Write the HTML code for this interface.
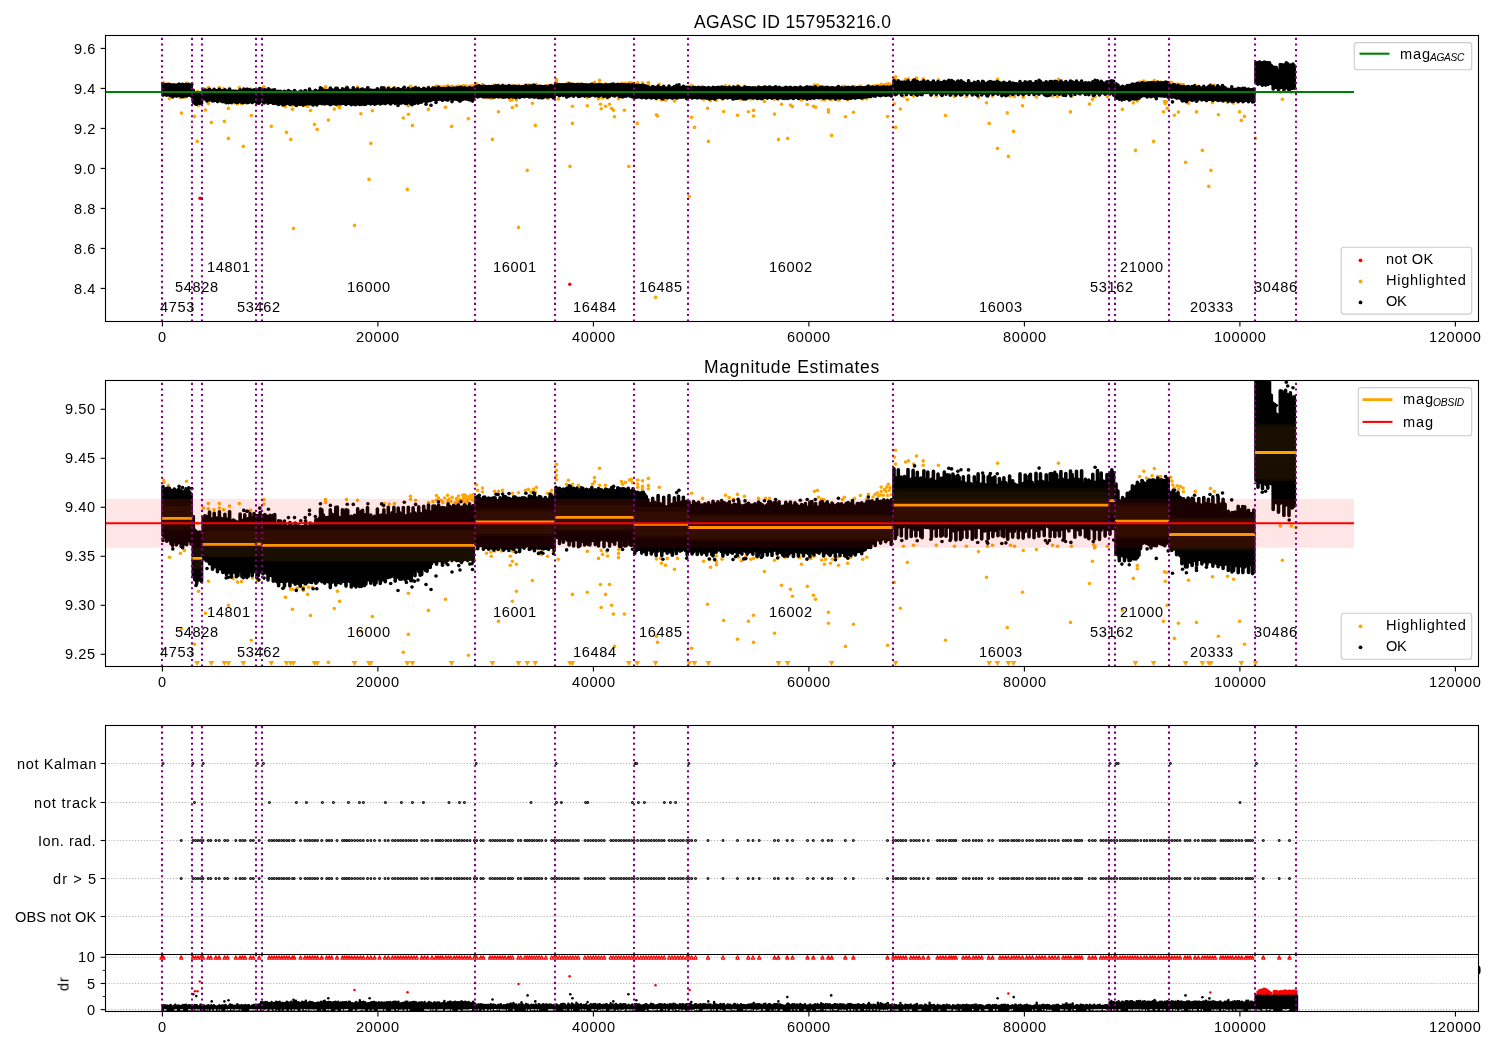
<!DOCTYPE html>
<html><head><meta charset="utf-8"><title>AGASC ID 157953216.0</title>
<style>
html,body{margin:0;padding:0;background:#fff;}
body{width:1500px;height:1050px;position:relative;overflow:hidden;font-family:"Liberation Sans",sans-serif;color:#000;}
svg{position:absolute;left:0;top:0;}
.t{position:absolute;white-space:nowrap;font-family:"Liberation Sans",sans-serif;will-change:transform;}
</style></head><body>
<svg width="1500" height="1050" viewBox="0 0 1500 1050">
<defs>
<clipPath id="c1"><rect x="105.5" y="35.5" width="1373.0" height="286.0"/></clipPath>
<clipPath id="c2"><rect x="105.5" y="380.5" width="1373.0" height="286.0"/></clipPath>
<clipPath id="c3"><rect x="105.5" y="725.5" width="1373.0" height="286.0"/></clipPath>
</defs>
<g clip-path="url(#c1)">
<g fill="#ffa500"><circle cx="169.5" cy="98.6" r="1.8"/><circle cx="180.4" cy="97.8" r="1.8"/><circle cx="184.4" cy="97.2" r="1.8"/><circle cx="208.4" cy="103.5" r="1.8"/><circle cx="198.5" cy="105.5" r="1.8"/><circle cx="205.5" cy="110.0" r="1.8"/><circle cx="228.4" cy="108.4" r="1.8"/><circle cx="181.5" cy="113.1" r="1.8"/><circle cx="194.5" cy="116.4" r="1.8"/><circle cx="251.3" cy="115.5" r="1.8"/><circle cx="233.2" cy="102.9" r="1.8"/><circle cx="237.5" cy="103.7" r="1.8"/><circle cx="241.5" cy="103.6" r="1.8"/><circle cx="252.4" cy="102.8" r="1.8"/><circle cx="257.5" cy="103.4" r="1.8"/><circle cx="283.6" cy="104.9" r="1.8"/><circle cx="285.5" cy="106.8" r="1.8"/><circle cx="290.8" cy="105.1" r="1.8"/><circle cx="292.9" cy="105.1" r="1.8"/><circle cx="297.2" cy="104.9" r="1.8"/><circle cx="303.3" cy="104.7" r="1.8"/><circle cx="303.3" cy="105.4" r="1.8"/><circle cx="307.6" cy="106.2" r="1.8"/><circle cx="308.4" cy="104.7" r="1.8"/><circle cx="312.4" cy="104.7" r="1.8"/><circle cx="292.4" cy="109.2" r="1.8"/><circle cx="310.5" cy="110.5" r="1.8"/><circle cx="337.5" cy="105.5" r="1.8"/><circle cx="339.6" cy="107.6" r="1.8"/><circle cx="334.3" cy="109.1" r="1.8"/><circle cx="372.4" cy="110.7" r="1.8"/><circle cx="360.9" cy="113.7" r="1.8"/><circle cx="328.4" cy="120.1" r="1.8"/><circle cx="408.4" cy="106.0" r="1.8"/><circle cx="445.5" cy="107.2" r="1.8"/><circle cx="428.4" cy="109.4" r="1.8"/><circle cx="408.4" cy="114.3" r="1.8"/><circle cx="403.3" cy="118.0" r="1.8"/><circle cx="468.4" cy="118.6" r="1.8"/><circle cx="486.5" cy="97.8" r="1.8"/><circle cx="490.8" cy="97.5" r="1.8"/><circle cx="491.3" cy="98.4" r="1.8"/><circle cx="494.8" cy="97.3" r="1.8"/><circle cx="501.5" cy="97.3" r="1.8"/><circle cx="510.3" cy="98.4" r="1.8"/><circle cx="512.7" cy="97.4" r="1.8"/><circle cx="515.3" cy="97.4" r="1.8"/><circle cx="512.4" cy="99.4" r="1.8"/><circle cx="516.4" cy="100.0" r="1.8"/><circle cx="510.3" cy="100.2" r="1.8"/><circle cx="538.5" cy="97.5" r="1.8"/><circle cx="541.2" cy="98.0" r="1.8"/><circle cx="547.6" cy="98.4" r="1.8"/><circle cx="553.5" cy="97.4" r="1.8"/><circle cx="532.4" cy="103.3" r="1.8"/><circle cx="516.4" cy="105.5" r="1.8"/><circle cx="512.4" cy="107.6" r="1.8"/><circle cx="498.5" cy="111.7" r="1.8"/><circle cx="558.3" cy="99.0" r="1.8"/><circle cx="587.3" cy="97.4" r="1.8"/><circle cx="601.2" cy="97.2" r="1.8"/><circle cx="602.5" cy="98.0" r="1.8"/><circle cx="598.5" cy="98.8" r="1.8"/><circle cx="606.8" cy="97.4" r="1.8"/><circle cx="607.6" cy="98.3" r="1.8"/><circle cx="618.8" cy="97.0" r="1.8"/><circle cx="618.5" cy="97.8" r="1.8"/><circle cx="618.5" cy="98.7" r="1.8"/><circle cx="600.4" cy="104.2" r="1.8"/><circle cx="609.5" cy="104.2" r="1.8"/><circle cx="572.4" cy="106.2" r="1.8"/><circle cx="587.3" cy="105.7" r="1.8"/><circle cx="605.5" cy="106.2" r="1.8"/><circle cx="601.2" cy="108.8" r="1.8"/><circle cx="611.6" cy="108.4" r="1.8"/><circle cx="613.5" cy="110.2" r="1.8"/><circle cx="624.4" cy="110.2" r="1.8"/><circle cx="614.5" cy="116.8" r="1.8"/><circle cx="656.4" cy="98.9" r="1.8"/><circle cx="660.7" cy="98.8" r="1.8"/><circle cx="667.3" cy="98.8" r="1.8"/><circle cx="677.5" cy="98.8" r="1.8"/><circle cx="661.5" cy="99.8" r="1.8"/><circle cx="665.5" cy="100.2" r="1.8"/><circle cx="674.5" cy="101.1" r="1.8"/><circle cx="656.4" cy="114.7" r="1.8"/><circle cx="657.5" cy="116.0" r="1.8"/><circle cx="691.6" cy="117.2" r="1.8"/><circle cx="703.6" cy="99.4" r="1.8"/><circle cx="709.5" cy="99.0" r="1.8"/><circle cx="710.5" cy="100.6" r="1.8"/><circle cx="716.4" cy="99.5" r="1.8"/><circle cx="716.4" cy="100.1" r="1.8"/><circle cx="722.0" cy="99.0" r="1.8"/><circle cx="716.4" cy="98.3" r="1.8"/><circle cx="738.8" cy="98.6" r="1.8"/><circle cx="741.5" cy="99.3" r="1.8"/><circle cx="746.0" cy="98.4" r="1.8"/><circle cx="750.8" cy="99.0" r="1.8"/><circle cx="753.5" cy="98.8" r="1.8"/><circle cx="757.5" cy="98.6" r="1.8"/><circle cx="774.5" cy="99.2" r="1.8"/><circle cx="778.5" cy="98.6" r="1.8"/><circle cx="785.2" cy="98.6" r="1.8"/><circle cx="793.5" cy="98.4" r="1.8"/><circle cx="799.6" cy="98.7" r="1.8"/><circle cx="801.5" cy="100.0" r="1.8"/><circle cx="806.5" cy="99.0" r="1.8"/><circle cx="810.8" cy="98.8" r="1.8"/><circle cx="814.3" cy="98.4" r="1.8"/><circle cx="821.5" cy="99.2" r="1.8"/><circle cx="825.5" cy="99.0" r="1.8"/><circle cx="824.4" cy="100.0" r="1.8"/><circle cx="830.5" cy="99.8" r="1.8"/><circle cx="832.4" cy="99.0" r="1.8"/><circle cx="837.5" cy="98.6" r="1.8"/><circle cx="838.5" cy="100.2" r="1.8"/><circle cx="844.4" cy="98.4" r="1.8"/><circle cx="847.6" cy="99.8" r="1.8"/><circle cx="850.8" cy="98.6" r="1.8"/><circle cx="862.8" cy="99.0" r="1.8"/><circle cx="866.8" cy="98.6" r="1.8"/><circle cx="764.4" cy="101.5" r="1.8"/><circle cx="781.5" cy="104.3" r="1.8"/><circle cx="790.5" cy="105.1" r="1.8"/><circle cx="792.4" cy="106.6" r="1.8"/><circle cx="807.3" cy="104.5" r="1.8"/><circle cx="813.5" cy="106.3" r="1.8"/><circle cx="815.6" cy="107.2" r="1.8"/><circle cx="707.6" cy="108.2" r="1.8"/><circle cx="723.6" cy="111.5" r="1.8"/><circle cx="748.4" cy="111.7" r="1.8"/><circle cx="753.5" cy="110.4" r="1.8"/><circle cx="737.5" cy="115.3" r="1.8"/><circle cx="753.5" cy="116.0" r="1.8"/><circle cx="774.5" cy="114.1" r="1.8"/><circle cx="828.4" cy="109.8" r="1.8"/><circle cx="828.4" cy="112.1" r="1.8"/><circle cx="853.5" cy="112.3" r="1.8"/><circle cx="845.5" cy="116.8" r="1.8"/><circle cx="887.6" cy="116.6" r="1.8"/><circle cx="894.3" cy="103.7" r="1.8"/><circle cx="900.4" cy="109.0" r="1.8"/><circle cx="907.3" cy="99.6" r="1.8"/><circle cx="945.5" cy="115.5" r="1.8"/><circle cx="978.5" cy="97.4" r="1.8"/><circle cx="986.5" cy="102.7" r="1.8"/><circle cx="1023.3" cy="97.2" r="1.8"/><circle cx="1036.4" cy="97.0" r="1.8"/><circle cx="1022.5" cy="105.7" r="1.8"/><circle cx="1007.3" cy="112.9" r="1.8"/><circle cx="1070.5" cy="111.9" r="1.8"/><circle cx="1092.4" cy="99.4" r="1.8"/><circle cx="1089.5" cy="104.0" r="1.8"/><circle cx="1094.5" cy="96.7" r="1.8"/><circle cx="903.5" cy="96.4" r="1.8"/><circle cx="913.6" cy="96.1" r="1.8"/><circle cx="936.3" cy="96.1" r="1.8"/><circle cx="954.4" cy="96.4" r="1.8"/><circle cx="966.4" cy="96.4" r="1.8"/><circle cx="987.5" cy="96.4" r="1.8"/><circle cx="992.5" cy="96.1" r="1.8"/><circle cx="1010.4" cy="96.1" r="1.8"/><circle cx="1014.4" cy="96.4" r="1.8"/><circle cx="1052.5" cy="96.1" r="1.8"/><circle cx="1057.6" cy="96.4" r="1.8"/><circle cx="1071.5" cy="96.4" r="1.8"/><circle cx="1093.6" cy="96.0" r="1.8"/><circle cx="1107.5" cy="96.4" r="1.8"/><circle cx="895.5" cy="76.8" r="1.8"/><circle cx="894.4" cy="78.2" r="1.8"/><circle cx="895.5" cy="79.6" r="1.8"/><circle cx="905.6" cy="79.2" r="1.8"/><circle cx="908.5" cy="78.9" r="1.8"/><circle cx="916.5" cy="78.0" r="1.8"/><circle cx="913.6" cy="79.6" r="1.8"/><circle cx="923.2" cy="78.9" r="1.8"/><circle cx="923.2" cy="79.8" r="1.8"/><circle cx="938.4" cy="79.8" r="1.8"/><circle cx="997.6" cy="79.4" r="1.8"/><circle cx="1058.4" cy="79.4" r="1.8"/><circle cx="1137.3" cy="100.3" r="1.8"/><circle cx="1137.3" cy="101.0" r="1.8"/><circle cx="1133.3" cy="102.9" r="1.8"/><circle cx="1164.5" cy="101.5" r="1.8"/><circle cx="1166.4" cy="101.7" r="1.8"/><circle cx="1165.3" cy="103.5" r="1.8"/><circle cx="1122.4" cy="109.4" r="1.8"/><circle cx="1167.2" cy="108.4" r="1.8"/><circle cx="1163.5" cy="111.7" r="1.8"/><circle cx="1178.4" cy="112.1" r="1.8"/><circle cx="1196.5" cy="111.9" r="1.8"/><circle cx="1174.4" cy="115.2" r="1.8"/><circle cx="1188.5" cy="103.3" r="1.8"/><circle cx="1212.5" cy="102.6" r="1.8"/><circle cx="1227.5" cy="102.5" r="1.8"/><circle cx="1233.6" cy="103.1" r="1.8"/><circle cx="1218.4" cy="114.7" r="1.8"/><circle cx="1239.5" cy="111.7" r="1.8"/><circle cx="1244.5" cy="116.4" r="1.8"/><circle cx="1282.4" cy="99.2" r="1.8"/><circle cx="1095.0" cy="96.4" r="1.8"/><circle cx="163.6" cy="82.8" r="1.8"/><circle cx="164.1" cy="83.3" r="1.8"/><circle cx="168.4" cy="83.9" r="1.8"/><circle cx="186.5" cy="83.1" r="1.8"/><circle cx="193.5" cy="92.5" r="1.8"/><circle cx="197.5" cy="91.6" r="1.8"/><circle cx="203.6" cy="88.5" r="1.8"/><circle cx="208.4" cy="87.6" r="1.8"/><circle cx="208.4" cy="88.7" r="1.8"/><circle cx="214.0" cy="88.9" r="1.8"/><circle cx="219.3" cy="87.6" r="1.8"/><circle cx="219.3" cy="88.5" r="1.8"/><circle cx="223.6" cy="88.9" r="1.8"/><circle cx="229.5" cy="88.2" r="1.8"/><circle cx="229.5" cy="89.2" r="1.8"/><circle cx="239.3" cy="87.6" r="1.8"/><circle cx="250.5" cy="89.0" r="1.8"/><circle cx="260.4" cy="88.6" r="1.8"/><circle cx="263.9" cy="86.8" r="1.8"/><circle cx="263.9" cy="87.7" r="1.8"/><circle cx="325.5" cy="86.8" r="1.8"/><circle cx="325.5" cy="87.4" r="1.8"/><circle cx="346.5" cy="86.8" r="1.8"/><circle cx="357.5" cy="87.0" r="1.8"/><circle cx="384.4" cy="87.6" r="1.8"/><circle cx="389.2" cy="87.7" r="1.8"/><circle cx="394.5" cy="87.6" r="1.8"/><circle cx="410.5" cy="86.2" r="1.8"/><circle cx="410.5" cy="86.7" r="1.8"/><circle cx="415.6" cy="87.0" r="1.8"/><circle cx="436.4" cy="86.0" r="1.8"/><circle cx="436.4" cy="86.9" r="1.8"/><circle cx="440.9" cy="87.0" r="1.8"/><circle cx="447.6" cy="85.9" r="1.8"/><circle cx="452.1" cy="86.4" r="1.8"/><circle cx="447.6" cy="87.1" r="1.8"/><circle cx="462.8" cy="85.9" r="1.8"/><circle cx="466.8" cy="86.2" r="1.8"/><circle cx="462.8" cy="86.9" r="1.8"/><circle cx="467.6" cy="86.9" r="1.8"/><circle cx="465.2" cy="87.4" r="1.8"/><circle cx="472.4" cy="86.9" r="1.8"/><circle cx="442.8" cy="87.4" r="1.8"/><circle cx="455.6" cy="87.4" r="1.8"/><circle cx="476.4" cy="83.8" r="1.8"/><circle cx="477.7" cy="85.0" r="1.8"/><circle cx="482.5" cy="84.5" r="1.8"/><circle cx="482.5" cy="85.3" r="1.8"/><circle cx="494.5" cy="85.1" r="1.8"/><circle cx="498.5" cy="85.1" r="1.8"/><circle cx="502.5" cy="85.0" r="1.8"/><circle cx="498.5" cy="85.6" r="1.8"/><circle cx="512.4" cy="85.5" r="1.8"/><circle cx="518.5" cy="85.4" r="1.8"/><circle cx="525.5" cy="85.0" r="1.8"/><circle cx="528.4" cy="84.7" r="1.8"/><circle cx="530.8" cy="85.3" r="1.8"/><circle cx="533.5" cy="84.7" r="1.8"/><circle cx="536.4" cy="84.3" r="1.8"/><circle cx="535.3" cy="85.3" r="1.8"/><circle cx="547.6" cy="85.5" r="1.8"/><circle cx="551.6" cy="85.0" r="1.8"/><circle cx="552.4" cy="85.8" r="1.8"/><circle cx="556.4" cy="79.6" r="1.8"/><circle cx="556.4" cy="80.9" r="1.8"/><circle cx="556.4" cy="81.9" r="1.8"/><circle cx="556.4" cy="82.7" r="1.8"/><circle cx="568.4" cy="82.9" r="1.8"/><circle cx="566.5" cy="83.7" r="1.8"/><circle cx="572.4" cy="83.7" r="1.8"/><circle cx="578.5" cy="83.9" r="1.8"/><circle cx="599.6" cy="80.4" r="1.8"/><circle cx="594.5" cy="82.3" r="1.8"/><circle cx="594.5" cy="83.2" r="1.8"/><circle cx="592.4" cy="83.7" r="1.8"/><circle cx="599.6" cy="83.9" r="1.8"/><circle cx="605.5" cy="83.9" r="1.8"/><circle cx="621.5" cy="83.2" r="1.8"/><circle cx="625.5" cy="83.3" r="1.8"/><circle cx="622.5" cy="83.7" r="1.8"/><circle cx="629.5" cy="82.8" r="1.8"/><circle cx="631.3" cy="82.7" r="1.8"/><circle cx="632.4" cy="83.3" r="1.8"/><circle cx="637.7" cy="82.8" r="1.8"/><circle cx="637.7" cy="83.6" r="1.8"/><circle cx="637.7" cy="84.3" r="1.8"/><circle cx="642.5" cy="83.0" r="1.8"/><circle cx="642.5" cy="84.1" r="1.8"/><circle cx="642.5" cy="84.8" r="1.8"/><circle cx="648.4" cy="82.5" r="1.8"/><circle cx="648.4" cy="84.0" r="1.8"/><circle cx="648.4" cy="84.6" r="1.8"/><circle cx="659.3" cy="84.3" r="1.8"/><circle cx="691.6" cy="85.5" r="1.8"/><circle cx="702.5" cy="86.6" r="1.8"/><circle cx="725.5" cy="85.9" r="1.8"/><circle cx="729.2" cy="86.4" r="1.8"/><circle cx="733.5" cy="86.7" r="1.8"/><circle cx="737.5" cy="85.8" r="1.8"/><circle cx="744.4" cy="86.2" r="1.8"/><circle cx="758.5" cy="86.6" r="1.8"/><circle cx="765.5" cy="86.6" r="1.8"/><circle cx="769.5" cy="86.6" r="1.8"/><circle cx="814.5" cy="85.1" r="1.8"/><circle cx="817.5" cy="85.0" r="1.8"/><circle cx="818.5" cy="86.4" r="1.8"/><circle cx="821.5" cy="86.7" r="1.8"/><circle cx="823.6" cy="86.8" r="1.8"/><circle cx="844.4" cy="86.4" r="1.8"/><circle cx="854.5" cy="86.6" r="1.8"/><circle cx="860.4" cy="86.0" r="1.8"/><circle cx="868.4" cy="85.8" r="1.8"/><circle cx="866.5" cy="86.8" r="1.8"/><circle cx="842.5" cy="86.8" r="1.8"/><circle cx="875.0" cy="85.8" r="1.8"/><circle cx="877.3" cy="85.5" r="1.8"/><circle cx="881.2" cy="84.3" r="1.8"/><circle cx="881.2" cy="85.2" r="1.8"/><circle cx="886.0" cy="85.2" r="1.8"/><circle cx="886.8" cy="84.3" r="1.8"/><circle cx="888.3" cy="83.7" r="1.8"/><circle cx="891.2" cy="85.8" r="1.8"/><circle cx="883.1" cy="85.9" r="1.8"/><circle cx="878.7" cy="86.1" r="1.8"/><circle cx="873.0" cy="86.3" r="1.8"/><circle cx="884.5" cy="84.8" r="1.8"/><circle cx="889.5" cy="85.0" r="1.8"/><circle cx="880.0" cy="85.9" r="1.8"/><circle cx="887.5" cy="86.0" r="1.8"/><circle cx="890.0" cy="84.4" r="1.8"/><circle cx="1143.8" cy="81.0" r="1.8"/><circle cx="1139.6" cy="82.1" r="1.8"/><circle cx="1146.5" cy="82.4" r="1.8"/><circle cx="1154.4" cy="80.5" r="1.8"/><circle cx="1152.1" cy="82.0" r="1.8"/><circle cx="1157.5" cy="82.1" r="1.8"/><circle cx="1160.5" cy="82.1" r="1.8"/><circle cx="1170.7" cy="82.3" r="1.8"/><circle cx="1172.0" cy="83.1" r="1.8"/><circle cx="1172.7" cy="83.8" r="1.8"/><circle cx="1174.2" cy="84.5" r="1.8"/><circle cx="1177.3" cy="84.0" r="1.8"/><circle cx="1178.5" cy="84.8" r="1.8"/><circle cx="1180.3" cy="84.2" r="1.8"/><circle cx="1183.1" cy="84.5" r="1.8"/><circle cx="1183.4" cy="85.2" r="1.8"/><circle cx="1195.3" cy="85.2" r="1.8"/><circle cx="1210.4" cy="84.6" r="1.8"/><circle cx="1214.3" cy="85.2" r="1.8"/><circle cx="456.5" cy="86.6" r="1.8"/><circle cx="458.5" cy="86.1" r="1.8"/><circle cx="460.0" cy="86.8" r="1.8"/><circle cx="461.0" cy="87.2" r="1.8"/><circle cx="463.5" cy="86.4" r="1.8"/><circle cx="464.5" cy="85.8" r="1.8"/><circle cx="466.0" cy="86.7" r="1.8"/><circle cx="468.0" cy="87.3" r="1.8"/><circle cx="469.5" cy="86.4" r="1.8"/><circle cx="470.5" cy="86.0" r="1.8"/><circle cx="471.5" cy="86.7" r="1.8"/><circle cx="473.0" cy="86.3" r="1.8"/><circle cx="474.0" cy="87.1" r="1.8"/><circle cx="473.5" cy="85.8" r="1.8"/><circle cx="457.5" cy="87.2" r="1.8"/><circle cx="451.0" cy="87.2" r="1.8"/><circle cx="449.0" cy="86.7" r="1.8"/><circle cx="444.5" cy="86.5" r="1.8"/><circle cx="438.5" cy="86.5" r="1.8"/><circle cx="433.0" cy="87.2" r="1.8"/><circle cx="428.5" cy="87.4" r="1.8"/><circle cx="1256.3" cy="63.0" r="1.8"/><circle cx="1268.3" cy="63.0" r="1.8"/><circle cx="1280.3" cy="92.2" r="1.8"/><circle cx="1291.4" cy="92.2" r="1.8"/><circle cx="1296.0" cy="92.5" r="1.8"/><circle cx="197.2" cy="141.4" r="1.8"/><circle cx="211.3" cy="122.4" r="1.8"/><circle cx="224.4" cy="121.4" r="1.8"/><circle cx="228.4" cy="138.4" r="1.8"/><circle cx="243.3" cy="146.4" r="1.8"/><circle cx="271.3" cy="126.4" r="1.8"/><circle cx="286.5" cy="132.4" r="1.8"/><circle cx="290.8" cy="139.4" r="1.8"/><circle cx="314.5" cy="124.4" r="1.8"/><circle cx="317.2" cy="129.4" r="1.8"/><circle cx="370.8" cy="143.4" r="1.8"/><circle cx="369.0" cy="179.4" r="1.8"/><circle cx="407.3" cy="189.4" r="1.8"/><circle cx="412.4" cy="125.4" r="1.8"/><circle cx="293.5" cy="228.4" r="1.8"/><circle cx="354.5" cy="225.4" r="1.8"/><circle cx="451.6" cy="126.4" r="1.8"/><circle cx="492.4" cy="139.4" r="1.8"/><circle cx="535.3" cy="125.4" r="1.8"/><circle cx="527.3" cy="170.4" r="1.8"/><circle cx="518.5" cy="227.4" r="1.8"/><circle cx="572.4" cy="123.4" r="1.8"/><circle cx="570.0" cy="166.4" r="1.8"/><circle cx="628.8" cy="166.4" r="1.8"/><circle cx="637.2" cy="123.4" r="1.8"/><circle cx="694.5" cy="127.4" r="1.8"/><circle cx="708.4" cy="141.4" r="1.8"/><circle cx="689.2" cy="196.4" r="1.8"/><circle cx="655.6" cy="297.4" r="1.8"/><circle cx="778.5" cy="139.4" r="1.8"/><circle cx="787.6" cy="138.4" r="1.8"/><circle cx="831.6" cy="135.4" r="1.8"/><circle cx="895.6" cy="127.4" r="1.8"/><circle cx="989.2" cy="123.4" r="1.8"/><circle cx="997.5" cy="148.4" r="1.8"/><circle cx="1008.4" cy="156.4" r="1.8"/><circle cx="1013.5" cy="131.4" r="1.8"/><circle cx="1135.5" cy="150.4" r="1.8"/><circle cx="1153.6" cy="141.4" r="1.8"/><circle cx="1185.6" cy="162.4" r="1.8"/><circle cx="1202.4" cy="150.4" r="1.8"/><circle cx="1210.9" cy="170.4" r="1.8"/><circle cx="1208.8" cy="186.4" r="1.8"/><circle cx="1241.3" cy="120.4" r="1.8"/><circle cx="1255.5" cy="138.4" r="1.8"/></g>
<path d="M163.0 84.2V94.1M164.6 84.7V94.5M166.7 84.5V95.3M168.1 84.5V94.6M169.4 84.5V95.1M171.0 84.9V95.8M172.5 85.0V96.2M174.3 84.7V95.3M176.3 85.2V96.1M177.9 84.8V95.7M179.2 84.7V95.4M181.2 85.0V96.4M182.6 85.3V96.7M184.7 85.0V95.8M186.7 85.1V96.1M188.2 84.9V95.2M189.7 85.3V94.7M191.1 85.7V95.9M193.3 90.3V102.3M194.7 93.1V103.2M196.7 93.4V103.9M198.2 93.7V103.3M199.8 93.4V103.2M201.5 94.1V103.5M203.2 90.5V98.4M204.8 90.1V99.0M206.2 90.2V99.3M208.0 90.5V99.4M209.5 89.3V99.9M211.2 90.7V99.9M212.5 90.8V101.0M214.2 89.6V100.6M215.7 90.5V100.3M217.5 90.6V101.6M219.4 89.3V100.4M220.8 90.6V101.0M222.8 90.8V101.7M224.9 89.8V101.6M226.4 90.8V102.1M228.1 91.4V101.7M229.6 89.3V101.8M231.4 91.2V102.6M233.4 91.0V101.5M235.1 91.2V101.8M236.4 91.4V102.6M238.0 91.5V102.3M240.1 89.8V101.5M241.9 91.0V102.5M243.3 91.2V102.8M244.8 90.0V101.7M246.9 90.9V102.7M248.3 90.7V102.5M250.1 89.7V101.6M252.2 90.6V102.4M254.1 89.7V101.5M257.0 90.1V102.8M258.4 90.3V102.3M260.1 89.5V101.6M263.0 90.1V102.0M264.8 89.9V101.6M266.7 90.2V101.8M268.0 90.5V103.2M270.1 90.0V102.2M271.8 90.5V102.4M273.3 90.1V103.5M274.7 89.9V103.1M276.8 91.8V103.6M278.6 91.9V104.4M280.6 91.2V103.5M282.5 92.4V103.5M284.5 91.2V104.5M286.3 92.2V103.5M287.8 92.6V103.4M289.9 91.5V104.4M291.6 92.1V103.6M293.2 92.8V103.7M295.2 91.6V104.1M296.5 92.8V103.6M298.5 92.2V104.0M300.3 92.4V104.5M302.1 92.4V103.4M303.5 92.4V103.8M305.6 91.1V104.1M306.9 92.3V103.8M308.4 92.5V103.4M310.2 91.6V103.7M311.8 91.9V103.7M313.8 92.3V103.3M315.9 90.9V103.9M317.2 91.9V103.6M319.2 90.7V103.3M320.6 88.8V103.2M321.9 88.9V103.6M323.4 90.0V103.5M324.7 90.5V103.9M326.8 90.5V103.5M328.7 90.4V103.6M330.3 88.9V104.8M332.3 89.8V103.7M334.0 90.7V103.4M335.8 88.4V104.3M337.3 88.4V103.6M338.8 90.5V103.8M340.8 90.5V103.9M342.4 88.9V103.1M344.2 90.3V103.5M346.0 88.9V104.5M347.7 89.0V103.2M349.3 90.4V103.5M351.3 90.3V104.7M353.2 90.4V103.6M354.6 90.0V104.4M356.0 90.1V104.6M357.7 88.7V103.1M359.6 90.7V104.5M361.3 89.2V104.5M362.6 89.0V103.1M364.4 90.3V104.4M365.9 89.9V104.1M367.5 88.4V103.0M368.9 90.5V103.2M370.8 90.0V103.9M372.7 90.6V103.2M374.6 90.2V104.2M376.0 90.5V103.8M377.4 88.8V102.9M378.7 90.2V103.0M380.3 90.1V103.9M382.1 89.9V103.2M383.9 88.9V103.0M385.3 90.1V103.6M386.8 90.3V102.4M388.3 88.4V102.7M390.2 90.2V102.6M392.0 89.5V102.5M393.9 88.4V102.2M395.2 89.9V103.5M396.7 90.4V102.2M398.2 88.6V102.6M399.7 89.5V103.1M401.3 89.9V103.1M403.3 88.5V102.2M404.9 90.2V103.2M406.3 90.2V103.1M408.3 88.4V101.3M409.7 90.1V103.0M411.3 89.8V103.0M413.1 88.5V101.5M415.0 89.6V102.4M417.1 89.9V101.0M418.7 88.3V101.5M420.1 89.6V102.3M421.7 89.8V102.1M423.7 88.2V100.8M425.6 89.2V101.3M427.1 89.2V101.4M428.5 87.9V100.5M430.2 89.8V100.7M431.6 89.3V99.9M433.0 88.1V99.3M434.8 88.1V99.5M436.6 88.6V100.0M438.6 87.9V99.3M440.4 88.5V99.2M442.4 88.5V99.9M444.3 88.5V99.0M446.1 88.7V99.7M448.1 87.7V99.2M449.9 88.2V98.8M451.9 88.6V99.3M453.6 88.0V98.9M455.1 88.6V99.1M456.7 88.1V99.3M458.3 87.9V99.2M460.2 88.5V99.4M461.6 88.3V99.7M463.0 88.4V99.2M464.5 87.9V98.8M466.0 88.2V99.0M467.7 88.5V99.3M469.6 87.7V99.0M471.7 88.4V99.1M473.3 88.1V99.4M476.0 86.3V96.0M477.7 86.2V96.9M479.5 86.5V96.2M481.6 86.8V96.1M483.4 86.4V97.0M484.8 86.3V96.7M486.5 86.7V96.5M488.6 86.5V97.0M489.9 86.6V96.6M491.7 86.6V96.7M493.8 86.4V97.1M495.1 86.5V96.8M496.8 87.0V96.3M498.2 87.1V97.0M500.0 86.5V96.4M501.9 86.8V96.7M503.5 86.2V97.2M505.3 86.2V96.9M507.1 86.5V96.4M508.9 86.6V97.2M510.8 86.8V96.3M512.3 86.7V96.8M513.8 86.3V97.0M515.2 86.3V96.5M516.6 86.5V96.5M517.9 86.8V96.5M519.6 86.5V97.4M520.9 87.0V96.5M522.3 86.5V96.2M524.1 86.5V96.8M525.4 86.5V96.4M527.5 86.9V96.1M529.3 86.1V97.0M530.7 86.1V96.8M532.7 86.4V96.6M534.4 86.0V97.3M536.4 86.5V96.6M537.8 86.9V96.7M539.3 86.2V96.7M540.7 86.3V96.5M542.1 86.8V96.8M543.6 86.8V96.9M545.3 86.4V96.4M546.6 86.8V96.8M548.6 86.8V97.0M550.0 86.2V96.4M551.4 86.1V96.5M552.8 86.6V96.7M554.1 86.3V97.2M556.0 84.3V94.5M557.9 84.7V94.6M559.5 84.5V95.8M561.5 84.9V94.8M563.4 84.7V95.5M565.3 84.7V94.7M567.1 84.5V95.1M569.1 84.9V96.1M570.6 84.2V95.2M572.1 84.5V95.2M573.6 84.5V96.3M575.2 84.8V94.8M577.0 84.5V95.1M578.5 84.9V96.5M580.0 85.1V96.2M581.3 84.4V95.0M582.8 84.6V95.4M584.6 84.9V96.1M586.5 84.7V95.3M588.2 85.0V96.0M589.9 84.8V96.1M591.8 84.4V95.2M593.6 85.1V94.9M595.2 84.8V96.0M596.9 85.0V95.2M598.5 84.6V96.3M600.3 84.8V95.1M602.0 84.9V94.9M604.0 85.1V96.5M605.7 84.7V94.9M607.8 84.8V95.2M609.6 84.9V96.3M611.7 84.4V94.8M613.1 84.7V95.4M614.7 85.1V95.9M616.3 85.0V95.0M617.8 84.4V95.0M619.6 84.7V96.4M621.1 84.7V96.4M623.2 84.6V95.0M624.8 84.7V96.3M626.2 85.0V96.2M628.2 84.5V94.9M629.9 85.0V96.1M631.5 85.1V96.2M633.0 84.6V95.3M635.0 85.2V97.4M636.4 85.6V97.3M637.8 85.3V97.0M639.7 85.5V97.0M641.7 85.4V97.7M643.3 85.3V96.9M644.8 85.8V97.4M646.3 86.2V98.0M647.8 86.9V97.1M649.3 87.6V97.1M651.3 87.7V97.9M652.7 86.6V97.4M654.5 87.4V97.2M656.1 87.8V98.2M658.1 86.0V97.3M659.8 87.6V97.1M661.8 87.8V98.2M663.7 86.4V97.3M665.6 88.4V97.3M667.2 88.3V97.8M669.0 86.0V96.9M670.5 88.0V97.5M672.4 87.8V98.2M674.3 86.5V97.1M676.4 87.6V97.9M678.5 86.2V97.1M680.1 87.9V97.3M681.9 87.3V97.2M683.4 86.4V97.0M685.5 87.3V97.2M687.2 87.2V98.2M689.0 87.3V97.3M690.6 88.2V97.2M692.1 88.0V97.9M693.5 87.2V97.5M695.3 87.6V97.1M697.2 87.9V98.0M698.6 87.4V97.4M700.2 88.0V97.4M701.6 87.9V98.0M703.5 87.9V97.5M704.9 87.7V97.6M706.7 88.2V98.2M708.5 87.5V97.4M709.8 88.0V97.1M711.7 88.2V98.1M713.0 87.2V98.3M714.8 87.7V97.3M716.1 87.9V97.6M717.9 87.3V97.1M719.7 87.6V97.1M721.2 87.9V97.4M722.9 87.4V98.4M724.5 87.5V97.6M725.9 88.0V97.2M727.5 87.7V98.0M729.4 87.3V97.1M730.7 88.2V97.5M732.5 88.0V97.8M734.1 87.7V97.4M735.6 87.9V97.4M737.4 87.9V98.2M738.8 87.1V97.6M740.1 88.0V97.4M741.9 88.2V98.0M743.8 88.0V97.1M745.8 87.9V97.5M747.2 87.7V98.0M748.5 87.6V97.6M750.1 87.9V97.5M751.4 88.3V97.2M752.9 87.9V98.0M755.0 87.7V97.2M757.0 88.3V98.4M758.6 87.3V98.2M760.6 87.7V97.7M762.5 87.9V98.4M764.5 88.4V97.3M765.9 88.1V97.4M767.3 87.9V98.1M768.9 87.2V97.2M770.4 87.3V97.4M772.0 88.3V98.2M774.0 87.5V97.2M775.6 87.4V97.1M777.2 88.4V97.9M779.1 87.3V97.5M780.8 88.4V97.6M782.6 88.2V98.1M784.1 88.2V98.4M785.8 87.3V97.8M787.6 87.8V98.4M789.0 88.2V97.9M790.4 87.3V97.6M791.8 88.2V97.6M793.4 88.1V98.4M795.0 87.5V97.2M796.9 87.9V97.5M798.4 88.2V98.4M799.9 88.3V97.6M801.6 87.8V97.5M803.5 88.2V98.3M805.4 87.6V97.3M806.8 88.5V97.6M808.5 88.4V97.9M809.9 87.3V98.5M811.9 87.2V97.6M813.9 88.2V98.1M815.6 87.6V97.4M817.4 88.4V97.6M819.1 88.4V97.8M820.5 87.4V97.3M822.2 87.2V97.3M823.6 88.5V98.3M825.7 87.6V97.7M827.2 87.3V97.3M828.6 87.9V97.9M830.1 88.2V98.2M832.0 87.5V97.6M833.9 88.0V97.2M835.3 88.3V98.4M836.9 87.9V97.4M838.3 87.7V97.4M840.0 88.2V98.3M841.6 87.7V97.5M843.3 88.3V97.6M844.7 88.0V98.3M846.1 87.6V98.4M848.1 87.4V97.6M849.6 87.7V98.1M850.9 87.7V98.2M852.5 87.0V97.4M853.9 88.1V97.8M855.3 88.3V98.1M857.3 87.6V97.5M858.6 87.6V97.2M860.0 87.9V97.4M861.7 87.5V97.9M863.8 87.8V97.2M865.3 87.7V97.0M867.1 87.2V96.6M868.9 87.1V96.5M870.7 87.3V96.6M872.0 87.1V95.7M873.4 87.3V95.7M875.2 87.5V96.2M877.1 86.8V94.7M878.6 87.2V95.1M880.6 87.2V95.7M882.4 87.2V94.9M883.8 86.9V94.6M885.7 87.5V95.4M887.4 87.0V95.0M889.2 87.2V94.9M891.3 86.9V96.0M894.0 80.6V92.7M895.3 82.8V94.8M896.8 82.4V94.0M898.3 80.8V92.4M899.7 82.3V92.4M901.3 82.2V94.3M902.9 82.4V92.3M904.5 82.1V92.2M906.4 82.4V94.7M908.0 80.7V92.5M909.5 82.8V92.3M911.2 82.7V94.4M913.1 80.9V92.7M914.5 82.5V92.9M915.9 83.1V94.3M917.3 81.2V92.4M919.2 82.7V93.0M920.8 82.4V94.4M922.1 82.4V94.6M923.9 80.9V92.4M926.0 82.8V92.5M927.8 81.2V92.5M929.6 82.9V92.6M931.4 82.7V94.6M933.4 81.1V92.6M935.0 83.1V92.1M936.3 83.1V94.3M938.0 81.6V92.3M939.3 82.9V92.5M940.9 82.5V94.3M942.2 82.5V94.2M944.3 81.2V92.2M946.0 83.4V94.3M947.4 81.8V92.5M949.2 81.8V92.3M950.8 83.1V94.8M952.9 81.6V92.7M954.2 82.1V93.2M955.9 83.8V95.1M957.8 81.8V93.0M959.1 82.3V93.0M960.6 83.4V94.9M962.0 83.3V94.6M963.3 82.2V92.8M965.1 83.5V92.8M967.0 83.7V94.6M968.6 82.0V92.6M970.7 83.6V92.8M972.3 84.1V94.9M974.3 82.2V92.5M976.0 83.3V94.5M978.1 81.6V92.5M980.2 83.9V92.6M981.7 83.6V94.9M983.4 81.9V93.1M984.8 83.7V93.2M986.2 83.9V92.7M988.2 82.2V94.8M989.6 82.0V93.1M991.3 83.6V92.2M992.9 82.4V94.4M994.9 82.2V93.1M996.5 83.9V93.0M998.0 84.0V94.2M999.4 82.5V92.4M1000.8 84.0V92.7M1002.2 83.3V94.2M1003.9 82.4V94.4M1005.9 83.4V92.4M1007.7 83.9V94.9M1009.6 82.0V93.2M1010.9 83.8V92.6M1012.7 83.0V94.5M1014.4 83.6V93.3M1016.5 83.8V92.6M1018.3 84.0V94.6M1020.0 81.6V92.7M1021.4 83.7V93.1M1023.2 83.6V94.7M1025.2 81.8V93.3M1027.3 83.1V92.4M1029.0 82.0V94.4M1030.4 81.7V92.6M1032.1 83.3V92.3M1034.0 83.8V94.6M1036.0 81.5V93.1M1037.4 83.2V92.4M1038.9 83.4V94.3M1040.5 81.6V92.7M1042.1 83.1V92.8M1044.2 83.3V94.2M1046.2 81.7V92.2M1048.0 83.4V92.3M1050.1 81.5V94.4M1051.5 81.5V92.3M1052.9 82.6V92.9M1054.8 81.3V94.4M1056.7 81.8V93.0M1058.1 82.9V92.5M1059.4 83.0V94.2M1060.9 81.1V92.6M1062.8 82.7V93.0M1064.1 83.3V94.9M1065.8 81.5V92.7M1067.3 82.9V92.4M1068.9 83.2V93.2M1070.5 81.0V92.3M1072.1 81.7V92.6M1073.5 83.2V92.3M1074.9 82.6V94.5M1076.5 81.0V92.7M1078.1 82.7V93.0M1080.1 83.1V94.0M1081.6 81.0V92.5M1083.4 83.4V92.6M1085.4 82.7V94.4M1086.9 83.3V92.6M1088.8 82.8V94.8M1090.8 83.2V92.4M1092.8 81.7V92.8M1094.4 83.3V94.8M1095.8 83.3V92.4M1097.5 80.9V92.9M1099.5 82.8V95.0M1101.2 81.4V93.1M1103.3 83.0V92.6M1105.1 83.2V94.3M1107.0 81.7V92.9M1110.0 81.4V93.9M1111.8 80.8V92.7M1113.6 81.3V92.7M1116.0 83.7V97.9M1117.9 85.1V98.2M1119.3 87.1V99.3M1120.8 87.4V98.2M1122.6 86.4V98.3M1124.5 87.3V99.3M1125.9 86.7V98.5M1127.3 85.6V98.5M1129.0 85.6V99.3M1130.6 85.2V99.2M1132.4 84.0V98.4M1134.0 84.6V98.9M1136.0 84.1V98.9M1137.4 83.3V98.6M1139.0 84.1V98.2M1140.6 83.7V96.8M1142.4 83.1V95.8M1143.8 83.4V95.5M1145.8 83.6V95.7M1147.8 83.1V95.8M1149.1 82.8V96.0M1151.0 82.9V96.7M1153.1 82.8V95.9M1154.4 82.9V96.2M1156.4 83.2V96.3M1157.8 82.4V95.7M1159.1 82.9V95.7M1161.2 82.8V95.9M1163.1 82.9V96.0M1164.9 83.0V96.2M1166.8 82.8V95.6M1168.2 82.8V95.7M1170.0 85.4V96.5M1171.8 85.6V97.2M1173.2 84.9V96.6M1174.6 85.6V96.9M1176.6 86.3V98.1M1178.0 85.4V97.8M1180.1 86.4V98.3M1181.9 86.7V99.9M1183.7 86.6V99.0M1185.5 87.1V100.6M1187.1 87.0V100.6M1188.6 86.8V99.4M1190.4 87.7V99.6M1192.1 86.6V100.2M1193.4 86.7V99.3M1195.3 87.6V99.3M1196.8 88.0V100.2M1198.8 86.6V99.0M1200.4 87.9V98.7M1201.9 88.3V99.9M1203.8 86.4V99.0M1205.2 88.2V99.5M1206.9 87.7V100.1M1208.4 86.7V99.2M1209.9 87.8V99.5M1211.4 88.1V99.5M1212.9 86.3V100.4M1214.6 87.9V99.1M1216.4 88.1V99.8M1218.1 86.3V100.5M1219.4 87.8V100.1M1221.1 87.7V100.0M1223.1 86.8V100.9M1225.1 87.8V100.0M1227.0 89.4V99.7M1228.3 89.2V101.3M1230.0 90.1V99.8M1232.0 89.5V101.6M1233.5 89.5V101.3M1235.0 89.4V100.3M1236.5 89.7V100.3M1238.2 88.2V101.7M1239.8 88.8V100.4M1241.5 89.6V100.0M1242.9 88.7V101.7M1244.7 88.3V100.6M1246.6 89.5V100.3M1248.5 89.0V101.7M1250.6 89.7V100.0M1252.5 89.6V101.9M1253.8 89.0V101.7M1256.0 62.8V82.9M1258.0 62.6V84.3M1259.8 62.1V83.1M1261.2 62.8V83.4M1262.5 62.8V84.6M1264.3 62.0V83.3M1266.2 62.5V83.7M1267.8 62.9V84.5M1269.5 62.8V83.4M1271.3 65.6V83.6M1273.2 67.2V88.9M1274.7 67.4V87.3M1276.7 69.4V87.5M1278.5 71.0V89.4M1280.3 64.6V87.6M1282.0 64.7V87.3M1283.9 65.1V90.0M1285.6 64.5V88.0M1287.1 65.4V87.6M1289.0 69.4V90.1M1290.4 65.1V88.2M1292.3 66.0V88.5M1294.3 65.9V88.1" stroke="#000" stroke-width="3.6" stroke-linecap="round" fill="none"/>
<g fill="#000"><circle cx="163.0" cy="95.1" r="1.8"/><circle cx="172.8" cy="96.9" r="1.8"/><circle cx="179.1" cy="84.1" r="1.8"/><circle cx="182.5" cy="84.4" r="1.8"/><circle cx="186.0" cy="84.6" r="1.8"/><circle cx="188.8" cy="84.4" r="1.8"/><circle cx="191.8" cy="84.6" r="1.8"/><circle cx="196.0" cy="104.3" r="1.8"/><circle cx="207.0" cy="100.9" r="1.8"/><circle cx="226.2" cy="102.8" r="1.8"/><circle cx="228.6" cy="102.7" r="1.8"/><circle cx="243.8" cy="89.0" r="1.8"/><circle cx="246.7" cy="89.2" r="1.8"/><circle cx="247.6" cy="89.2" r="1.8"/><circle cx="258.9" cy="103.2" r="1.8"/><circle cx="259.7" cy="88.6" r="1.8"/><circle cx="264.1" cy="102.9" r="1.8"/><circle cx="282.9" cy="104.9" r="1.8"/><circle cx="296.3" cy="105.4" r="1.8"/><circle cx="300.8" cy="91.1" r="1.8"/><circle cx="303.2" cy="105.1" r="1.8"/><circle cx="313.1" cy="105.0" r="1.8"/><circle cx="316.8" cy="105.0" r="1.8"/><circle cx="320.4" cy="87.7" r="1.8"/><circle cx="330.4" cy="88.0" r="1.8"/><circle cx="347.2" cy="87.8" r="1.8"/><circle cx="353.3" cy="87.8" r="1.8"/><circle cx="367.9" cy="87.7" r="1.8"/><circle cx="381.6" cy="87.7" r="1.8"/><circle cx="383.6" cy="88.0" r="1.8"/><circle cx="390.7" cy="104.0" r="1.8"/><circle cx="404.3" cy="87.4" r="1.8"/><circle cx="406.4" cy="103.7" r="1.8"/><circle cx="410.9" cy="103.4" r="1.8"/><circle cx="413.0" cy="103.4" r="1.8"/><circle cx="415.6" cy="87.8" r="1.8"/><circle cx="414.6" cy="103.5" r="1.8"/><circle cx="438.4" cy="87.3" r="1.8"/><circle cx="442.5" cy="100.2" r="1.8"/><circle cx="447.9" cy="100.1" r="1.8"/><circle cx="458.8" cy="100.3" r="1.8"/><circle cx="460.9" cy="87.3" r="1.8"/><circle cx="469.8" cy="100.0" r="1.8"/><circle cx="472.0" cy="99.9" r="1.8"/><circle cx="479.2" cy="85.9" r="1.8"/><circle cx="496.0" cy="85.7" r="1.8"/><circle cx="498.0" cy="85.8" r="1.8"/><circle cx="502.7" cy="85.7" r="1.8"/><circle cx="509.0" cy="85.6" r="1.8"/><circle cx="516.0" cy="97.6" r="1.8"/><circle cx="525.9" cy="85.5" r="1.8"/><circle cx="533.4" cy="85.4" r="1.8"/><circle cx="534.7" cy="85.6" r="1.8"/><circle cx="538.5" cy="97.8" r="1.8"/><circle cx="541.2" cy="97.6" r="1.8"/><circle cx="542.9" cy="97.8" r="1.8"/><circle cx="550.1" cy="85.7" r="1.8"/><circle cx="553.5" cy="97.9" r="1.8"/><circle cx="566.6" cy="97.1" r="1.8"/><circle cx="569.3" cy="84.0" r="1.8"/><circle cx="607.5" cy="97.1" r="1.8"/><circle cx="613.6" cy="84.1" r="1.8"/><circle cx="622.6" cy="97.0" r="1.8"/><circle cx="632.5" cy="97.0" r="1.8"/><circle cx="634.7" cy="97.8" r="1.8"/><circle cx="662.9" cy="99.0" r="1.8"/><circle cx="676.7" cy="85.4" r="1.8"/><circle cx="679.0" cy="84.9" r="1.8"/><circle cx="686.7" cy="98.8" r="1.8"/><circle cx="709.3" cy="99.0" r="1.8"/><circle cx="714.7" cy="99.1" r="1.8"/><circle cx="733.0" cy="99.1" r="1.8"/><circle cx="735.5" cy="98.5" r="1.8"/><circle cx="738.1" cy="86.8" r="1.8"/><circle cx="743.8" cy="98.9" r="1.8"/><circle cx="745.0" cy="87.1" r="1.8"/><circle cx="745.8" cy="98.9" r="1.8"/><circle cx="761.3" cy="98.6" r="1.8"/><circle cx="764.5" cy="87.1" r="1.8"/><circle cx="777.6" cy="98.7" r="1.8"/><circle cx="800.3" cy="87.0" r="1.8"/><circle cx="807.2" cy="86.8" r="1.8"/><circle cx="807.1" cy="99.0" r="1.8"/><circle cx="815.3" cy="86.8" r="1.8"/><circle cx="835.5" cy="99.1" r="1.8"/><circle cx="838.4" cy="86.6" r="1.8"/><circle cx="847.9" cy="98.8" r="1.8"/><circle cx="868.3" cy="86.3" r="1.8"/><circle cx="901.8" cy="95.2" r="1.8"/><circle cx="914.6" cy="80.0" r="1.8"/><circle cx="917.2" cy="95.2" r="1.8"/><circle cx="930.9" cy="94.9" r="1.8"/><circle cx="942.0" cy="95.4" r="1.8"/><circle cx="948.8" cy="80.4" r="1.8"/><circle cx="951.6" cy="80.6" r="1.8"/><circle cx="950.1" cy="95.1" r="1.8"/><circle cx="957.9" cy="81.1" r="1.8"/><circle cx="961.0" cy="80.7" r="1.8"/><circle cx="968.5" cy="80.8" r="1.8"/><circle cx="977.7" cy="95.6" r="1.8"/><circle cx="982.6" cy="81.4" r="1.8"/><circle cx="986.9" cy="95.4" r="1.8"/><circle cx="987.7" cy="95.7" r="1.8"/><circle cx="990.4" cy="81.5" r="1.8"/><circle cx="997.3" cy="81.6" r="1.8"/><circle cx="1001.8" cy="95.8" r="1.8"/><circle cx="1005.9" cy="95.7" r="1.8"/><circle cx="1039.1" cy="80.4" r="1.8"/><circle cx="1045.4" cy="95.2" r="1.8"/><circle cx="1047.4" cy="95.7" r="1.8"/><circle cx="1049.4" cy="95.2" r="1.8"/><circle cx="1063.0" cy="95.1" r="1.8"/><circle cx="1065.6" cy="95.4" r="1.8"/><circle cx="1070.9" cy="95.6" r="1.8"/><circle cx="1093.3" cy="95.4" r="1.8"/><circle cx="1095.1" cy="80.2" r="1.8"/><circle cx="1113.6" cy="95.1" r="1.8"/><circle cx="1121.9" cy="100.0" r="1.8"/><circle cx="1129.3" cy="100.1" r="1.8"/><circle cx="1141.9" cy="82.9" r="1.8"/><circle cx="1147.1" cy="96.9" r="1.8"/><circle cx="1165.6" cy="82.1" r="1.8"/><circle cx="1167.3" cy="82.6" r="1.8"/><circle cx="1168.2" cy="97.3" r="1.8"/><circle cx="1174.5" cy="84.9" r="1.8"/><circle cx="1182.5" cy="101.0" r="1.8"/><circle cx="1188.1" cy="86.5" r="1.8"/><circle cx="1194.6" cy="85.9" r="1.8"/><circle cx="1196.4" cy="100.8" r="1.8"/><circle cx="1217.6" cy="85.9" r="1.8"/><circle cx="1231.7" cy="86.9" r="1.8"/><circle cx="1242.7" cy="88.3" r="1.8"/><circle cx="1262.3" cy="85.3" r="1.8"/><circle cx="1265.6" cy="85.1" r="1.8"/><circle cx="1276.2" cy="67.6" r="1.8"/><circle cx="1286.3" cy="62.9" r="1.8"/><circle cx="1287.7" cy="63.7" r="1.8"/><circle cx="1288.7" cy="67.4" r="1.8"/><circle cx="1289.2" cy="91.0" r="1.8"/><circle cx="1293.0" cy="64.0" r="1.8"/><circle cx="268.4" cy="88.8" r="1.8"/><circle cx="309.5" cy="89.0" r="1.8"/><circle cx="309.5" cy="89.8" r="1.8"/><circle cx="305.2" cy="90.5" r="1.8"/><circle cx="315.3" cy="90.3" r="1.8"/><circle cx="288.4" cy="90.5" r="1.8"/><circle cx="294.5" cy="90.5" r="1.8"/><circle cx="278.5" cy="91.2" r="1.8"/><circle cx="1156.3" cy="98.8" r="1.8"/><circle cx="1172.5" cy="101.9" r="1.8"/><circle cx="1186.4" cy="101.8" r="1.8"/><circle cx="1196.5" cy="101.3" r="1.8"/><circle cx="1192.5" cy="100.1" r="1.8"/><circle cx="1206.4" cy="100.6" r="1.8"/><circle cx="775.6" cy="86.8" r="1.8"/><circle cx="721.6" cy="87.0" r="1.8"/><circle cx="733.5" cy="87.0" r="1.8"/><circle cx="1222.5" cy="85.5" r="1.8"/><circle cx="1210.0" cy="85.8" r="1.8"/><circle cx="426.0" cy="104.2" r="1.8"/><circle cx="418.0" cy="103.2" r="1.8"/><circle cx="436.0" cy="102.4" r="1.8"/><circle cx="452.0" cy="101.6" r="1.8"/><circle cx="460.0" cy="101.2" r="1.8"/><circle cx="472.5" cy="101.1" r="1.8"/><circle cx="398.0" cy="105.4" r="1.8"/><circle cx="412.0" cy="104.7" r="1.8"/><circle cx="431.0" cy="105.2" r="1.8"/></g>
<g fill="#f00"><circle cx="200.0" cy="198.3" r="1.7"/><circle cx="201.6" cy="198.5" r="1.7"/><circle cx="569.8" cy="284.2" r="1.7"/></g>
</g>
<path d="M105.5 92.0H1354" stroke="#008000" stroke-width="2.08"/>
<path d="M162.0 321.5V35.5" stroke="#800080" stroke-width="2.08" stroke-dasharray="2.083 3.4375" fill="none"/>
<path d="M192.0 321.5V35.5" stroke="#800080" stroke-width="2.08" stroke-dasharray="2.083 3.4375" fill="none"/>
<path d="M202.0 321.5V35.5" stroke="#800080" stroke-width="2.08" stroke-dasharray="2.083 3.4375" fill="none"/>
<path d="M256.0 321.5V35.5" stroke="#800080" stroke-width="2.08" stroke-dasharray="2.083 3.4375" fill="none"/>
<path d="M262.0 321.5V35.5" stroke="#800080" stroke-width="2.08" stroke-dasharray="2.083 3.4375" fill="none"/>
<path d="M475.0 321.5V35.5" stroke="#800080" stroke-width="2.08" stroke-dasharray="2.083 3.4375" fill="none"/>
<path d="M555.0 321.5V35.5" stroke="#800080" stroke-width="2.08" stroke-dasharray="2.083 3.4375" fill="none"/>
<path d="M634.0 321.5V35.5" stroke="#800080" stroke-width="2.08" stroke-dasharray="2.083 3.4375" fill="none"/>
<path d="M688.0 321.5V35.5" stroke="#800080" stroke-width="2.08" stroke-dasharray="2.083 3.4375" fill="none"/>
<path d="M893.0 321.5V35.5" stroke="#800080" stroke-width="2.08" stroke-dasharray="2.083 3.4375" fill="none"/>
<path d="M1109.0 321.5V35.5" stroke="#800080" stroke-width="2.08" stroke-dasharray="2.083 3.4375" fill="none"/>
<path d="M1115.0 321.5V35.5" stroke="#800080" stroke-width="2.08" stroke-dasharray="2.083 3.4375" fill="none"/>
<path d="M1169.0 321.5V35.5" stroke="#800080" stroke-width="2.08" stroke-dasharray="2.083 3.4375" fill="none"/>
<path d="M1255.0 321.5V35.5" stroke="#800080" stroke-width="2.08" stroke-dasharray="2.083 3.4375" fill="none"/>
<path d="M1296.0 321.5V35.5" stroke="#800080" stroke-width="2.08" stroke-dasharray="2.083 3.4375" fill="none"/>
<rect x="105.5" y="35.5" width="1373.0" height="286.0" fill="none" stroke="#000" stroke-width="1.1"/>
<path d="M162.4 321.5v4.9" stroke="#000" stroke-width="1.1"/>
<path d="M377.9 321.5v4.9" stroke="#000" stroke-width="1.1"/>
<path d="M593.4 321.5v4.9" stroke="#000" stroke-width="1.1"/>
<path d="M808.9 321.5v4.9" stroke="#000" stroke-width="1.1"/>
<path d="M1024.4 321.5v4.9" stroke="#000" stroke-width="1.1"/>
<path d="M1239.9 321.5v4.9" stroke="#000" stroke-width="1.1"/>
<path d="M1455.4 321.5v4.9" stroke="#000" stroke-width="1.1"/>
<path d="M105.5 48.4h-4.9" stroke="#000" stroke-width="1.1"/>
<path d="M105.5 88.4h-4.9" stroke="#000" stroke-width="1.1"/>
<path d="M105.5 128.4h-4.9" stroke="#000" stroke-width="1.1"/>
<path d="M105.5 168.4h-4.9" stroke="#000" stroke-width="1.1"/>
<path d="M105.5 208.4h-4.9" stroke="#000" stroke-width="1.1"/>
<path d="M105.5 248.4h-4.9" stroke="#000" stroke-width="1.1"/>
<path d="M105.5 288.4h-4.9" stroke="#000" stroke-width="1.1"/>
<rect x="1354.3" y="42.6" width="117.40000000000009" height="27.1" rx="2.8" ry="2.8" fill="#fff" fill-opacity="0.8" stroke="#ccc" stroke-width="1.1"/>
<path d="M1359.5 53.7h30" stroke="#008000" stroke-width="2.08"/>
<rect x="1341.2" y="247.3" width="130.5" height="66.80000000000001" rx="2.8" ry="2.8" fill="#fff" fill-opacity="0.8" stroke="#ccc" stroke-width="1.1"/>
<circle cx="1360.5" cy="260.3" r="1.9" fill="#f00"/>
<circle cx="1360.5" cy="281.4" r="1.9" fill="#ffa500"/>
<circle cx="1360.5" cy="302.4" r="1.9" fill="#000"/>
<g clip-path="url(#c2)">
<g fill="#ffa500"><circle cx="169.5" cy="557.3" r="1.8"/><circle cx="180.4" cy="553.3" r="1.8"/><circle cx="184.4" cy="550.4" r="1.8"/><circle cx="208.4" cy="581.3" r="1.8"/><circle cx="198.5" cy="591.2" r="1.8"/><circle cx="205.5" cy="613.3" r="1.8"/><circle cx="228.4" cy="605.3" r="1.8"/><circle cx="181.5" cy="628.5" r="1.8"/><circle cx="194.5" cy="644.3" r="1.8"/><circle cx="251.3" cy="640.3" r="1.8"/><circle cx="233.2" cy="578.4" r="1.8"/><circle cx="237.5" cy="582.1" r="1.8"/><circle cx="241.5" cy="581.6" r="1.8"/><circle cx="252.4" cy="578.1" r="1.8"/><circle cx="257.5" cy="580.8" r="1.8"/><circle cx="283.6" cy="588.3" r="1.8"/><circle cx="285.5" cy="597.3" r="1.8"/><circle cx="290.8" cy="589.3" r="1.8"/><circle cx="292.9" cy="589.3" r="1.8"/><circle cx="297.2" cy="588.0" r="1.8"/><circle cx="303.3" cy="587.2" r="1.8"/><circle cx="303.3" cy="590.4" r="1.8"/><circle cx="307.6" cy="594.4" r="1.8"/><circle cx="308.4" cy="587.2" r="1.8"/><circle cx="312.4" cy="587.2" r="1.8"/><circle cx="292.4" cy="609.3" r="1.8"/><circle cx="310.5" cy="615.5" r="1.8"/><circle cx="337.5" cy="591.2" r="1.8"/><circle cx="339.6" cy="601.3" r="1.8"/><circle cx="334.3" cy="608.5" r="1.8"/><circle cx="372.4" cy="616.5" r="1.8"/><circle cx="360.9" cy="631.2" r="1.8"/><circle cx="328.4" cy="662.4" r="1.8"/><circle cx="408.4" cy="593.3" r="1.8"/><circle cx="445.5" cy="599.2" r="1.8"/><circle cx="428.4" cy="610.4" r="1.8"/><circle cx="408.4" cy="634.4" r="1.8"/><circle cx="403.3" cy="652.3" r="1.8"/><circle cx="468.4" cy="655.2" r="1.8"/><circle cx="486.5" cy="553.3" r="1.8"/><circle cx="490.8" cy="552.0" r="1.8"/><circle cx="491.3" cy="556.3" r="1.8"/><circle cx="494.8" cy="550.9" r="1.8"/><circle cx="501.5" cy="550.9" r="1.8"/><circle cx="510.3" cy="556.3" r="1.8"/><circle cx="512.7" cy="551.2" r="1.8"/><circle cx="515.3" cy="551.2" r="1.8"/><circle cx="512.4" cy="561.3" r="1.8"/><circle cx="516.4" cy="564.3" r="1.8"/><circle cx="510.3" cy="565.3" r="1.8"/><circle cx="538.5" cy="552.0" r="1.8"/><circle cx="541.2" cy="554.4" r="1.8"/><circle cx="547.6" cy="556.3" r="1.8"/><circle cx="553.5" cy="551.2" r="1.8"/><circle cx="532.4" cy="580.5" r="1.8"/><circle cx="516.4" cy="591.2" r="1.8"/><circle cx="512.4" cy="601.3" r="1.8"/><circle cx="498.5" cy="621.3" r="1.8"/><circle cx="558.3" cy="559.2" r="1.8"/><circle cx="587.3" cy="551.2" r="1.8"/><circle cx="601.2" cy="550.4" r="1.8"/><circle cx="602.5" cy="554.4" r="1.8"/><circle cx="598.5" cy="558.4" r="1.8"/><circle cx="606.8" cy="551.2" r="1.8"/><circle cx="607.6" cy="556.0" r="1.8"/><circle cx="618.8" cy="549.6" r="1.8"/><circle cx="618.5" cy="553.6" r="1.8"/><circle cx="618.5" cy="557.6" r="1.8"/><circle cx="600.4" cy="584.5" r="1.8"/><circle cx="609.5" cy="584.5" r="1.8"/><circle cx="572.4" cy="594.4" r="1.8"/><circle cx="587.3" cy="592.3" r="1.8"/><circle cx="605.5" cy="594.4" r="1.8"/><circle cx="601.2" cy="607.5" r="1.8"/><circle cx="611.6" cy="605.3" r="1.8"/><circle cx="613.5" cy="614.1" r="1.8"/><circle cx="624.4" cy="614.1" r="1.8"/><circle cx="614.5" cy="646.4" r="1.8"/><circle cx="656.4" cy="558.9" r="1.8"/><circle cx="660.7" cy="558.4" r="1.8"/><circle cx="667.3" cy="558.4" r="1.8"/><circle cx="677.5" cy="558.4" r="1.8"/><circle cx="661.5" cy="563.2" r="1.8"/><circle cx="665.5" cy="565.3" r="1.8"/><circle cx="674.5" cy="569.3" r="1.8"/><circle cx="656.4" cy="636.3" r="1.8"/><circle cx="657.5" cy="642.4" r="1.8"/><circle cx="691.6" cy="648.3" r="1.8"/><circle cx="703.6" cy="561.3" r="1.8"/><circle cx="709.5" cy="559.2" r="1.8"/><circle cx="710.5" cy="567.2" r="1.8"/><circle cx="716.4" cy="561.6" r="1.8"/><circle cx="716.4" cy="564.8" r="1.8"/><circle cx="722.0" cy="559.2" r="1.8"/><circle cx="716.4" cy="556.0" r="1.8"/><circle cx="738.8" cy="557.3" r="1.8"/><circle cx="741.5" cy="560.8" r="1.8"/><circle cx="746.0" cy="556.3" r="1.8"/><circle cx="750.8" cy="559.2" r="1.8"/><circle cx="753.5" cy="558.4" r="1.8"/><circle cx="757.5" cy="557.3" r="1.8"/><circle cx="774.5" cy="560.3" r="1.8"/><circle cx="778.5" cy="557.3" r="1.8"/><circle cx="785.2" cy="557.3" r="1.8"/><circle cx="793.5" cy="556.3" r="1.8"/><circle cx="799.6" cy="557.6" r="1.8"/><circle cx="801.5" cy="564.3" r="1.8"/><circle cx="806.5" cy="559.2" r="1.8"/><circle cx="810.8" cy="558.4" r="1.8"/><circle cx="814.3" cy="556.3" r="1.8"/><circle cx="821.5" cy="560.0" r="1.8"/><circle cx="825.5" cy="559.2" r="1.8"/><circle cx="824.4" cy="564.3" r="1.8"/><circle cx="830.5" cy="563.2" r="1.8"/><circle cx="832.4" cy="559.2" r="1.8"/><circle cx="837.5" cy="557.3" r="1.8"/><circle cx="838.5" cy="565.3" r="1.8"/><circle cx="844.4" cy="556.3" r="1.8"/><circle cx="847.6" cy="563.2" r="1.8"/><circle cx="850.8" cy="557.3" r="1.8"/><circle cx="862.8" cy="559.2" r="1.8"/><circle cx="866.8" cy="557.3" r="1.8"/><circle cx="764.4" cy="571.5" r="1.8"/><circle cx="781.5" cy="585.3" r="1.8"/><circle cx="790.5" cy="589.3" r="1.8"/><circle cx="792.4" cy="596.3" r="1.8"/><circle cx="807.3" cy="586.4" r="1.8"/><circle cx="813.5" cy="595.2" r="1.8"/><circle cx="815.6" cy="599.2" r="1.8"/><circle cx="707.6" cy="604.3" r="1.8"/><circle cx="723.6" cy="620.5" r="1.8"/><circle cx="748.4" cy="621.3" r="1.8"/><circle cx="753.5" cy="615.2" r="1.8"/><circle cx="737.5" cy="639.2" r="1.8"/><circle cx="753.5" cy="642.4" r="1.8"/><circle cx="774.5" cy="633.3" r="1.8"/><circle cx="828.4" cy="612.3" r="1.8"/><circle cx="828.4" cy="623.2" r="1.8"/><circle cx="853.5" cy="624.3" r="1.8"/><circle cx="845.5" cy="646.4" r="1.8"/><circle cx="887.6" cy="645.3" r="1.8"/><circle cx="894.3" cy="582.4" r="1.8"/><circle cx="900.4" cy="608.3" r="1.8"/><circle cx="907.3" cy="562.4" r="1.8"/><circle cx="945.5" cy="640.3" r="1.8"/><circle cx="978.5" cy="551.5" r="1.8"/><circle cx="986.5" cy="577.3" r="1.8"/><circle cx="1023.3" cy="550.4" r="1.8"/><circle cx="1036.4" cy="549.6" r="1.8"/><circle cx="1022.5" cy="592.3" r="1.8"/><circle cx="1007.3" cy="627.5" r="1.8"/><circle cx="1070.5" cy="622.4" r="1.8"/><circle cx="1092.4" cy="561.3" r="1.8"/><circle cx="1089.5" cy="583.5" r="1.8"/><circle cx="1094.5" cy="548.0" r="1.8"/><circle cx="903.5" cy="546.3" r="1.8"/><circle cx="913.6" cy="545.2" r="1.8"/><circle cx="936.3" cy="545.2" r="1.8"/><circle cx="954.4" cy="546.3" r="1.8"/><circle cx="966.4" cy="546.3" r="1.8"/><circle cx="987.5" cy="546.3" r="1.8"/><circle cx="992.5" cy="545.2" r="1.8"/><circle cx="1010.4" cy="545.2" r="1.8"/><circle cx="1014.4" cy="546.3" r="1.8"/><circle cx="1052.5" cy="545.2" r="1.8"/><circle cx="1057.6" cy="546.3" r="1.8"/><circle cx="1071.5" cy="546.3" r="1.8"/><circle cx="1093.6" cy="544.4" r="1.8"/><circle cx="1107.5" cy="546.3" r="1.8"/><circle cx="895.5" cy="450.3" r="1.8"/><circle cx="894.4" cy="457.2" r="1.8"/><circle cx="895.5" cy="464.1" r="1.8"/><circle cx="905.6" cy="462.0" r="1.8"/><circle cx="908.5" cy="460.9" r="1.8"/><circle cx="916.5" cy="456.1" r="1.8"/><circle cx="913.6" cy="464.1" r="1.8"/><circle cx="923.2" cy="460.9" r="1.8"/><circle cx="923.2" cy="465.2" r="1.8"/><circle cx="938.4" cy="465.2" r="1.8"/><circle cx="997.6" cy="463.3" r="1.8"/><circle cx="1058.4" cy="463.3" r="1.8"/><circle cx="1137.3" cy="565.6" r="1.8"/><circle cx="1137.3" cy="568.8" r="1.8"/><circle cx="1133.3" cy="578.4" r="1.8"/><circle cx="1164.5" cy="571.7" r="1.8"/><circle cx="1166.4" cy="572.5" r="1.8"/><circle cx="1165.3" cy="581.3" r="1.8"/><circle cx="1122.4" cy="610.4" r="1.8"/><circle cx="1167.2" cy="605.3" r="1.8"/><circle cx="1163.5" cy="621.3" r="1.8"/><circle cx="1178.4" cy="623.2" r="1.8"/><circle cx="1196.5" cy="622.4" r="1.8"/><circle cx="1174.4" cy="638.4" r="1.8"/><circle cx="1188.5" cy="580.3" r="1.8"/><circle cx="1212.5" cy="576.8" r="1.8"/><circle cx="1227.5" cy="576.3" r="1.8"/><circle cx="1233.6" cy="579.2" r="1.8"/><circle cx="1218.4" cy="636.3" r="1.8"/><circle cx="1239.5" cy="621.3" r="1.8"/><circle cx="1244.5" cy="644.3" r="1.8"/><circle cx="1282.4" cy="560.3" r="1.8"/><circle cx="1095.0" cy="546.7" r="1.8"/><circle cx="163.6" cy="480.0" r="1.8"/><circle cx="164.1" cy="482.4" r="1.8"/><circle cx="168.4" cy="485.3" r="1.8"/><circle cx="186.5" cy="481.3" r="1.8"/><circle cx="193.5" cy="527.2" r="1.8"/><circle cx="197.5" cy="523.2" r="1.8"/><circle cx="203.6" cy="508.0" r="1.8"/><circle cx="208.4" cy="503.5" r="1.8"/><circle cx="208.4" cy="508.8" r="1.8"/><circle cx="214.0" cy="509.9" r="1.8"/><circle cx="219.3" cy="503.5" r="1.8"/><circle cx="219.3" cy="508.0" r="1.8"/><circle cx="223.6" cy="509.6" r="1.8"/><circle cx="229.5" cy="506.1" r="1.8"/><circle cx="229.5" cy="511.2" r="1.8"/><circle cx="239.3" cy="503.5" r="1.8"/><circle cx="250.5" cy="510.4" r="1.8"/><circle cx="260.4" cy="508.5" r="1.8"/><circle cx="263.9" cy="499.5" r="1.8"/><circle cx="263.9" cy="504.0" r="1.8"/><circle cx="325.5" cy="499.5" r="1.8"/><circle cx="325.5" cy="502.4" r="1.8"/><circle cx="346.5" cy="499.5" r="1.8"/><circle cx="357.5" cy="500.3" r="1.8"/><circle cx="384.4" cy="503.5" r="1.8"/><circle cx="389.2" cy="504.0" r="1.8"/><circle cx="394.5" cy="503.5" r="1.8"/><circle cx="410.5" cy="496.3" r="1.8"/><circle cx="410.5" cy="499.2" r="1.8"/><circle cx="415.6" cy="500.3" r="1.8"/><circle cx="436.4" cy="495.5" r="1.8"/><circle cx="436.4" cy="500.0" r="1.8"/><circle cx="440.9" cy="500.3" r="1.8"/><circle cx="447.6" cy="495.2" r="1.8"/><circle cx="452.1" cy="497.3" r="1.8"/><circle cx="447.6" cy="500.8" r="1.8"/><circle cx="462.8" cy="495.2" r="1.8"/><circle cx="466.8" cy="496.3" r="1.8"/><circle cx="462.8" cy="500.0" r="1.8"/><circle cx="467.6" cy="500.0" r="1.8"/><circle cx="465.2" cy="502.4" r="1.8"/><circle cx="472.4" cy="500.0" r="1.8"/><circle cx="442.8" cy="502.4" r="1.8"/><circle cx="455.6" cy="502.4" r="1.8"/><circle cx="476.4" cy="484.8" r="1.8"/><circle cx="477.7" cy="490.4" r="1.8"/><circle cx="482.5" cy="488.0" r="1.8"/><circle cx="482.5" cy="492.0" r="1.8"/><circle cx="494.5" cy="491.2" r="1.8"/><circle cx="498.5" cy="491.2" r="1.8"/><circle cx="502.5" cy="490.4" r="1.8"/><circle cx="498.5" cy="493.6" r="1.8"/><circle cx="512.4" cy="493.3" r="1.8"/><circle cx="518.5" cy="492.8" r="1.8"/><circle cx="525.5" cy="490.4" r="1.8"/><circle cx="528.4" cy="489.3" r="1.8"/><circle cx="530.8" cy="492.0" r="1.8"/><circle cx="533.5" cy="489.3" r="1.8"/><circle cx="536.4" cy="487.2" r="1.8"/><circle cx="535.3" cy="492.0" r="1.8"/><circle cx="547.6" cy="493.3" r="1.8"/><circle cx="551.6" cy="490.4" r="1.8"/><circle cx="552.4" cy="494.4" r="1.8"/><circle cx="556.4" cy="464.3" r="1.8"/><circle cx="556.4" cy="470.4" r="1.8"/><circle cx="556.4" cy="475.5" r="1.8"/><circle cx="556.4" cy="479.5" r="1.8"/><circle cx="568.4" cy="480.3" r="1.8"/><circle cx="566.5" cy="484.3" r="1.8"/><circle cx="572.4" cy="484.3" r="1.8"/><circle cx="578.5" cy="485.3" r="1.8"/><circle cx="599.6" cy="468.3" r="1.8"/><circle cx="594.5" cy="477.6" r="1.8"/><circle cx="594.5" cy="481.9" r="1.8"/><circle cx="592.4" cy="484.3" r="1.8"/><circle cx="599.6" cy="485.3" r="1.8"/><circle cx="605.5" cy="485.3" r="1.8"/><circle cx="621.5" cy="481.6" r="1.8"/><circle cx="625.5" cy="482.4" r="1.8"/><circle cx="622.5" cy="484.3" r="1.8"/><circle cx="629.5" cy="480.0" r="1.8"/><circle cx="631.3" cy="479.2" r="1.8"/><circle cx="632.4" cy="482.4" r="1.8"/><circle cx="637.7" cy="480.0" r="1.8"/><circle cx="637.7" cy="484.0" r="1.8"/><circle cx="637.7" cy="487.2" r="1.8"/><circle cx="642.5" cy="480.8" r="1.8"/><circle cx="642.5" cy="486.4" r="1.8"/><circle cx="642.5" cy="489.6" r="1.8"/><circle cx="648.4" cy="478.4" r="1.8"/><circle cx="648.4" cy="485.6" r="1.8"/><circle cx="648.4" cy="488.8" r="1.8"/><circle cx="659.3" cy="487.2" r="1.8"/><circle cx="691.6" cy="493.3" r="1.8"/><circle cx="702.5" cy="498.4" r="1.8"/><circle cx="725.5" cy="495.2" r="1.8"/><circle cx="729.2" cy="497.6" r="1.8"/><circle cx="733.5" cy="499.2" r="1.8"/><circle cx="737.5" cy="494.4" r="1.8"/><circle cx="744.4" cy="496.3" r="1.8"/><circle cx="758.5" cy="498.4" r="1.8"/><circle cx="765.5" cy="498.4" r="1.8"/><circle cx="769.5" cy="498.4" r="1.8"/><circle cx="814.5" cy="491.2" r="1.8"/><circle cx="817.5" cy="490.4" r="1.8"/><circle cx="818.5" cy="497.3" r="1.8"/><circle cx="821.5" cy="499.2" r="1.8"/><circle cx="823.6" cy="499.5" r="1.8"/><circle cx="844.4" cy="497.3" r="1.8"/><circle cx="854.5" cy="498.4" r="1.8"/><circle cx="860.4" cy="495.5" r="1.8"/><circle cx="868.4" cy="494.4" r="1.8"/><circle cx="866.5" cy="499.5" r="1.8"/><circle cx="842.5" cy="499.5" r="1.8"/><circle cx="875.0" cy="494.5" r="1.8"/><circle cx="877.3" cy="493.0" r="1.8"/><circle cx="881.2" cy="487.1" r="1.8"/><circle cx="881.2" cy="491.5" r="1.8"/><circle cx="886.0" cy="491.5" r="1.8"/><circle cx="886.8" cy="487.1" r="1.8"/><circle cx="888.3" cy="484.2" r="1.8"/><circle cx="891.2" cy="494.5" r="1.8"/><circle cx="883.1" cy="495.2" r="1.8"/><circle cx="878.7" cy="496.0" r="1.8"/><circle cx="873.0" cy="497.0" r="1.8"/><circle cx="884.5" cy="489.5" r="1.8"/><circle cx="889.5" cy="490.5" r="1.8"/><circle cx="880.0" cy="495.0" r="1.8"/><circle cx="887.5" cy="495.5" r="1.8"/><circle cx="890.0" cy="487.5" r="1.8"/><circle cx="1143.8" cy="471.2" r="1.8"/><circle cx="1139.6" cy="476.6" r="1.8"/><circle cx="1146.5" cy="478.1" r="1.8"/><circle cx="1154.4" cy="468.5" r="1.8"/><circle cx="1152.1" cy="475.8" r="1.8"/><circle cx="1157.5" cy="476.6" r="1.8"/><circle cx="1160.5" cy="476.6" r="1.8"/><circle cx="1170.7" cy="477.3" r="1.8"/><circle cx="1172.0" cy="481.1" r="1.8"/><circle cx="1172.7" cy="485.0" r="1.8"/><circle cx="1174.2" cy="488.0" r="1.8"/><circle cx="1177.3" cy="485.7" r="1.8"/><circle cx="1178.5" cy="489.5" r="1.8"/><circle cx="1180.3" cy="486.5" r="1.8"/><circle cx="1183.1" cy="488.0" r="1.8"/><circle cx="1183.4" cy="491.8" r="1.8"/><circle cx="1195.3" cy="491.4" r="1.8"/><circle cx="1210.4" cy="488.5" r="1.8"/><circle cx="1214.3" cy="491.4" r="1.8"/><circle cx="456.5" cy="498.5" r="1.8"/><circle cx="458.5" cy="496.0" r="1.8"/><circle cx="460.0" cy="499.5" r="1.8"/><circle cx="461.0" cy="501.5" r="1.8"/><circle cx="463.5" cy="497.5" r="1.8"/><circle cx="464.5" cy="494.8" r="1.8"/><circle cx="466.0" cy="498.8" r="1.8"/><circle cx="468.0" cy="501.8" r="1.8"/><circle cx="469.5" cy="497.5" r="1.8"/><circle cx="470.5" cy="495.5" r="1.8"/><circle cx="471.5" cy="499.0" r="1.8"/><circle cx="473.0" cy="497.0" r="1.8"/><circle cx="474.0" cy="501.0" r="1.8"/><circle cx="473.5" cy="494.5" r="1.8"/><circle cx="457.5" cy="501.5" r="1.8"/><circle cx="451.0" cy="501.5" r="1.8"/><circle cx="449.0" cy="499.0" r="1.8"/><circle cx="444.5" cy="498.0" r="1.8"/><circle cx="438.5" cy="498.0" r="1.8"/><circle cx="433.0" cy="501.5" r="1.8"/><circle cx="428.5" cy="502.5" r="1.8"/><circle cx="1256.3" cy="382.7" r="1.8"/><circle cx="1268.3" cy="382.7" r="1.8"/><circle cx="1280.3" cy="525.9" r="1.8"/><circle cx="1291.4" cy="525.9" r="1.8"/><circle cx="1296.0" cy="527.6" r="1.8"/></g>
<g fill="#ffa500"><path d="M194.3 660.9h5.8l-2.9 5.2z"/><path d="M208.4 660.9h5.8l-2.9 5.2z"/><path d="M221.5 660.9h5.8l-2.9 5.2z"/><path d="M225.5 660.9h5.8l-2.9 5.2z"/><path d="M240.4 660.9h5.8l-2.9 5.2z"/><path d="M268.4 660.9h5.8l-2.9 5.2z"/><path d="M283.6 660.9h5.8l-2.9 5.2z"/><path d="M287.9 660.9h5.8l-2.9 5.2z"/><path d="M311.6 660.9h5.8l-2.9 5.2z"/><path d="M314.3 660.9h5.8l-2.9 5.2z"/><path d="M367.9 660.9h5.8l-2.9 5.2z"/><path d="M366.1 660.9h5.8l-2.9 5.2z"/><path d="M404.4 660.9h5.8l-2.9 5.2z"/><path d="M409.5 660.9h5.8l-2.9 5.2z"/><path d="M290.6 660.9h5.8l-2.9 5.2z"/><path d="M351.6 660.9h5.8l-2.9 5.2z"/><path d="M448.7 660.9h5.8l-2.9 5.2z"/><path d="M489.5 660.9h5.8l-2.9 5.2z"/><path d="M532.4 660.9h5.8l-2.9 5.2z"/><path d="M524.4 660.9h5.8l-2.9 5.2z"/><path d="M515.6 660.9h5.8l-2.9 5.2z"/><path d="M569.5 660.9h5.8l-2.9 5.2z"/><path d="M567.1 660.9h5.8l-2.9 5.2z"/><path d="M625.9 660.9h5.8l-2.9 5.2z"/><path d="M634.3 660.9h5.8l-2.9 5.2z"/><path d="M691.6 660.9h5.8l-2.9 5.2z"/><path d="M705.5 660.9h5.8l-2.9 5.2z"/><path d="M686.3 660.9h5.8l-2.9 5.2z"/><path d="M652.7 660.9h5.8l-2.9 5.2z"/><path d="M775.6 660.9h5.8l-2.9 5.2z"/><path d="M784.7 660.9h5.8l-2.9 5.2z"/><path d="M828.7 660.9h5.8l-2.9 5.2z"/><path d="M892.7 660.9h5.8l-2.9 5.2z"/><path d="M986.3 660.9h5.8l-2.9 5.2z"/><path d="M994.6 660.9h5.8l-2.9 5.2z"/><path d="M1005.5 660.9h5.8l-2.9 5.2z"/><path d="M1010.6 660.9h5.8l-2.9 5.2z"/><path d="M1132.6 660.9h5.8l-2.9 5.2z"/><path d="M1150.7 660.9h5.8l-2.9 5.2z"/><path d="M1182.7 660.9h5.8l-2.9 5.2z"/><path d="M1199.5 660.9h5.8l-2.9 5.2z"/><path d="M1208.0 660.9h5.8l-2.9 5.2z"/><path d="M1205.9 660.9h5.8l-2.9 5.2z"/><path d="M1238.4 660.9h5.8l-2.9 5.2z"/><path d="M1252.6 660.9h5.8l-2.9 5.2z"/></g>
<path d="M163.0 486.6V535.3M164.6 489.0V537.2M166.7 488.3V541.2M168.1 488.1V537.5M169.4 488.2V540.2M171.0 490.2V543.7M172.5 490.8V545.6M174.3 489.1V541.3M176.3 491.6V544.9M177.9 489.9V542.9M179.2 489.4V541.5M181.2 490.9V546.5M182.6 492.2V547.8M184.7 490.8V543.8M186.7 490.9V544.8M188.2 490.1V540.8M189.7 492.3V538.3M191.1 494.0V544.0M193.3 516.5V575.7M194.7 530.1V579.7M196.7 531.9V583.5M198.2 533.2V580.1M199.8 532.0V580.0M201.5 535.1V581.5M203.2 517.5V556.4M204.8 515.8V559.3M206.2 516.3V560.8M208.0 517.7V561.1M209.5 512.0V563.7M211.2 518.8V563.9M212.5 518.9V569.2M214.2 513.2V567.0M215.7 517.7V565.8M217.5 518.2V571.8M219.4 511.9V566.2M220.8 518.2V568.9M222.8 518.9V572.4M224.9 514.2V571.8M226.4 518.9V574.5M228.1 522.2V572.5M229.6 511.8V572.8M231.4 520.9V577.1M233.4 520.0V571.7M235.1 521.0V572.7M236.4 521.9V576.7M238.0 522.4V575.5M240.1 514.0V571.5M241.9 520.2V576.6M243.3 521.1V577.8M244.8 514.9V572.7M246.9 519.6V577.6M248.3 518.5V576.3M250.1 513.5V571.7M252.2 517.9V575.7M254.1 513.5V571.6M257.0 515.5V577.9M258.4 516.6V575.5M260.1 512.6V571.9M263.0 515.8V573.9M264.8 514.5V572.1M266.7 516.0V573.2M268.0 517.7V579.9M270.1 515.3V575.1M271.8 517.6V575.8M273.3 515.4V581.3M274.7 514.6V579.3M276.8 523.8V581.8M278.6 524.4V585.7M280.6 521.0V581.2M282.5 526.9V581.5M284.5 521.1V586.1M286.3 525.8V581.2M287.8 528.1V580.6M289.9 522.5V585.9M291.6 525.7V582.0M293.2 528.9V582.1M295.2 523.0V584.2M296.5 529.0V582.0M298.5 525.8V583.6M300.3 526.8V586.2M302.1 526.8V580.6M303.5 526.7V582.6M305.6 520.8V584.0M306.9 526.6V582.7M308.4 527.5V580.8M310.2 523.1V582.1M311.8 524.5V582.4M313.8 526.3V580.1M315.9 519.6V583.3M317.2 524.5V581.9M319.2 518.4V580.2M320.6 509.1V579.9M321.9 509.9V581.7M323.4 515.0V581.2M324.7 517.7V583.3M326.8 517.5V581.2M328.7 517.2V581.9M330.3 509.8V587.6M332.3 514.3V582.2M334.0 518.4V580.7M335.8 507.4V585.1M337.3 507.1V581.6M338.8 517.4V582.5M340.8 517.7V583.3M342.4 509.9V579.1M344.2 516.9V581.4M346.0 509.7V586.1M347.7 510.4V579.9M349.3 516.9V581.2M351.3 516.4V586.9M353.2 516.9V582.0M354.6 515.3V585.5M356.0 515.8V586.9M357.7 508.7V579.4M359.6 518.5V586.4M361.3 511.3V586.4M362.6 510.2V579.4M364.4 516.5V585.6M365.9 514.5V584.1M367.5 507.5V578.9M368.9 517.5V580.0M370.8 515.1V583.3M372.7 518.1V579.6M374.6 516.2V584.8M376.0 517.4V582.9M377.4 509.1V578.1M378.7 516.2V578.9M380.3 515.5V583.5M382.1 514.8V580.0M383.9 509.8V579.0M385.3 515.5V581.8M386.8 516.8V576.1M388.3 507.2V577.5M390.2 516.1V577.0M392.0 512.9V576.2M393.9 507.2V575.2M395.2 514.6V581.1M396.7 517.0V575.1M398.2 508.1V576.9M399.7 512.9V579.1M401.3 514.7V579.2M403.3 507.6V575.0M404.9 516.3V579.6M406.3 515.9V579.1M408.3 507.3V570.6M409.7 515.9V578.7M411.3 514.0V579.0M413.1 507.7V571.5M415.0 513.0V575.8M417.1 514.5V569.1M418.7 506.9V571.5M420.1 513.2V575.3M421.7 514.2V574.6M423.7 506.3V568.2M425.6 511.1V570.4M427.1 511.4V571.2M428.5 505.0V566.4M430.2 514.0V567.5M431.6 511.8V563.8M433.0 506.0V560.8M434.8 506.0V561.6M436.6 508.2V564.2M438.6 505.0V560.8M440.4 507.8V560.4M442.4 507.6V563.7M444.3 507.8V559.4M446.1 508.5V562.9M448.1 503.7V560.2M449.9 506.3V558.1M451.9 508.3V560.6M453.6 505.2V558.5M455.1 508.2V559.6M456.7 506.0V560.6M458.3 504.8V560.3M460.2 507.9V561.1M461.6 507.0V562.5M463.0 507.2V560.2M464.5 504.8V558.4M466.0 506.1V559.4M467.7 507.9V560.6M469.6 503.7V559.1M471.7 507.1V559.5M473.3 505.6V561.4M476.0 497.3V544.6M477.7 496.6V548.8M479.5 498.0V545.7M481.6 499.6V545.1M483.4 497.3V549.3M484.8 497.1V547.8M486.5 499.1V547.2M488.6 498.0V549.3M489.9 498.5V547.6M491.7 498.2V547.9M493.8 497.7V550.1M495.1 497.9V548.6M496.8 500.6V546.0M498.2 500.9V549.5M500.0 497.9V546.3M501.9 499.5V547.9M503.5 496.6V550.2M505.3 496.5V548.7M507.1 498.0V546.4M508.9 498.3V550.5M510.8 499.4V546.0M512.3 499.0V548.4M513.8 496.8V549.5M515.2 497.0V546.9M516.6 498.1V546.9M517.9 499.6V547.1M519.6 498.2V551.6M520.9 500.6V547.1M522.3 497.9V545.4M524.1 497.9V548.3M525.4 498.2V546.4M527.5 500.0V545.3M529.3 496.0V549.5M530.7 496.3V548.6M532.7 497.4V547.7M534.4 495.4V550.8M536.4 498.0V547.6M537.8 500.0V548.0M539.3 496.5V548.1M540.7 497.0V547.2M542.1 499.3V548.5M543.6 499.5V549.0M545.3 497.6V546.4M546.6 499.2V548.4M548.6 499.7V549.5M550.0 496.4V546.6M551.4 495.9V547.1M552.8 498.4V547.8M554.1 497.2V550.5M556.0 487.2V537.4M557.9 489.3V537.5M559.5 488.3V543.5M561.5 490.1V538.6M563.4 489.1V542.2M565.3 489.2V538.3M567.1 488.1V540.1M569.1 490.1V545.0M570.6 486.7V540.6M572.1 488.4V540.4M573.6 488.4V545.9M575.2 489.8V538.5M577.0 488.0V540.0M578.5 490.0V546.8M580.0 491.0V545.7M581.3 487.9V539.6M582.8 488.4V541.4M584.6 490.3V545.0M586.5 489.2V541.0M588.2 490.4V544.4M589.9 489.7V545.0M591.8 487.6V540.8M593.6 491.2V539.0M595.2 489.9V544.6M596.9 490.5V540.7M598.5 488.5V546.0M600.3 489.5V540.0M602.0 490.1V539.0M604.0 491.0V546.8M605.7 489.0V539.3M607.8 489.7V540.7M609.6 490.0V546.1M611.7 487.6V538.8M613.1 489.2V541.8M614.7 491.3V544.2M616.3 490.5V539.8M617.8 487.8V539.9M619.6 488.9V546.4M621.1 489.0V546.6M623.2 488.6V539.8M624.8 489.3V545.9M626.2 490.8V545.6M628.2 488.3V539.4M629.9 490.7V544.8M631.5 491.2V545.4M633.0 488.8V541.1M635.0 491.7V551.4M636.4 493.7V550.7M637.8 492.3V549.5M639.7 493.2V549.2M641.7 492.6V553.1M643.3 492.3V548.9M644.8 494.5V551.6M646.3 496.5V554.6M647.8 499.8V549.9M649.3 503.4V550.0M651.3 503.8V553.9M652.7 498.3V551.6M654.5 502.4V550.6M656.1 504.3V555.5M658.1 495.6V551.0M659.8 503.6V549.7M661.8 504.6V555.5M663.7 497.3V550.7M665.6 507.1V550.7M667.2 506.7V553.2M669.0 495.6V549.2M670.5 505.2V552.1M672.4 504.4V555.3M674.3 497.8V549.8M676.4 503.5V553.6M678.5 496.3V549.8M680.1 504.7V551.1M681.9 502.0V550.2M683.4 497.3V549.3M685.5 501.9V550.6M687.2 501.3V555.1M689.0 501.9V551.1M690.6 506.3V550.4M692.1 505.2V554.0M693.5 501.6V551.7M695.3 503.4V550.1M697.2 505.1V554.5M698.6 502.4V551.3M700.2 505.4V551.2M701.6 505.1V554.1M703.5 504.9V551.7M704.9 503.7V552.4M706.7 506.2V555.1M708.5 502.7V551.3M709.8 505.1V549.7M711.7 506.1V554.6M713.0 501.2V555.9M714.8 503.7V550.9M716.1 504.8V552.3M717.9 501.9V549.9M719.7 503.3V550.0M721.2 504.8V551.4M722.9 502.5V556.1M724.5 502.8V552.2M725.9 505.1V550.6M727.5 503.8V554.2M729.4 501.9V549.8M730.7 506.2V552.1M732.5 505.5V553.3M734.1 504.0V551.3M735.6 504.7V551.4M737.4 504.8V555.4M738.8 501.1V552.4M740.1 505.1V551.4M741.9 506.2V554.1M743.8 505.5V550.2M745.8 504.8V551.8M747.2 504.0V554.1M748.5 503.4V552.3M750.1 504.7V551.8M751.4 506.7V550.5M752.9 505.0V554.2M755.0 503.8V550.3M757.0 507.0V556.4M758.6 502.0V555.2M760.6 503.7V552.8M762.5 505.0V556.2M764.5 507.2V551.1M765.9 505.8V551.6M767.3 504.9V555.1M768.9 501.5V550.4M770.4 501.9V551.3M772.0 506.7V555.5M774.0 502.8V550.3M775.6 502.6V550.0M777.2 507.4V554.0M779.1 501.7V552.0M780.8 507.2V552.5M782.6 506.3V555.0M784.1 506.1V556.2M785.8 502.2V553.4M787.6 504.5V556.3M789.0 506.3V553.9M790.4 502.1V552.3M791.8 506.1V552.5M793.4 505.8V556.4M795.0 502.9V550.3M796.9 504.9V552.0M798.4 506.2V556.1M799.9 506.7V552.3M801.6 504.5V552.1M803.5 506.3V555.9M805.4 503.6V551.2M806.8 507.6V552.5M808.5 507.1V553.7M809.9 502.1V556.7M811.9 501.5V552.4M813.9 506.5V555.0M815.6 503.5V551.4M817.4 507.1V552.2M819.1 507.1V553.2M820.5 502.3V550.9M822.2 501.5V550.7M823.6 507.6V555.9M825.7 503.5V552.7M827.2 501.7V550.8M828.6 504.9V554.0M830.1 506.2V555.4M832.0 503.1V552.6M833.9 505.4V550.3M835.3 506.9V556.5M836.9 504.7V551.5M838.3 503.7V551.5M840.0 506.3V555.7M841.6 503.9V552.0M843.3 506.7V552.5M844.7 505.2V555.6M846.1 503.6V556.5M848.1 502.6V552.6M849.6 503.7V555.0M850.9 503.9V555.4M852.5 500.6V551.2M853.9 505.7V553.3M855.3 506.6V554.9M857.3 503.6V551.7M858.6 503.5V550.4M860.0 505.0V551.5M861.7 502.7V553.8M863.8 504.5V550.3M865.3 504.1V549.6M867.1 501.6V547.4M868.9 501.0V547.2M870.7 501.9V547.5M872.0 500.9V543.1M873.4 502.0V542.9M875.2 502.9V545.5M877.1 499.3V538.1M878.6 501.5V539.9M880.6 501.3V543.1M882.4 501.2V539.1M883.8 499.7V537.7M885.7 502.9V541.7M887.4 500.3V539.8M889.2 501.6V539.3M891.3 499.9V544.4M894.0 468.9V528.2M895.3 479.7V538.6M896.8 477.7V534.9M898.3 469.8V527.0M899.7 477.3V527.0M901.3 477.0V536.0M902.9 477.7V526.6M904.5 476.6V525.8M906.4 478.1V538.2M908.0 469.5V527.3M909.5 479.9V526.4M911.2 479.2V536.5M913.1 470.4V528.3M914.5 478.4V529.2M915.9 481.1V536.1M917.3 472.2V527.0M919.2 479.4V529.8M920.8 478.0V536.5M922.1 478.0V537.7M923.9 470.7V527.1M926.0 479.9V527.4M927.8 472.0V527.4M929.6 480.4V527.7M931.4 479.4V537.6M933.4 471.4V528.1M935.0 481.2V525.6M936.3 481.4V536.3M938.0 474.1V526.6M939.3 480.5V527.4M940.9 478.3V536.2M942.2 478.4V535.5M944.3 472.1V525.8M946.0 482.7V536.3M947.4 474.8V527.5M949.2 475.1V526.5M950.8 481.4V538.8M952.9 474.0V528.6M954.2 476.2V530.9M955.9 484.7V540.0M957.8 475.2V529.8M959.1 477.3V529.6M960.6 483.0V539.4M962.0 482.1V537.8M963.3 476.7V529.0M965.1 483.1V529.0M967.0 484.3V537.5M968.6 475.9V528.1M970.7 483.8V528.9M972.3 486.0V539.3M974.3 476.8V527.5M976.0 482.4V537.4M978.1 473.9V527.5M980.2 485.2V527.7M981.7 483.7V538.9M983.4 475.7V530.5M984.8 484.5V531.0M986.2 485.2V528.4M988.2 476.8V538.5M989.6 475.8V530.2M991.3 483.7V525.9M992.9 478.0V536.6M994.9 476.9V530.6M996.5 485.2V529.9M998.0 485.9V535.7M999.4 478.5V527.1M1000.8 485.7V528.6M1002.2 482.3V535.7M1003.9 477.7V536.6M1005.9 482.9V527.0M1007.7 485.4V539.2M1009.6 476.1V531.0M1010.9 484.6V527.8M1012.7 480.9V537.1M1014.4 484.0V531.3M1016.5 485.0V528.0M1018.3 485.9V537.8M1020.0 473.8V528.2M1021.4 484.2V530.1M1023.2 483.6V538.1M1025.2 475.1V531.5M1027.3 481.4V527.1M1029.0 476.0V536.7M1030.4 474.3V527.9M1032.1 482.4V526.4M1034.0 484.7V537.8M1036.0 473.3V530.4M1037.4 481.8V527.0M1038.9 482.7V536.3M1040.5 473.9V528.5M1042.1 481.4V528.9M1044.2 482.4V535.7M1046.2 474.7V525.7M1048.0 483.0V526.6M1050.1 473.7V536.7M1051.5 473.5V526.6M1052.9 478.8V529.5M1054.8 472.4V536.6M1056.7 474.8V529.9M1058.1 480.3V527.4M1059.4 481.1V535.9M1060.9 471.5V528.0M1062.8 479.2V529.8M1064.1 482.4V539.0M1065.8 473.5V528.1M1067.3 480.2V527.1M1068.9 481.8V530.9M1070.5 471.0V526.3M1072.1 474.5V527.8M1073.5 481.6V526.3M1074.9 479.1V537.2M1076.5 471.2V528.3M1078.1 479.2V529.8M1080.1 481.5V534.7M1081.6 470.8V527.6M1083.4 483.0V527.8M1085.4 479.4V536.9M1086.9 482.3V527.7M1088.8 480.0V538.7M1090.8 481.7V527.1M1092.8 474.4V529.0M1094.4 482.4V538.9M1095.8 482.2V526.8M1097.5 470.6V529.2M1099.5 480.0V539.5M1101.2 473.0V530.1M1103.3 481.1V527.6M1105.1 481.7V536.1M1107.0 474.5V529.4M1110.0 473.1V534.2M1111.8 469.9V528.5M1113.6 472.5V528.4M1116.0 484.1V553.9M1117.9 491.0V555.1M1119.3 500.8V560.7M1120.8 502.5V555.4M1122.6 497.5V555.8M1124.5 501.9V560.7M1125.9 499.0V556.9M1127.3 493.3V556.6M1129.0 493.4V560.6M1130.6 491.7V560.1M1132.4 485.8V556.5M1134.0 488.7V558.9M1136.0 486.1V559.0M1137.4 482.3V557.5M1139.0 486.2V555.2M1140.6 484.1V548.5M1142.4 481.1V543.4M1143.8 482.9V542.2M1145.8 483.7V543.1M1147.8 481.2V543.8M1149.1 480.0V544.7M1151.0 480.4V548.0M1153.1 479.7V544.0M1154.4 480.4V545.5M1156.4 481.6V545.8M1157.8 478.0V542.9M1159.1 480.6V543.2M1161.2 479.7V544.0M1163.1 480.2V544.8M1164.9 480.6V545.8M1166.8 479.8V542.4M1168.2 479.8V543.2M1170.0 492.5V546.8M1171.8 493.3V550.4M1173.2 490.2V547.4M1174.6 493.5V548.9M1176.6 496.9V554.8M1178.0 492.6V553.1M1180.1 497.4V555.7M1181.9 498.8V563.8M1183.7 498.7V559.4M1185.5 500.7V567.0M1187.1 500.2V567.0M1188.6 499.3V561.1M1190.4 504.1V562.3M1192.1 498.3V565.4M1193.4 498.9V560.8M1195.3 503.5V560.8M1196.8 505.1V564.9M1198.8 498.5V559.4M1200.4 504.8V557.6M1201.9 506.6V563.9M1203.8 497.5V559.3M1205.2 506.4V561.7M1206.9 503.6V564.8M1208.4 499.2V560.4M1209.9 504.3V561.8M1211.4 505.6V561.6M1212.9 496.9V566.2M1214.6 505.0V559.8M1216.4 506.0V563.3M1218.1 497.0V566.8M1219.4 504.4V564.6M1221.1 504.0V564.4M1223.1 499.2V568.4M1225.1 504.2V564.2M1227.0 512.3V562.8M1228.3 511.4V570.4M1230.0 515.5V563.0M1232.0 512.6V572.0M1233.5 512.7V570.7M1235.0 512.0V565.6M1236.5 513.4V565.6M1238.2 506.3V572.7M1239.8 509.3V566.0M1241.5 513.1V564.3M1242.9 508.7V572.6M1244.7 506.8V566.9M1246.6 512.6V565.4M1248.5 510.3V572.4M1250.6 513.7V564.3M1252.5 513.4V573.6M1253.8 510.1V572.5M1256.0 381.6V480.2M1258.0 380.7V487.2M1259.8 378.6V481.3M1261.2 381.7V482.7M1262.5 381.7V488.8M1264.3 378.1V482.3M1266.2 380.4V484.4M1267.8 382.2V488.3M1269.5 381.9V482.8M1271.3 395.4V483.8M1273.2 403.4V509.5M1274.7 404.6V501.8M1276.7 414.2V502.9M1278.5 422.1V512.3M1280.3 390.9V503.2M1282.0 391.4V502.1M1283.9 393.0V515.4M1285.6 390.4V505.3M1287.1 394.6V503.4M1289.0 414.2V515.5M1290.4 392.9V506.4M1292.3 397.3V508.0M1294.3 396.8V506.1" stroke="#000" stroke-width="3.6" stroke-linecap="round" fill="none"/>
<g fill="#000"><circle cx="163.0" cy="540.4" r="1.8"/><circle cx="172.8" cy="548.9" r="1.8"/><circle cx="179.1" cy="486.4" r="1.8"/><circle cx="182.5" cy="487.6" r="1.8"/><circle cx="186.0" cy="488.9" r="1.8"/><circle cx="188.8" cy="487.8" r="1.8"/><circle cx="191.8" cy="488.6" r="1.8"/><circle cx="196.0" cy="585.4" r="1.8"/><circle cx="207.0" cy="568.5" r="1.8"/><circle cx="226.2" cy="577.9" r="1.8"/><circle cx="228.6" cy="577.2" r="1.8"/><circle cx="243.8" cy="510.4" r="1.8"/><circle cx="246.7" cy="511.2" r="1.8"/><circle cx="247.6" cy="511.2" r="1.8"/><circle cx="258.9" cy="579.9" r="1.8"/><circle cx="259.7" cy="508.1" r="1.8"/><circle cx="264.1" cy="578.1" r="1.8"/><circle cx="282.9" cy="588.3" r="1.8"/><circle cx="296.3" cy="590.4" r="1.8"/><circle cx="300.8" cy="520.7" r="1.8"/><circle cx="303.2" cy="589.0" r="1.8"/><circle cx="313.1" cy="588.8" r="1.8"/><circle cx="316.8" cy="588.7" r="1.8"/><circle cx="320.4" cy="503.8" r="1.8"/><circle cx="330.4" cy="505.4" r="1.8"/><circle cx="347.2" cy="504.2" r="1.8"/><circle cx="353.3" cy="504.4" r="1.8"/><circle cx="367.9" cy="503.7" r="1.8"/><circle cx="381.6" cy="503.9" r="1.8"/><circle cx="383.6" cy="505.6" r="1.8"/><circle cx="390.7" cy="583.5" r="1.8"/><circle cx="404.3" cy="502.3" r="1.8"/><circle cx="406.4" cy="582.4" r="1.8"/><circle cx="410.9" cy="580.8" r="1.8"/><circle cx="413.0" cy="580.8" r="1.8"/><circle cx="415.6" cy="504.4" r="1.8"/><circle cx="414.6" cy="581.3" r="1.8"/><circle cx="438.4" cy="501.9" r="1.8"/><circle cx="442.5" cy="565.2" r="1.8"/><circle cx="447.9" cy="564.7" r="1.8"/><circle cx="458.8" cy="565.6" r="1.8"/><circle cx="460.9" cy="501.7" r="1.8"/><circle cx="469.8" cy="564.1" r="1.8"/><circle cx="472.0" cy="563.8" r="1.8"/><circle cx="479.2" cy="495.3" r="1.8"/><circle cx="496.0" cy="494.2" r="1.8"/><circle cx="498.0" cy="494.5" r="1.8"/><circle cx="502.7" cy="494.1" r="1.8"/><circle cx="509.0" cy="493.6" r="1.8"/><circle cx="516.0" cy="552.3" r="1.8"/><circle cx="525.9" cy="493.3" r="1.8"/><circle cx="533.4" cy="492.7" r="1.8"/><circle cx="534.7" cy="493.7" r="1.8"/><circle cx="538.5" cy="553.5" r="1.8"/><circle cx="541.2" cy="552.4" r="1.8"/><circle cx="542.9" cy="553.3" r="1.8"/><circle cx="550.1" cy="494.0" r="1.8"/><circle cx="553.5" cy="553.8" r="1.8"/><circle cx="566.6" cy="549.9" r="1.8"/><circle cx="569.3" cy="485.7" r="1.8"/><circle cx="607.5" cy="550.0" r="1.8"/><circle cx="613.6" cy="486.4" r="1.8"/><circle cx="622.6" cy="549.5" r="1.8"/><circle cx="632.5" cy="549.3" r="1.8"/><circle cx="634.7" cy="553.5" r="1.8"/><circle cx="662.9" cy="559.3" r="1.8"/><circle cx="676.7" cy="492.6" r="1.8"/><circle cx="679.0" cy="490.2" r="1.8"/><circle cx="686.7" cy="558.2" r="1.8"/><circle cx="709.3" cy="559.0" r="1.8"/><circle cx="714.7" cy="559.6" r="1.8"/><circle cx="733.0" cy="559.5" r="1.8"/><circle cx="735.5" cy="556.8" r="1.8"/><circle cx="738.1" cy="499.3" r="1.8"/><circle cx="743.8" cy="558.9" r="1.8"/><circle cx="745.0" cy="500.9" r="1.8"/><circle cx="745.8" cy="558.6" r="1.8"/><circle cx="761.3" cy="557.5" r="1.8"/><circle cx="764.5" cy="500.7" r="1.8"/><circle cx="777.6" cy="558.0" r="1.8"/><circle cx="800.3" cy="500.2" r="1.8"/><circle cx="807.2" cy="499.5" r="1.8"/><circle cx="807.1" cy="559.1" r="1.8"/><circle cx="815.3" cy="499.5" r="1.8"/><circle cx="835.5" cy="559.8" r="1.8"/><circle cx="838.4" cy="498.3" r="1.8"/><circle cx="847.9" cy="558.3" r="1.8"/><circle cx="868.3" cy="497.1" r="1.8"/><circle cx="901.8" cy="540.5" r="1.8"/><circle cx="914.6" cy="465.9" r="1.8"/><circle cx="917.2" cy="540.8" r="1.8"/><circle cx="930.9" cy="539.3" r="1.8"/><circle cx="942.0" cy="541.5" r="1.8"/><circle cx="948.8" cy="468.2" r="1.8"/><circle cx="951.6" cy="468.9" r="1.8"/><circle cx="950.1" cy="540.4" r="1.8"/><circle cx="957.9" cy="471.3" r="1.8"/><circle cx="961.0" cy="469.7" r="1.8"/><circle cx="968.5" cy="469.9" r="1.8"/><circle cx="977.7" cy="542.5" r="1.8"/><circle cx="982.6" cy="473.1" r="1.8"/><circle cx="986.9" cy="541.4" r="1.8"/><circle cx="987.7" cy="543.3" r="1.8"/><circle cx="990.4" cy="473.5" r="1.8"/><circle cx="997.3" cy="473.8" r="1.8"/><circle cx="1001.8" cy="543.5" r="1.8"/><circle cx="1005.9" cy="542.9" r="1.8"/><circle cx="1039.1" cy="468.1" r="1.8"/><circle cx="1045.4" cy="540.6" r="1.8"/><circle cx="1047.4" cy="543.1" r="1.8"/><circle cx="1049.4" cy="540.6" r="1.8"/><circle cx="1063.0" cy="540.2" r="1.8"/><circle cx="1065.6" cy="541.5" r="1.8"/><circle cx="1070.9" cy="542.4" r="1.8"/><circle cx="1093.3" cy="541.5" r="1.8"/><circle cx="1095.1" cy="467.3" r="1.8"/><circle cx="1113.6" cy="540.0" r="1.8"/><circle cx="1121.9" cy="564.1" r="1.8"/><circle cx="1129.3" cy="564.7" r="1.8"/><circle cx="1141.9" cy="480.6" r="1.8"/><circle cx="1147.1" cy="548.9" r="1.8"/><circle cx="1165.6" cy="476.5" r="1.8"/><circle cx="1167.3" cy="478.9" r="1.8"/><circle cx="1168.2" cy="550.9" r="1.8"/><circle cx="1174.5" cy="490.3" r="1.8"/><circle cx="1182.5" cy="569.2" r="1.8"/><circle cx="1188.1" cy="498.0" r="1.8"/><circle cx="1194.6" cy="495.3" r="1.8"/><circle cx="1196.4" cy="567.9" r="1.8"/><circle cx="1217.6" cy="495.2" r="1.8"/><circle cx="1231.7" cy="499.9" r="1.8"/><circle cx="1242.7" cy="506.6" r="1.8"/><circle cx="1262.3" cy="492.2" r="1.8"/><circle cx="1265.6" cy="491.3" r="1.8"/><circle cx="1276.2" cy="405.5" r="1.8"/><circle cx="1286.3" cy="382.3" r="1.8"/><circle cx="1287.7" cy="386.0" r="1.8"/><circle cx="1288.7" cy="404.4" r="1.8"/><circle cx="1289.2" cy="520.0" r="1.8"/><circle cx="1293.0" cy="387.7" r="1.8"/><circle cx="268.4" cy="509.3" r="1.8"/><circle cx="309.5" cy="510.4" r="1.8"/><circle cx="309.5" cy="514.4" r="1.8"/><circle cx="305.2" cy="517.6" r="1.8"/><circle cx="315.3" cy="516.5" r="1.8"/><circle cx="288.4" cy="517.6" r="1.8"/><circle cx="294.5" cy="517.6" r="1.8"/><circle cx="278.5" cy="520.8" r="1.8"/><circle cx="1156.3" cy="558.4" r="1.8"/><circle cx="1172.5" cy="573.3" r="1.8"/><circle cx="1186.4" cy="572.8" r="1.8"/><circle cx="1196.5" cy="570.4" r="1.8"/><circle cx="1192.5" cy="564.8" r="1.8"/><circle cx="1206.4" cy="567.2" r="1.8"/><circle cx="775.6" cy="499.5" r="1.8"/><circle cx="721.6" cy="500.5" r="1.8"/><circle cx="733.5" cy="500.5" r="1.8"/><circle cx="1222.5" cy="493.0" r="1.8"/><circle cx="1210.0" cy="494.5" r="1.8"/><circle cx="426.0" cy="584.5" r="1.8"/><circle cx="418.0" cy="580.0" r="1.8"/><circle cx="436.0" cy="576.0" r="1.8"/><circle cx="452.0" cy="572.0" r="1.8"/><circle cx="460.0" cy="570.0" r="1.8"/><circle cx="472.5" cy="569.5" r="1.8"/><circle cx="398.0" cy="590.5" r="1.8"/><circle cx="412.0" cy="587.0" r="1.8"/><circle cx="431.0" cy="589.5" r="1.8"/></g>
<rect x="162.0" y="499.0" width="30.3" height="31.0" fill="#ffa500" fill-opacity="0.052"/>
<rect x="162.0" y="506.0" width="30.3" height="19.3" fill="#ffa500" fill-opacity="0.052"/>
<rect x="192.3" y="547.0" width="9.9" height="22.5" fill="#ffa500" fill-opacity="0.052"/>
<rect x="192.3" y="548.0" width="9.9" height="20.7" fill="#ffa500" fill-opacity="0.052"/>
<rect x="202.2" y="525.5" width="53.8" height="32.0" fill="#ffa500" fill-opacity="0.052"/>
<rect x="202.2" y="531.0" width="53.8" height="25.7" fill="#ffa500" fill-opacity="0.052"/>
<rect x="256.0" y="526.0" width="6.0" height="32.0" fill="#ffa500" fill-opacity="0.052"/>
<rect x="256.0" y="531.0" width="6.0" height="26.0" fill="#ffa500" fill-opacity="0.052"/>
<rect x="262.0" y="529.5" width="213.0" height="32.0" fill="#ffa500" fill-opacity="0.052"/>
<rect x="262.0" y="530.2" width="213.0" height="30.7" fill="#ffa500" fill-opacity="0.052"/>
<rect x="475.0" y="508.0" width="80.0" height="28.0" fill="#ffa500" fill-opacity="0.052"/>
<rect x="475.0" y="511.1" width="80.0" height="22.9" fill="#ffa500" fill-opacity="0.052"/>
<rect x="555.0" y="499.0" width="79.0" height="32.0" fill="#ffa500" fill-opacity="0.052"/>
<rect x="555.0" y="504.9" width="79.0" height="24.0" fill="#ffa500" fill-opacity="0.052"/>
<rect x="634.0" y="507.0" width="54.0" height="31.0" fill="#ffa500" fill-opacity="0.052"/>
<rect x="634.0" y="511.7" width="54.0" height="24.0" fill="#ffa500" fill-opacity="0.052"/>
<rect x="688.0" y="514.0" width="205.0" height="27.0" fill="#ffa500" fill-opacity="0.052"/>
<rect x="688.0" y="516.5" width="205.0" height="22.7" fill="#ffa500" fill-opacity="0.052"/>
<rect x="893.0" y="488.0" width="216.0" height="34.0" fill="#ffa500" fill-opacity="0.052"/>
<rect x="893.0" y="491.6" width="216.0" height="28.8" fill="#ffa500" fill-opacity="0.052"/>
<rect x="1109.0" y="484.0" width="6.0" height="32.0" fill="#ffa500" fill-opacity="0.052"/>
<rect x="1109.0" y="486.5" width="6.0" height="27.4" fill="#ffa500" fill-opacity="0.052"/>
<rect x="1115.0" y="503.0" width="54.0" height="36.0" fill="#ffa500" fill-opacity="0.052"/>
<rect x="1115.0" y="505.5" width="54.0" height="31.3" fill="#ffa500" fill-opacity="0.052"/>
<rect x="1169.0" y="517.0" width="86.0" height="34.0" fill="#ffa500" fill-opacity="0.052"/>
<rect x="1169.0" y="519.2" width="86.0" height="29.8" fill="#ffa500" fill-opacity="0.052"/>
<rect x="1255.0" y="424.0" width="41.4" height="57.0" fill="#ffa500" fill-opacity="0.052"/>
<rect x="1255.0" y="426.4" width="41.4" height="52.3" fill="#ffa500" fill-opacity="0.052"/>
<path d="M162.0 518.4H192.3" stroke="#ffa500" stroke-width="2.78"/>
<path d="M192.3 558.4H202.2" stroke="#ffa500" stroke-width="2.78"/>
<path d="M202.2 544.4H256.0" stroke="#ffa500" stroke-width="2.78"/>
<path d="M256.0 544.2H262.0" stroke="#ffa500" stroke-width="2.78"/>
<path d="M262.0 545.4H475.0" stroke="#ffa500" stroke-width="2.78"/>
<path d="M475.0 521.8H555.0" stroke="#ffa500" stroke-width="2.78"/>
<path d="M555.0 517.4H634.0" stroke="#ffa500" stroke-width="2.78"/>
<path d="M634.0 524.3H688.0" stroke="#ffa500" stroke-width="2.78"/>
<path d="M688.0 527.5H893.0" stroke="#ffa500" stroke-width="2.78"/>
<path d="M893.0 505.2H1109.0" stroke="#ffa500" stroke-width="2.78"/>
<path d="M1109.0 500.6H1115.0" stroke="#ffa500" stroke-width="2.78"/>
<path d="M1115.0 521.1H1169.0" stroke="#ffa500" stroke-width="2.78"/>
<path d="M1169.0 534.5H1255.0" stroke="#ffa500" stroke-width="2.78"/>
<path d="M1255.0 452.5H1296.4" stroke="#ffa500" stroke-width="2.78"/>
<rect x="105.5" y="498.9" width="1248.5" height="48.9" fill="#f00" fill-opacity="0.1"/>
<path d="M105.5 523.3H1354" stroke="#f00" stroke-width="2.08"/>
</g>
<path d="M162.0 666.5V380.5" stroke="#800080" stroke-width="2.08" stroke-dasharray="2.083 3.4375" fill="none"/>
<path d="M192.0 666.5V380.5" stroke="#800080" stroke-width="2.08" stroke-dasharray="2.083 3.4375" fill="none"/>
<path d="M202.0 666.5V380.5" stroke="#800080" stroke-width="2.08" stroke-dasharray="2.083 3.4375" fill="none"/>
<path d="M256.0 666.5V380.5" stroke="#800080" stroke-width="2.08" stroke-dasharray="2.083 3.4375" fill="none"/>
<path d="M262.0 666.5V380.5" stroke="#800080" stroke-width="2.08" stroke-dasharray="2.083 3.4375" fill="none"/>
<path d="M475.0 666.5V380.5" stroke="#800080" stroke-width="2.08" stroke-dasharray="2.083 3.4375" fill="none"/>
<path d="M555.0 666.5V380.5" stroke="#800080" stroke-width="2.08" stroke-dasharray="2.083 3.4375" fill="none"/>
<path d="M634.0 666.5V380.5" stroke="#800080" stroke-width="2.08" stroke-dasharray="2.083 3.4375" fill="none"/>
<path d="M688.0 666.5V380.5" stroke="#800080" stroke-width="2.08" stroke-dasharray="2.083 3.4375" fill="none"/>
<path d="M893.0 666.5V380.5" stroke="#800080" stroke-width="2.08" stroke-dasharray="2.083 3.4375" fill="none"/>
<path d="M1109.0 666.5V380.5" stroke="#800080" stroke-width="2.08" stroke-dasharray="2.083 3.4375" fill="none"/>
<path d="M1115.0 666.5V380.5" stroke="#800080" stroke-width="2.08" stroke-dasharray="2.083 3.4375" fill="none"/>
<path d="M1169.0 666.5V380.5" stroke="#800080" stroke-width="2.08" stroke-dasharray="2.083 3.4375" fill="none"/>
<path d="M1255.0 666.5V380.5" stroke="#800080" stroke-width="2.08" stroke-dasharray="2.083 3.4375" fill="none"/>
<path d="M1296.0 666.5V380.5" stroke="#800080" stroke-width="2.08" stroke-dasharray="2.083 3.4375" fill="none"/>
<rect x="105.5" y="380.5" width="1373.0" height="286.0" fill="none" stroke="#000" stroke-width="1.1"/>
<path d="M162.4 666.5v4.9" stroke="#000" stroke-width="1.1"/>
<path d="M377.9 666.5v4.9" stroke="#000" stroke-width="1.1"/>
<path d="M593.4 666.5v4.9" stroke="#000" stroke-width="1.1"/>
<path d="M808.9 666.5v4.9" stroke="#000" stroke-width="1.1"/>
<path d="M1024.4 666.5v4.9" stroke="#000" stroke-width="1.1"/>
<path d="M1239.9 666.5v4.9" stroke="#000" stroke-width="1.1"/>
<path d="M1455.4 666.5v4.9" stroke="#000" stroke-width="1.1"/>
<path d="M105.5 409.3h-4.9" stroke="#000" stroke-width="1.1"/>
<path d="M105.5 458.3h-4.9" stroke="#000" stroke-width="1.1"/>
<path d="M105.5 507.3h-4.9" stroke="#000" stroke-width="1.1"/>
<path d="M105.5 556.3h-4.9" stroke="#000" stroke-width="1.1"/>
<path d="M105.5 605.3h-4.9" stroke="#000" stroke-width="1.1"/>
<path d="M105.5 654.3h-4.9" stroke="#000" stroke-width="1.1"/>
<rect x="1358.3" y="387.6" width="113.40000000000009" height="48.19999999999999" rx="2.8" ry="2.8" fill="#fff" fill-opacity="0.8" stroke="#ccc" stroke-width="1.1"/>
<path d="M1362.5 399.6h30" stroke="#ffa500" stroke-width="2.78"/>
<path d="M1362.5 421.9h30" stroke="#f00" stroke-width="2.08"/>
<rect x="1341.2" y="613.3" width="130.5" height="45.90000000000009" rx="2.8" ry="2.8" fill="#fff" fill-opacity="0.8" stroke="#ccc" stroke-width="1.1"/>
<circle cx="1360.5" cy="626.3" r="1.9" fill="#ffa500"/>
<circle cx="1360.5" cy="647.3" r="1.9" fill="#000"/>
<path d="M105.5 763.5H1478.5" stroke="#b0b0b0" stroke-width="1.11" stroke-dasharray="1.11 1.83"/>
<path d="M105.5 802.5H1478.5" stroke="#b0b0b0" stroke-width="1.11" stroke-dasharray="1.11 1.83"/>
<path d="M105.5 840.5H1478.5" stroke="#b0b0b0" stroke-width="1.11" stroke-dasharray="1.11 1.83"/>
<path d="M105.5 878.5H1478.5" stroke="#b0b0b0" stroke-width="1.11" stroke-dasharray="1.11 1.83"/>
<path d="M105.5 916.5H1478.5" stroke="#b0b0b0" stroke-width="1.11" stroke-dasharray="1.11 1.83"/>
<path d="M105.5 1009.6H1478.5" stroke="#b0b0b0" stroke-width="1.11" stroke-dasharray="1.11 1.83"/>
<path d="M105.5 983.5H1478.5" stroke="#b0b0b0" stroke-width="1.11" stroke-dasharray="1.11 1.83"/>
<path d="M105.5 957.3H1478.5" stroke="#b0b0b0" stroke-width="1.11" stroke-dasharray="1.11 1.83"/>
<g clip-path="url(#c3)">
<path d="M162.2 762.7h1.65v1.65h-1.65zM192.0 762.7h1.65v1.65h-1.65zM202.4 762.7h1.65v1.65h-1.65zM256.6 762.7h1.65v1.65h-1.65zM262.6 762.7h1.65v1.65h-1.65zM475.4 762.7h1.65v1.65h-1.65zM555.4 762.7h1.65v1.65h-1.65zM634.2 762.7h1.65v1.65h-1.65zM635.8 762.7h1.65v1.65h-1.65zM688.0 762.7h1.65v1.65h-1.65zM893.4 762.7h1.65v1.65h-1.65zM1109.2 762.7h1.65v1.65h-1.65zM1115.4 762.7h1.65v1.65h-1.65zM1117.4 762.7h1.65v1.65h-1.65zM1169.6 762.7h1.65v1.65h-1.65zM1255.6 762.7h1.65v1.65h-1.65zM193.6 801.7h1.65v1.65h-1.65zM268.6 801.7h1.65v1.65h-1.65zM295.6 801.7h1.65v1.65h-1.65zM305.6 801.7h1.65v1.65h-1.65zM321.6 801.7h1.65v1.65h-1.65zM332.6 801.7h1.65v1.65h-1.65zM347.6 801.7h1.65v1.65h-1.65zM358.6 801.7h1.65v1.65h-1.65zM362.6 801.7h1.65v1.65h-1.65zM384.6 801.7h1.65v1.65h-1.65zM400.6 801.7h1.65v1.65h-1.65zM411.6 801.7h1.65v1.65h-1.65zM422.6 801.7h1.65v1.65h-1.65zM448.2 801.7h1.65v1.65h-1.65zM458.6 801.7h1.65v1.65h-1.65zM463.6 801.7h1.65v1.65h-1.65zM530.2 801.7h1.65v1.65h-1.65zM555.6 801.7h1.65v1.65h-1.65zM560.6 801.7h1.65v1.65h-1.65zM584.8 801.7h1.65v1.65h-1.65zM587.0 801.7h1.65v1.65h-1.65zM631.6 801.7h1.65v1.65h-1.65zM637.6 801.7h1.65v1.65h-1.65zM643.6 801.7h1.65v1.65h-1.65zM663.6 801.7h1.65v1.65h-1.65zM669.6 801.7h1.65v1.65h-1.65zM674.8 801.7h1.65v1.65h-1.65zM1239.2 801.7h1.65v1.65h-1.65zM180.4 839.7h1.65v1.65h-1.65zM180.4 877.7h1.65v1.65h-1.65zM192.2 839.7h1.65v1.65h-1.65zM192.2 877.7h1.65v1.65h-1.65zM194.7 839.7h1.65v1.65h-1.65zM194.7 877.7h1.65v1.65h-1.65zM197.2 839.7h1.65v1.65h-1.65zM197.2 877.7h1.65v1.65h-1.65zM199.7 839.7h1.65v1.65h-1.65zM199.7 877.7h1.65v1.65h-1.65zM202.2 839.7h1.65v1.65h-1.65zM202.2 877.7h1.65v1.65h-1.65zM207.5 839.7h1.65v1.65h-1.65zM207.5 877.7h1.65v1.65h-1.65zM210.0 839.7h1.65v1.65h-1.65zM210.0 877.7h1.65v1.65h-1.65zM215.0 839.7h1.65v1.65h-1.65zM215.0 877.7h1.65v1.65h-1.65zM218.4 839.7h1.65v1.65h-1.65zM218.4 877.7h1.65v1.65h-1.65zM223.9 839.7h1.65v1.65h-1.65zM223.9 877.7h1.65v1.65h-1.65zM226.7 839.7h1.65v1.65h-1.65zM226.7 877.7h1.65v1.65h-1.65zM235.0 839.7h1.65v1.65h-1.65zM235.0 877.7h1.65v1.65h-1.65zM239.2 839.7h1.65v1.65h-1.65zM239.2 877.7h1.65v1.65h-1.65zM241.7 839.7h1.65v1.65h-1.65zM241.7 877.7h1.65v1.65h-1.65zM244.2 839.7h1.65v1.65h-1.65zM244.2 877.7h1.65v1.65h-1.65zM249.7 839.7h1.65v1.65h-1.65zM249.7 877.7h1.65v1.65h-1.65zM252.5 839.7h1.65v1.65h-1.65zM252.5 877.7h1.65v1.65h-1.65zM258.4 839.7h1.65v1.65h-1.65zM258.4 877.7h1.65v1.65h-1.65zM268.4 839.7h1.65v1.65h-1.65zM268.4 877.7h1.65v1.65h-1.65zM270.9 839.7h1.65v1.65h-1.65zM270.9 877.7h1.65v1.65h-1.65zM273.4 839.7h1.65v1.65h-1.65zM273.4 877.7h1.65v1.65h-1.65zM275.9 839.7h1.65v1.65h-1.65zM275.9 877.7h1.65v1.65h-1.65zM278.4 839.7h1.65v1.65h-1.65zM278.4 877.7h1.65v1.65h-1.65zM280.9 839.7h1.65v1.65h-1.65zM280.9 877.7h1.65v1.65h-1.65zM283.4 839.7h1.65v1.65h-1.65zM283.4 877.7h1.65v1.65h-1.65zM285.9 839.7h1.65v1.65h-1.65zM285.9 877.7h1.65v1.65h-1.65zM288.4 839.7h1.65v1.65h-1.65zM288.4 877.7h1.65v1.65h-1.65zM291.7 839.7h1.65v1.65h-1.65zM291.7 877.7h1.65v1.65h-1.65zM293.4 839.7h1.65v1.65h-1.65zM293.4 877.7h1.65v1.65h-1.65zM299.7 839.7h1.65v1.65h-1.65zM299.7 877.7h1.65v1.65h-1.65zM304.2 839.7h1.65v1.65h-1.65zM304.2 877.7h1.65v1.65h-1.65zM306.7 839.7h1.65v1.65h-1.65zM306.7 877.7h1.65v1.65h-1.65zM309.2 839.7h1.65v1.65h-1.65zM309.2 877.7h1.65v1.65h-1.65zM311.7 839.7h1.65v1.65h-1.65zM311.7 877.7h1.65v1.65h-1.65zM314.2 839.7h1.65v1.65h-1.65zM314.2 877.7h1.65v1.65h-1.65zM316.7 839.7h1.65v1.65h-1.65zM316.7 877.7h1.65v1.65h-1.65zM320.9 839.7h1.65v1.65h-1.65zM320.9 877.7h1.65v1.65h-1.65zM325.9 839.7h1.65v1.65h-1.65zM325.9 877.7h1.65v1.65h-1.65zM328.4 839.7h1.65v1.65h-1.65zM328.4 877.7h1.65v1.65h-1.65zM330.9 839.7h1.65v1.65h-1.65zM330.9 877.7h1.65v1.65h-1.65zM336.2 839.7h1.65v1.65h-1.65zM336.2 877.7h1.65v1.65h-1.65zM341.7 839.7h1.65v1.65h-1.65zM341.7 877.7h1.65v1.65h-1.65zM343.9 839.7h1.65v1.65h-1.65zM343.9 877.7h1.65v1.65h-1.65zM346.1 839.7h1.65v1.65h-1.65zM346.1 877.7h1.65v1.65h-1.65zM348.4 839.7h1.65v1.65h-1.65zM348.4 877.7h1.65v1.65h-1.65zM350.9 839.7h1.65v1.65h-1.65zM350.9 877.7h1.65v1.65h-1.65zM353.8 839.7h1.65v1.65h-1.65zM353.8 877.7h1.65v1.65h-1.65zM356.7 839.7h1.65v1.65h-1.65zM356.7 877.7h1.65v1.65h-1.65zM359.6 839.7h1.65v1.65h-1.65zM359.6 877.7h1.65v1.65h-1.65zM362.5 839.7h1.65v1.65h-1.65zM362.5 877.7h1.65v1.65h-1.65zM366.7 839.7h1.65v1.65h-1.65zM366.7 877.7h1.65v1.65h-1.65zM370.0 839.7h1.65v1.65h-1.65zM370.0 877.7h1.65v1.65h-1.65zM373.7 839.7h1.65v1.65h-1.65zM373.7 877.7h1.65v1.65h-1.65zM378.7 839.7h1.65v1.65h-1.65zM378.7 877.7h1.65v1.65h-1.65zM384.2 839.7h1.65v1.65h-1.65zM384.2 877.7h1.65v1.65h-1.65zM387.5 839.7h1.65v1.65h-1.65zM387.5 877.7h1.65v1.65h-1.65zM391.7 839.7h1.65v1.65h-1.65zM391.7 877.7h1.65v1.65h-1.65zM394.4 839.7h1.65v1.65h-1.65zM394.4 877.7h1.65v1.65h-1.65zM397.1 839.7h1.65v1.65h-1.65zM397.1 877.7h1.65v1.65h-1.65zM399.7 839.7h1.65v1.65h-1.65zM399.7 877.7h1.65v1.65h-1.65zM402.4 839.7h1.65v1.65h-1.65zM402.4 877.7h1.65v1.65h-1.65zM405.1 839.7h1.65v1.65h-1.65zM405.1 877.7h1.65v1.65h-1.65zM407.8 839.7h1.65v1.65h-1.65zM407.8 877.7h1.65v1.65h-1.65zM410.5 839.7h1.65v1.65h-1.65zM410.5 877.7h1.65v1.65h-1.65zM413.2 839.7h1.65v1.65h-1.65zM413.2 877.7h1.65v1.65h-1.65zM415.9 839.7h1.65v1.65h-1.65zM415.9 877.7h1.65v1.65h-1.65zM420.9 839.7h1.65v1.65h-1.65zM420.9 877.7h1.65v1.65h-1.65zM423.8 839.7h1.65v1.65h-1.65zM423.8 877.7h1.65v1.65h-1.65zM426.7 839.7h1.65v1.65h-1.65zM426.7 877.7h1.65v1.65h-1.65zM431.2 839.7h1.65v1.65h-1.65zM431.2 877.7h1.65v1.65h-1.65zM435.0 839.7h1.65v1.65h-1.65zM435.0 877.7h1.65v1.65h-1.65zM437.2 839.7h1.65v1.65h-1.65zM437.2 877.7h1.65v1.65h-1.65zM439.4 839.7h1.65v1.65h-1.65zM439.4 877.7h1.65v1.65h-1.65zM441.7 839.7h1.65v1.65h-1.65zM441.7 877.7h1.65v1.65h-1.65zM445.0 839.7h1.65v1.65h-1.65zM445.0 877.7h1.65v1.65h-1.65zM447.5 839.7h1.65v1.65h-1.65zM447.5 877.7h1.65v1.65h-1.65zM450.0 839.7h1.65v1.65h-1.65zM450.0 877.7h1.65v1.65h-1.65zM453.4 839.7h1.65v1.65h-1.65zM453.4 877.7h1.65v1.65h-1.65zM455.9 839.7h1.65v1.65h-1.65zM455.9 877.7h1.65v1.65h-1.65zM458.4 839.7h1.65v1.65h-1.65zM458.4 877.7h1.65v1.65h-1.65zM460.9 839.7h1.65v1.65h-1.65zM460.9 877.7h1.65v1.65h-1.65zM463.6 839.7h1.65v1.65h-1.65zM463.6 877.7h1.65v1.65h-1.65zM466.4 839.7h1.65v1.65h-1.65zM466.4 877.7h1.65v1.65h-1.65zM469.2 839.7h1.65v1.65h-1.65zM469.2 877.7h1.65v1.65h-1.65zM473.4 839.7h1.65v1.65h-1.65zM473.4 877.7h1.65v1.65h-1.65zM475.9 839.7h1.65v1.65h-1.65zM475.9 877.7h1.65v1.65h-1.65zM480.0 839.7h1.65v1.65h-1.65zM480.0 877.7h1.65v1.65h-1.65zM482.5 839.7h1.65v1.65h-1.65zM482.5 877.7h1.65v1.65h-1.65zM489.2 839.7h1.65v1.65h-1.65zM489.2 877.7h1.65v1.65h-1.65zM491.7 839.7h1.65v1.65h-1.65zM491.7 877.7h1.65v1.65h-1.65zM494.2 839.7h1.65v1.65h-1.65zM494.2 877.7h1.65v1.65h-1.65zM496.7 839.7h1.65v1.65h-1.65zM496.7 877.7h1.65v1.65h-1.65zM499.2 839.7h1.65v1.65h-1.65zM499.2 877.7h1.65v1.65h-1.65zM501.7 839.7h1.65v1.65h-1.65zM501.7 877.7h1.65v1.65h-1.65zM504.2 839.7h1.65v1.65h-1.65zM504.2 877.7h1.65v1.65h-1.65zM507.5 839.7h1.65v1.65h-1.65zM507.5 877.7h1.65v1.65h-1.65zM509.6 839.7h1.65v1.65h-1.65zM509.6 877.7h1.65v1.65h-1.65zM511.7 839.7h1.65v1.65h-1.65zM511.7 877.7h1.65v1.65h-1.65zM517.5 839.7h1.65v1.65h-1.65zM517.5 877.7h1.65v1.65h-1.65zM520.0 839.7h1.65v1.65h-1.65zM520.0 877.7h1.65v1.65h-1.65zM524.2 839.7h1.65v1.65h-1.65zM524.2 877.7h1.65v1.65h-1.65zM526.4 839.7h1.65v1.65h-1.65zM526.4 877.7h1.65v1.65h-1.65zM528.6 839.7h1.65v1.65h-1.65zM528.6 877.7h1.65v1.65h-1.65zM530.9 839.7h1.65v1.65h-1.65zM530.9 877.7h1.65v1.65h-1.65zM533.4 839.7h1.65v1.65h-1.65zM533.4 877.7h1.65v1.65h-1.65zM535.9 839.7h1.65v1.65h-1.65zM535.9 877.7h1.65v1.65h-1.65zM538.4 839.7h1.65v1.65h-1.65zM538.4 877.7h1.65v1.65h-1.65zM540.9 839.7h1.65v1.65h-1.65zM540.9 877.7h1.65v1.65h-1.65zM545.0 839.7h1.65v1.65h-1.65zM545.0 877.7h1.65v1.65h-1.65zM550.9 839.7h1.65v1.65h-1.65zM550.9 877.7h1.65v1.65h-1.65zM553.4 839.7h1.65v1.65h-1.65zM553.4 877.7h1.65v1.65h-1.65zM555.9 839.7h1.65v1.65h-1.65zM555.9 877.7h1.65v1.65h-1.65zM558.6 839.7h1.65v1.65h-1.65zM558.6 877.7h1.65v1.65h-1.65zM561.3 839.7h1.65v1.65h-1.65zM561.3 877.7h1.65v1.65h-1.65zM564.0 839.7h1.65v1.65h-1.65zM564.0 877.7h1.65v1.65h-1.65zM566.7 839.7h1.65v1.65h-1.65zM566.7 877.7h1.65v1.65h-1.65zM569.4 839.7h1.65v1.65h-1.65zM569.4 877.7h1.65v1.65h-1.65zM572.1 839.7h1.65v1.65h-1.65zM572.1 877.7h1.65v1.65h-1.65zM574.8 839.7h1.65v1.65h-1.65zM574.8 877.7h1.65v1.65h-1.65zM577.5 839.7h1.65v1.65h-1.65zM577.5 877.7h1.65v1.65h-1.65zM584.2 839.7h1.65v1.65h-1.65zM584.2 877.7h1.65v1.65h-1.65zM586.9 839.7h1.65v1.65h-1.65zM586.9 877.7h1.65v1.65h-1.65zM589.7 839.7h1.65v1.65h-1.65zM589.7 877.7h1.65v1.65h-1.65zM592.5 839.7h1.65v1.65h-1.65zM592.5 877.7h1.65v1.65h-1.65zM595.0 839.7h1.65v1.65h-1.65zM595.0 877.7h1.65v1.65h-1.65zM597.8 839.7h1.65v1.65h-1.65zM597.8 877.7h1.65v1.65h-1.65zM600.6 839.7h1.65v1.65h-1.65zM600.6 877.7h1.65v1.65h-1.65zM603.4 839.7h1.65v1.65h-1.65zM603.4 877.7h1.65v1.65h-1.65zM610.0 839.7h1.65v1.65h-1.65zM610.0 877.7h1.65v1.65h-1.65zM612.6 839.7h1.65v1.65h-1.65zM612.6 877.7h1.65v1.65h-1.65zM615.2 839.7h1.65v1.65h-1.65zM615.2 877.7h1.65v1.65h-1.65zM617.8 839.7h1.65v1.65h-1.65zM617.8 877.7h1.65v1.65h-1.65zM620.4 839.7h1.65v1.65h-1.65zM620.4 877.7h1.65v1.65h-1.65zM623.0 839.7h1.65v1.65h-1.65zM623.0 877.7h1.65v1.65h-1.65zM625.6 839.7h1.65v1.65h-1.65zM625.6 877.7h1.65v1.65h-1.65zM628.2 839.7h1.65v1.65h-1.65zM628.2 877.7h1.65v1.65h-1.65zM630.8 839.7h1.65v1.65h-1.65zM630.8 877.7h1.65v1.65h-1.65zM633.4 839.7h1.65v1.65h-1.65zM633.4 877.7h1.65v1.65h-1.65zM636.7 839.7h1.65v1.65h-1.65zM636.7 877.7h1.65v1.65h-1.65zM640.0 839.7h1.65v1.65h-1.65zM640.0 877.7h1.65v1.65h-1.65zM642.6 839.7h1.65v1.65h-1.65zM642.6 877.7h1.65v1.65h-1.65zM645.2 839.7h1.65v1.65h-1.65zM645.2 877.7h1.65v1.65h-1.65zM647.8 839.7h1.65v1.65h-1.65zM647.8 877.7h1.65v1.65h-1.65zM650.4 839.7h1.65v1.65h-1.65zM650.4 877.7h1.65v1.65h-1.65zM653.0 839.7h1.65v1.65h-1.65zM653.0 877.7h1.65v1.65h-1.65zM655.6 839.7h1.65v1.65h-1.65zM655.6 877.7h1.65v1.65h-1.65zM658.2 839.7h1.65v1.65h-1.65zM658.2 877.7h1.65v1.65h-1.65zM660.8 839.7h1.65v1.65h-1.65zM660.8 877.7h1.65v1.65h-1.65zM663.4 839.7h1.65v1.65h-1.65zM663.4 877.7h1.65v1.65h-1.65zM668.4 839.7h1.65v1.65h-1.65zM668.4 877.7h1.65v1.65h-1.65zM671.2 839.7h1.65v1.65h-1.65zM671.2 877.7h1.65v1.65h-1.65zM674.0 839.7h1.65v1.65h-1.65zM674.0 877.7h1.65v1.65h-1.65zM676.8 839.7h1.65v1.65h-1.65zM676.8 877.7h1.65v1.65h-1.65zM679.7 839.7h1.65v1.65h-1.65zM679.7 877.7h1.65v1.65h-1.65zM682.5 839.7h1.65v1.65h-1.65zM682.5 877.7h1.65v1.65h-1.65zM685.9 839.7h1.65v1.65h-1.65zM685.9 877.7h1.65v1.65h-1.65zM688.4 839.7h1.65v1.65h-1.65zM688.4 877.7h1.65v1.65h-1.65zM690.9 839.7h1.65v1.65h-1.65zM690.9 877.7h1.65v1.65h-1.65zM694.7 839.7h1.65v1.65h-1.65zM694.7 877.7h1.65v1.65h-1.65zM707.2 839.7h1.65v1.65h-1.65zM707.2 877.7h1.65v1.65h-1.65zM722.2 839.7h1.65v1.65h-1.65zM722.2 877.7h1.65v1.65h-1.65zM736.7 839.7h1.65v1.65h-1.65zM736.7 877.7h1.65v1.65h-1.65zM747.5 839.7h1.65v1.65h-1.65zM747.5 877.7h1.65v1.65h-1.65zM752.2 839.7h1.65v1.65h-1.65zM752.2 877.7h1.65v1.65h-1.65zM758.4 839.7h1.65v1.65h-1.65zM758.4 877.7h1.65v1.65h-1.65zM773.7 839.7h1.65v1.65h-1.65zM773.7 877.7h1.65v1.65h-1.65zM777.5 839.7h1.65v1.65h-1.65zM777.5 877.7h1.65v1.65h-1.65zM786.4 839.7h1.65v1.65h-1.65zM786.4 877.7h1.65v1.65h-1.65zM791.7 839.7h1.65v1.65h-1.65zM791.7 877.7h1.65v1.65h-1.65zM806.7 839.7h1.65v1.65h-1.65zM806.7 877.7h1.65v1.65h-1.65zM812.5 839.7h1.65v1.65h-1.65zM812.5 877.7h1.65v1.65h-1.65zM821.7 839.7h1.65v1.65h-1.65zM821.7 877.7h1.65v1.65h-1.65zM827.5 839.7h1.65v1.65h-1.65zM827.5 877.7h1.65v1.65h-1.65zM830.9 839.7h1.65v1.65h-1.65zM830.9 877.7h1.65v1.65h-1.65zM844.5 839.7h1.65v1.65h-1.65zM844.5 877.7h1.65v1.65h-1.65zM852.5 839.7h1.65v1.65h-1.65zM852.5 877.7h1.65v1.65h-1.65zM886.7 839.7h1.65v1.65h-1.65zM886.7 877.7h1.65v1.65h-1.65zM892.5 839.7h1.65v1.65h-1.65zM892.5 877.7h1.65v1.65h-1.65zM895.0 839.7h1.65v1.65h-1.65zM895.0 877.7h1.65v1.65h-1.65zM897.5 839.7h1.65v1.65h-1.65zM897.5 877.7h1.65v1.65h-1.65zM900.0 839.7h1.65v1.65h-1.65zM900.0 877.7h1.65v1.65h-1.65zM902.5 839.7h1.65v1.65h-1.65zM902.5 877.7h1.65v1.65h-1.65zM905.0 839.7h1.65v1.65h-1.65zM905.0 877.7h1.65v1.65h-1.65zM910.0 839.7h1.65v1.65h-1.65zM910.0 877.7h1.65v1.65h-1.65zM912.8 839.7h1.65v1.65h-1.65zM912.8 877.7h1.65v1.65h-1.65zM915.6 839.7h1.65v1.65h-1.65zM915.6 877.7h1.65v1.65h-1.65zM918.4 839.7h1.65v1.65h-1.65zM918.4 877.7h1.65v1.65h-1.65zM922.5 839.7h1.65v1.65h-1.65zM922.5 877.7h1.65v1.65h-1.65zM927.5 839.7h1.65v1.65h-1.65zM927.5 877.7h1.65v1.65h-1.65zM936.7 839.7h1.65v1.65h-1.65zM936.7 877.7h1.65v1.65h-1.65zM939.4 839.7h1.65v1.65h-1.65zM939.4 877.7h1.65v1.65h-1.65zM942.2 839.7h1.65v1.65h-1.65zM942.2 877.7h1.65v1.65h-1.65zM945.0 839.7h1.65v1.65h-1.65zM945.0 877.7h1.65v1.65h-1.65zM948.4 839.7h1.65v1.65h-1.65zM948.4 877.7h1.65v1.65h-1.65zM950.6 839.7h1.65v1.65h-1.65zM950.6 877.7h1.65v1.65h-1.65zM952.8 839.7h1.65v1.65h-1.65zM952.8 877.7h1.65v1.65h-1.65zM955.0 839.7h1.65v1.65h-1.65zM955.0 877.7h1.65v1.65h-1.65zM962.5 839.7h1.65v1.65h-1.65zM962.5 877.7h1.65v1.65h-1.65zM965.4 839.7h1.65v1.65h-1.65zM965.4 877.7h1.65v1.65h-1.65zM968.4 839.7h1.65v1.65h-1.65zM968.4 877.7h1.65v1.65h-1.65zM972.5 839.7h1.65v1.65h-1.65zM972.5 877.7h1.65v1.65h-1.65zM975.3 839.7h1.65v1.65h-1.65zM975.3 877.7h1.65v1.65h-1.65zM978.1 839.7h1.65v1.65h-1.65zM978.1 877.7h1.65v1.65h-1.65zM980.9 839.7h1.65v1.65h-1.65zM980.9 877.7h1.65v1.65h-1.65zM987.9 839.7h1.65v1.65h-1.65zM987.9 877.7h1.65v1.65h-1.65zM991.7 839.7h1.65v1.65h-1.65zM991.7 877.7h1.65v1.65h-1.65zM999.2 839.7h1.65v1.65h-1.65zM999.2 877.7h1.65v1.65h-1.65zM1001.9 839.7h1.65v1.65h-1.65zM1001.9 877.7h1.65v1.65h-1.65zM1004.7 839.7h1.65v1.65h-1.65zM1004.7 877.7h1.65v1.65h-1.65zM1007.5 839.7h1.65v1.65h-1.65zM1007.5 877.7h1.65v1.65h-1.65zM1010.9 839.7h1.65v1.65h-1.65zM1010.9 877.7h1.65v1.65h-1.65zM1013.4 839.7h1.65v1.65h-1.65zM1013.4 877.7h1.65v1.65h-1.65zM1015.9 839.7h1.65v1.65h-1.65zM1015.9 877.7h1.65v1.65h-1.65zM1018.4 839.7h1.65v1.65h-1.65zM1018.4 877.7h1.65v1.65h-1.65zM1021.7 839.7h1.65v1.65h-1.65zM1021.7 877.7h1.65v1.65h-1.65zM1025.9 839.7h1.65v1.65h-1.65zM1025.9 877.7h1.65v1.65h-1.65zM1028.8 839.7h1.65v1.65h-1.65zM1028.8 877.7h1.65v1.65h-1.65zM1031.7 839.7h1.65v1.65h-1.65zM1031.7 877.7h1.65v1.65h-1.65zM1035.9 839.7h1.65v1.65h-1.65zM1035.9 877.7h1.65v1.65h-1.65zM1038.6 839.7h1.65v1.65h-1.65zM1038.6 877.7h1.65v1.65h-1.65zM1041.4 839.7h1.65v1.65h-1.65zM1041.4 877.7h1.65v1.65h-1.65zM1044.2 839.7h1.65v1.65h-1.65zM1044.2 877.7h1.65v1.65h-1.65zM1048.4 839.7h1.65v1.65h-1.65zM1048.4 877.7h1.65v1.65h-1.65zM1051.3 839.7h1.65v1.65h-1.65zM1051.3 877.7h1.65v1.65h-1.65zM1054.2 839.7h1.65v1.65h-1.65zM1054.2 877.7h1.65v1.65h-1.65zM1057.5 839.7h1.65v1.65h-1.65zM1057.5 877.7h1.65v1.65h-1.65zM1062.5 839.7h1.65v1.65h-1.65zM1062.5 877.7h1.65v1.65h-1.65zM1065.0 839.7h1.65v1.65h-1.65zM1065.0 877.7h1.65v1.65h-1.65zM1067.5 839.7h1.65v1.65h-1.65zM1067.5 877.7h1.65v1.65h-1.65zM1070.0 839.7h1.65v1.65h-1.65zM1070.0 877.7h1.65v1.65h-1.65zM1074.2 839.7h1.65v1.65h-1.65zM1074.2 877.7h1.65v1.65h-1.65zM1076.4 839.7h1.65v1.65h-1.65zM1076.4 877.7h1.65v1.65h-1.65zM1078.6 839.7h1.65v1.65h-1.65zM1078.6 877.7h1.65v1.65h-1.65zM1080.9 839.7h1.65v1.65h-1.65zM1080.9 877.7h1.65v1.65h-1.65zM1088.4 839.7h1.65v1.65h-1.65zM1088.4 877.7h1.65v1.65h-1.65zM1091.7 839.7h1.65v1.65h-1.65zM1091.7 877.7h1.65v1.65h-1.65zM1094.5 839.7h1.65v1.65h-1.65zM1094.5 877.7h1.65v1.65h-1.65zM1100.0 839.7h1.65v1.65h-1.65zM1100.0 877.7h1.65v1.65h-1.65zM1102.6 839.7h1.65v1.65h-1.65zM1102.6 877.7h1.65v1.65h-1.65zM1105.3 839.7h1.65v1.65h-1.65zM1105.3 877.7h1.65v1.65h-1.65zM1107.9 839.7h1.65v1.65h-1.65zM1107.9 877.7h1.65v1.65h-1.65zM1110.6 839.7h1.65v1.65h-1.65zM1110.6 877.7h1.65v1.65h-1.65zM1113.2 839.7h1.65v1.65h-1.65zM1113.2 877.7h1.65v1.65h-1.65zM1115.9 839.7h1.65v1.65h-1.65zM1115.9 877.7h1.65v1.65h-1.65zM1119.2 839.7h1.65v1.65h-1.65zM1119.2 877.7h1.65v1.65h-1.65zM1121.7 839.7h1.65v1.65h-1.65zM1121.7 877.7h1.65v1.65h-1.65zM1124.2 839.7h1.65v1.65h-1.65zM1124.2 877.7h1.65v1.65h-1.65zM1126.7 839.7h1.65v1.65h-1.65zM1126.7 877.7h1.65v1.65h-1.65zM1129.2 839.7h1.65v1.65h-1.65zM1129.2 877.7h1.65v1.65h-1.65zM1131.7 839.7h1.65v1.65h-1.65zM1131.7 877.7h1.65v1.65h-1.65zM1134.2 839.7h1.65v1.65h-1.65zM1134.2 877.7h1.65v1.65h-1.65zM1136.7 839.7h1.65v1.65h-1.65zM1136.7 877.7h1.65v1.65h-1.65zM1140.0 839.7h1.65v1.65h-1.65zM1140.0 877.7h1.65v1.65h-1.65zM1143.4 839.7h1.65v1.65h-1.65zM1143.4 877.7h1.65v1.65h-1.65zM1145.9 839.7h1.65v1.65h-1.65zM1145.9 877.7h1.65v1.65h-1.65zM1149.2 839.7h1.65v1.65h-1.65zM1149.2 877.7h1.65v1.65h-1.65zM1151.7 839.7h1.65v1.65h-1.65zM1151.7 877.7h1.65v1.65h-1.65zM1154.2 839.7h1.65v1.65h-1.65zM1154.2 877.7h1.65v1.65h-1.65zM1157.5 839.7h1.65v1.65h-1.65zM1157.5 877.7h1.65v1.65h-1.65zM1160.2 839.7h1.65v1.65h-1.65zM1160.2 877.7h1.65v1.65h-1.65zM1162.9 839.7h1.65v1.65h-1.65zM1162.9 877.7h1.65v1.65h-1.65zM1165.6 839.7h1.65v1.65h-1.65zM1165.6 877.7h1.65v1.65h-1.65zM1168.3 839.7h1.65v1.65h-1.65zM1168.3 877.7h1.65v1.65h-1.65zM1171.0 839.7h1.65v1.65h-1.65zM1171.0 877.7h1.65v1.65h-1.65zM1173.8 839.7h1.65v1.65h-1.65zM1173.8 877.7h1.65v1.65h-1.65zM1176.5 839.7h1.65v1.65h-1.65zM1176.5 877.7h1.65v1.65h-1.65zM1179.2 839.7h1.65v1.65h-1.65zM1179.2 877.7h1.65v1.65h-1.65zM1184.2 839.7h1.65v1.65h-1.65zM1184.2 877.7h1.65v1.65h-1.65zM1186.7 839.7h1.65v1.65h-1.65zM1186.7 877.7h1.65v1.65h-1.65zM1189.2 839.7h1.65v1.65h-1.65zM1189.2 877.7h1.65v1.65h-1.65zM1194.2 839.7h1.65v1.65h-1.65zM1194.2 877.7h1.65v1.65h-1.65zM1197.5 839.7h1.65v1.65h-1.65zM1197.5 877.7h1.65v1.65h-1.65zM1201.7 839.7h1.65v1.65h-1.65zM1201.7 877.7h1.65v1.65h-1.65zM1204.2 839.7h1.65v1.65h-1.65zM1204.2 877.7h1.65v1.65h-1.65zM1206.7 839.7h1.65v1.65h-1.65zM1206.7 877.7h1.65v1.65h-1.65zM1209.2 839.7h1.65v1.65h-1.65zM1209.2 877.7h1.65v1.65h-1.65zM1211.7 839.7h1.65v1.65h-1.65zM1211.7 877.7h1.65v1.65h-1.65zM1214.2 839.7h1.65v1.65h-1.65zM1214.2 877.7h1.65v1.65h-1.65zM1220.0 839.7h1.65v1.65h-1.65zM1220.0 877.7h1.65v1.65h-1.65zM1222.3 839.7h1.65v1.65h-1.65zM1222.3 877.7h1.65v1.65h-1.65zM1224.7 839.7h1.65v1.65h-1.65zM1224.7 877.7h1.65v1.65h-1.65zM1227.0 839.7h1.65v1.65h-1.65zM1227.0 877.7h1.65v1.65h-1.65zM1229.3 839.7h1.65v1.65h-1.65zM1229.3 877.7h1.65v1.65h-1.65zM1231.7 839.7h1.65v1.65h-1.65zM1231.7 877.7h1.65v1.65h-1.65zM1235.0 839.7h1.65v1.65h-1.65zM1235.0 877.7h1.65v1.65h-1.65zM1237.9 839.7h1.65v1.65h-1.65zM1237.9 877.7h1.65v1.65h-1.65zM1240.9 839.7h1.65v1.65h-1.65zM1240.9 877.7h1.65v1.65h-1.65zM1245.0 839.7h1.65v1.65h-1.65zM1245.0 877.7h1.65v1.65h-1.65zM1247.2 839.7h1.65v1.65h-1.65zM1247.2 877.7h1.65v1.65h-1.65zM1249.4 839.7h1.65v1.65h-1.65zM1249.4 877.7h1.65v1.65h-1.65zM1251.7 839.7h1.65v1.65h-1.65zM1251.7 877.7h1.65v1.65h-1.65zM1262.5 839.7h1.65v1.65h-1.65zM1262.5 877.7h1.65v1.65h-1.65zM1278.4 839.7h1.65v1.65h-1.65zM1278.4 877.7h1.65v1.65h-1.65zM1288.7 839.7h1.65v1.65h-1.65zM1288.7 877.7h1.65v1.65h-1.65z" fill="none" stroke="#000" stroke-width="1.0"/>
<path d="M179.6 959.05h3.2l-1.6 -3.3zM191.4 959.05h3.2l-1.6 -3.3zM193.9 959.05h3.2l-1.6 -3.3zM196.4 959.05h3.2l-1.6 -3.3zM198.9 959.05h3.2l-1.6 -3.3zM201.4 959.05h3.2l-1.6 -3.3zM206.7 959.05h3.2l-1.6 -3.3zM209.2 959.05h3.2l-1.6 -3.3zM214.2 959.05h3.2l-1.6 -3.3zM217.6 959.05h3.2l-1.6 -3.3zM223.1 959.05h3.2l-1.6 -3.3zM225.9 959.05h3.2l-1.6 -3.3zM234.2 959.05h3.2l-1.6 -3.3zM238.4 959.05h3.2l-1.6 -3.3zM240.9 959.05h3.2l-1.6 -3.3zM243.4 959.05h3.2l-1.6 -3.3zM248.9 959.05h3.2l-1.6 -3.3zM251.7 959.05h3.2l-1.6 -3.3zM257.6 959.05h3.2l-1.6 -3.3zM267.6 959.05h3.2l-1.6 -3.3zM270.1 959.05h3.2l-1.6 -3.3zM272.6 959.05h3.2l-1.6 -3.3zM275.1 959.05h3.2l-1.6 -3.3zM277.6 959.05h3.2l-1.6 -3.3zM280.1 959.05h3.2l-1.6 -3.3zM282.6 959.05h3.2l-1.6 -3.3zM285.1 959.05h3.2l-1.6 -3.3zM287.6 959.05h3.2l-1.6 -3.3zM290.9 959.05h3.2l-1.6 -3.3zM292.6 959.05h3.2l-1.6 -3.3zM298.9 959.05h3.2l-1.6 -3.3zM303.4 959.05h3.2l-1.6 -3.3zM305.9 959.05h3.2l-1.6 -3.3zM308.4 959.05h3.2l-1.6 -3.3zM310.9 959.05h3.2l-1.6 -3.3zM313.4 959.05h3.2l-1.6 -3.3zM315.9 959.05h3.2l-1.6 -3.3zM320.1 959.05h3.2l-1.6 -3.3zM325.1 959.05h3.2l-1.6 -3.3zM327.6 959.05h3.2l-1.6 -3.3zM330.1 959.05h3.2l-1.6 -3.3zM335.4 959.05h3.2l-1.6 -3.3zM340.9 959.05h3.2l-1.6 -3.3zM343.1 959.05h3.2l-1.6 -3.3zM345.4 959.05h3.2l-1.6 -3.3zM347.6 959.05h3.2l-1.6 -3.3zM350.1 959.05h3.2l-1.6 -3.3zM353.0 959.05h3.2l-1.6 -3.3zM355.9 959.05h3.2l-1.6 -3.3zM358.8 959.05h3.2l-1.6 -3.3zM361.7 959.05h3.2l-1.6 -3.3zM365.9 959.05h3.2l-1.6 -3.3zM369.2 959.05h3.2l-1.6 -3.3zM372.9 959.05h3.2l-1.6 -3.3zM377.9 959.05h3.2l-1.6 -3.3zM383.4 959.05h3.2l-1.6 -3.3zM386.7 959.05h3.2l-1.6 -3.3zM390.9 959.05h3.2l-1.6 -3.3zM393.6 959.05h3.2l-1.6 -3.3zM396.3 959.05h3.2l-1.6 -3.3zM399.0 959.05h3.2l-1.6 -3.3zM401.7 959.05h3.2l-1.6 -3.3zM404.3 959.05h3.2l-1.6 -3.3zM407.0 959.05h3.2l-1.6 -3.3zM409.7 959.05h3.2l-1.6 -3.3zM412.4 959.05h3.2l-1.6 -3.3zM415.1 959.05h3.2l-1.6 -3.3zM420.1 959.05h3.2l-1.6 -3.3zM423.0 959.05h3.2l-1.6 -3.3zM425.9 959.05h3.2l-1.6 -3.3zM430.4 959.05h3.2l-1.6 -3.3zM434.2 959.05h3.2l-1.6 -3.3zM436.4 959.05h3.2l-1.6 -3.3zM438.7 959.05h3.2l-1.6 -3.3zM440.9 959.05h3.2l-1.6 -3.3zM444.2 959.05h3.2l-1.6 -3.3zM446.7 959.05h3.2l-1.6 -3.3zM449.2 959.05h3.2l-1.6 -3.3zM452.6 959.05h3.2l-1.6 -3.3zM455.1 959.05h3.2l-1.6 -3.3zM457.6 959.05h3.2l-1.6 -3.3zM460.1 959.05h3.2l-1.6 -3.3zM462.9 959.05h3.2l-1.6 -3.3zM465.6 959.05h3.2l-1.6 -3.3zM468.4 959.05h3.2l-1.6 -3.3zM472.6 959.05h3.2l-1.6 -3.3zM475.1 959.05h3.2l-1.6 -3.3zM479.2 959.05h3.2l-1.6 -3.3zM481.7 959.05h3.2l-1.6 -3.3zM488.4 959.05h3.2l-1.6 -3.3zM490.9 959.05h3.2l-1.6 -3.3zM493.4 959.05h3.2l-1.6 -3.3zM495.9 959.05h3.2l-1.6 -3.3zM498.4 959.05h3.2l-1.6 -3.3zM500.9 959.05h3.2l-1.6 -3.3zM503.4 959.05h3.2l-1.6 -3.3zM506.7 959.05h3.2l-1.6 -3.3zM508.8 959.05h3.2l-1.6 -3.3zM510.9 959.05h3.2l-1.6 -3.3zM516.7 959.05h3.2l-1.6 -3.3zM519.2 959.05h3.2l-1.6 -3.3zM523.4 959.05h3.2l-1.6 -3.3zM525.6 959.05h3.2l-1.6 -3.3zM527.9 959.05h3.2l-1.6 -3.3zM530.1 959.05h3.2l-1.6 -3.3zM532.6 959.05h3.2l-1.6 -3.3zM535.1 959.05h3.2l-1.6 -3.3zM537.6 959.05h3.2l-1.6 -3.3zM540.1 959.05h3.2l-1.6 -3.3zM544.2 959.05h3.2l-1.6 -3.3zM550.1 959.05h3.2l-1.6 -3.3zM552.6 959.05h3.2l-1.6 -3.3zM555.1 959.05h3.2l-1.6 -3.3zM557.8 959.05h3.2l-1.6 -3.3zM560.5 959.05h3.2l-1.6 -3.3zM563.2 959.05h3.2l-1.6 -3.3zM565.9 959.05h3.2l-1.6 -3.3zM568.6 959.05h3.2l-1.6 -3.3zM571.3 959.05h3.2l-1.6 -3.3zM574.0 959.05h3.2l-1.6 -3.3zM576.7 959.05h3.2l-1.6 -3.3zM583.4 959.05h3.2l-1.6 -3.3zM586.2 959.05h3.2l-1.6 -3.3zM588.9 959.05h3.2l-1.6 -3.3zM591.7 959.05h3.2l-1.6 -3.3zM594.2 959.05h3.2l-1.6 -3.3zM597.0 959.05h3.2l-1.6 -3.3zM599.8 959.05h3.2l-1.6 -3.3zM602.6 959.05h3.2l-1.6 -3.3zM609.2 959.05h3.2l-1.6 -3.3zM611.8 959.05h3.2l-1.6 -3.3zM614.4 959.05h3.2l-1.6 -3.3zM617.0 959.05h3.2l-1.6 -3.3zM619.6 959.05h3.2l-1.6 -3.3zM622.2 959.05h3.2l-1.6 -3.3zM624.8 959.05h3.2l-1.6 -3.3zM627.4 959.05h3.2l-1.6 -3.3zM630.0 959.05h3.2l-1.6 -3.3zM632.6 959.05h3.2l-1.6 -3.3zM635.9 959.05h3.2l-1.6 -3.3zM639.2 959.05h3.2l-1.6 -3.3zM641.8 959.05h3.2l-1.6 -3.3zM644.4 959.05h3.2l-1.6 -3.3zM647.0 959.05h3.2l-1.6 -3.3zM649.6 959.05h3.2l-1.6 -3.3zM652.2 959.05h3.2l-1.6 -3.3zM654.8 959.05h3.2l-1.6 -3.3zM657.4 959.05h3.2l-1.6 -3.3zM660.0 959.05h3.2l-1.6 -3.3zM662.6 959.05h3.2l-1.6 -3.3zM667.6 959.05h3.2l-1.6 -3.3zM670.4 959.05h3.2l-1.6 -3.3zM673.2 959.05h3.2l-1.6 -3.3zM676.1 959.05h3.2l-1.6 -3.3zM678.9 959.05h3.2l-1.6 -3.3zM681.7 959.05h3.2l-1.6 -3.3zM685.1 959.05h3.2l-1.6 -3.3zM687.6 959.05h3.2l-1.6 -3.3zM690.1 959.05h3.2l-1.6 -3.3zM693.9 959.05h3.2l-1.6 -3.3zM706.4 959.05h3.2l-1.6 -3.3zM721.4 959.05h3.2l-1.6 -3.3zM735.9 959.05h3.2l-1.6 -3.3zM746.7 959.05h3.2l-1.6 -3.3zM751.4 959.05h3.2l-1.6 -3.3zM757.6 959.05h3.2l-1.6 -3.3zM772.9 959.05h3.2l-1.6 -3.3zM776.7 959.05h3.2l-1.6 -3.3zM785.6 959.05h3.2l-1.6 -3.3zM790.9 959.05h3.2l-1.6 -3.3zM805.9 959.05h3.2l-1.6 -3.3zM811.7 959.05h3.2l-1.6 -3.3zM820.9 959.05h3.2l-1.6 -3.3zM826.7 959.05h3.2l-1.6 -3.3zM830.1 959.05h3.2l-1.6 -3.3zM843.7 959.05h3.2l-1.6 -3.3zM851.7 959.05h3.2l-1.6 -3.3zM885.9 959.05h3.2l-1.6 -3.3zM891.7 959.05h3.2l-1.6 -3.3zM894.2 959.05h3.2l-1.6 -3.3zM896.7 959.05h3.2l-1.6 -3.3zM899.2 959.05h3.2l-1.6 -3.3zM901.7 959.05h3.2l-1.6 -3.3zM904.2 959.05h3.2l-1.6 -3.3zM909.2 959.05h3.2l-1.6 -3.3zM912.0 959.05h3.2l-1.6 -3.3zM914.8 959.05h3.2l-1.6 -3.3zM917.6 959.05h3.2l-1.6 -3.3zM921.7 959.05h3.2l-1.6 -3.3zM926.7 959.05h3.2l-1.6 -3.3zM935.9 959.05h3.2l-1.6 -3.3zM938.7 959.05h3.2l-1.6 -3.3zM941.4 959.05h3.2l-1.6 -3.3zM944.2 959.05h3.2l-1.6 -3.3zM947.6 959.05h3.2l-1.6 -3.3zM949.8 959.05h3.2l-1.6 -3.3zM952.0 959.05h3.2l-1.6 -3.3zM954.2 959.05h3.2l-1.6 -3.3zM961.7 959.05h3.2l-1.6 -3.3zM964.6 959.05h3.2l-1.6 -3.3zM967.6 959.05h3.2l-1.6 -3.3zM971.7 959.05h3.2l-1.6 -3.3zM974.5 959.05h3.2l-1.6 -3.3zM977.3 959.05h3.2l-1.6 -3.3zM980.1 959.05h3.2l-1.6 -3.3zM987.1 959.05h3.2l-1.6 -3.3zM990.9 959.05h3.2l-1.6 -3.3zM998.4 959.05h3.2l-1.6 -3.3zM1001.2 959.05h3.2l-1.6 -3.3zM1003.9 959.05h3.2l-1.6 -3.3zM1006.7 959.05h3.2l-1.6 -3.3zM1010.1 959.05h3.2l-1.6 -3.3zM1012.6 959.05h3.2l-1.6 -3.3zM1015.1 959.05h3.2l-1.6 -3.3zM1017.6 959.05h3.2l-1.6 -3.3zM1020.9 959.05h3.2l-1.6 -3.3zM1025.1 959.05h3.2l-1.6 -3.3zM1028.0 959.05h3.2l-1.6 -3.3zM1030.9 959.05h3.2l-1.6 -3.3zM1035.1 959.05h3.2l-1.6 -3.3zM1037.9 959.05h3.2l-1.6 -3.3zM1040.6 959.05h3.2l-1.6 -3.3zM1043.4 959.05h3.2l-1.6 -3.3zM1047.6 959.05h3.2l-1.6 -3.3zM1050.5 959.05h3.2l-1.6 -3.3zM1053.4 959.05h3.2l-1.6 -3.3zM1056.7 959.05h3.2l-1.6 -3.3zM1061.7 959.05h3.2l-1.6 -3.3zM1064.2 959.05h3.2l-1.6 -3.3zM1066.7 959.05h3.2l-1.6 -3.3zM1069.2 959.05h3.2l-1.6 -3.3zM1073.4 959.05h3.2l-1.6 -3.3zM1075.6 959.05h3.2l-1.6 -3.3zM1077.9 959.05h3.2l-1.6 -3.3zM1080.1 959.05h3.2l-1.6 -3.3zM1087.6 959.05h3.2l-1.6 -3.3zM1090.9 959.05h3.2l-1.6 -3.3zM1093.7 959.05h3.2l-1.6 -3.3zM1099.2 959.05h3.2l-1.6 -3.3zM1101.9 959.05h3.2l-1.6 -3.3zM1104.5 959.05h3.2l-1.6 -3.3zM1107.2 959.05h3.2l-1.6 -3.3zM1109.8 959.05h3.2l-1.6 -3.3zM1112.5 959.05h3.2l-1.6 -3.3zM1115.1 959.05h3.2l-1.6 -3.3zM1118.4 959.05h3.2l-1.6 -3.3zM1120.9 959.05h3.2l-1.6 -3.3zM1123.4 959.05h3.2l-1.6 -3.3zM1125.9 959.05h3.2l-1.6 -3.3zM1128.4 959.05h3.2l-1.6 -3.3zM1130.9 959.05h3.2l-1.6 -3.3zM1133.4 959.05h3.2l-1.6 -3.3zM1135.9 959.05h3.2l-1.6 -3.3zM1139.2 959.05h3.2l-1.6 -3.3zM1142.6 959.05h3.2l-1.6 -3.3zM1145.1 959.05h3.2l-1.6 -3.3zM1148.4 959.05h3.2l-1.6 -3.3zM1150.9 959.05h3.2l-1.6 -3.3zM1153.4 959.05h3.2l-1.6 -3.3zM1156.7 959.05h3.2l-1.6 -3.3zM1159.4 959.05h3.2l-1.6 -3.3zM1162.1 959.05h3.2l-1.6 -3.3zM1164.8 959.05h3.2l-1.6 -3.3zM1167.6 959.05h3.2l-1.6 -3.3zM1170.3 959.05h3.2l-1.6 -3.3zM1173.0 959.05h3.2l-1.6 -3.3zM1175.7 959.05h3.2l-1.6 -3.3zM1178.4 959.05h3.2l-1.6 -3.3zM1183.4 959.05h3.2l-1.6 -3.3zM1185.9 959.05h3.2l-1.6 -3.3zM1188.4 959.05h3.2l-1.6 -3.3zM1193.4 959.05h3.2l-1.6 -3.3zM1196.7 959.05h3.2l-1.6 -3.3zM1200.9 959.05h3.2l-1.6 -3.3zM1203.4 959.05h3.2l-1.6 -3.3zM1205.9 959.05h3.2l-1.6 -3.3zM1208.4 959.05h3.2l-1.6 -3.3zM1210.9 959.05h3.2l-1.6 -3.3zM1213.4 959.05h3.2l-1.6 -3.3zM1219.2 959.05h3.2l-1.6 -3.3zM1221.5 959.05h3.2l-1.6 -3.3zM1223.9 959.05h3.2l-1.6 -3.3zM1226.2 959.05h3.2l-1.6 -3.3zM1228.6 959.05h3.2l-1.6 -3.3zM1230.9 959.05h3.2l-1.6 -3.3zM1234.2 959.05h3.2l-1.6 -3.3zM1237.2 959.05h3.2l-1.6 -3.3zM1240.1 959.05h3.2l-1.6 -3.3zM1244.2 959.05h3.2l-1.6 -3.3zM1246.4 959.05h3.2l-1.6 -3.3zM1248.7 959.05h3.2l-1.6 -3.3zM1250.9 959.05h3.2l-1.6 -3.3zM1261.7 959.05h3.2l-1.6 -3.3zM1277.6 959.05h3.2l-1.6 -3.3zM1287.9 959.05h3.2l-1.6 -3.3zM159.9 959.05h3.2l-1.6 -3.3zM161.9 959.05h3.2l-1.6 -3.3z" fill="none" stroke="#f00" stroke-width="1.15" stroke-linejoin="round"/>
<path d="M1257.6 991.8V996M1258.5 991.1V996M1259.4 990.2V996M1260.3 990.8V996M1261.2 989.6V996M1262.1 989.7V996M1263.0 989.8V996M1263.9 988.6V996M1264.8 989.0V996M1265.7 989.7V996M1266.6 989.5V996M1267.5 990.6V996M1268.4 990.9V996M1269.3 991.6V996M1270.2 992.1V996M1271.1 993.0V996M1273.8 991.1V996M1274.7 990.9V996M1275.6 992.2V996M1276.5 991.0V996M1277.4 992.3V996M1278.3 991.6V996M1279.2 992.3V996M1280.1 991.3V996M1281.0 992.3V996M1281.9 991.2V996M1282.8 991.5V996M1283.7 991.0V996M1284.6 990.5V996M1285.5 992.0V996M1286.4 990.7V996M1287.3 991.3V996M1288.2 991.8V996M1289.1 990.6V996M1290.0 991.0V996M1290.9 991.0V996M1291.8 991.8V996M1292.7 990.7V996M1293.6 991.8V996M1294.5 990.8V996M1295.4 991.3V996M1296.3 991.1V996" stroke="#f00" stroke-width="2.4" stroke-linecap="round" fill="none"/>
<path d="M162.6 1005.5V1009.9M163.5 1005.1V1009.9M164.4 1006.2V1009.9M165.3 1005.5V1009.9M166.2 1005.8V1009.9M167.1 1005.7V1009.9M168.0 1005.9V1009.9M168.9 1006.5V1009.9M169.8 1005.5V1009.9M170.7 1005.0V1009.9M171.6 1006.4V1009.9M172.5 1006.6V1009.9M173.4 1006.2V1009.9M174.3 1005.5V1009.9M175.2 1004.7V1009.9M176.1 1006.7V1009.9M177.0 1005.6V1009.9M177.9 1005.9V1009.9M178.8 1005.4V1009.9M179.7 1006.5V1009.9M180.6 1006.3V1009.9M181.5 1006.7V1009.9M182.4 1005.2V1009.9M183.3 1005.6V1009.9M184.2 1004.9V1009.9M185.1 1004.9V1009.9M186.0 1004.7V1009.9M186.9 1005.7V1009.9M187.8 1006.3V1009.9M188.7 1005.1V1009.9M189.6 1005.5V1009.9M190.5 1005.4V1009.9M191.4 1006.5V1009.9M192.3 1006.4V1009.9M193.2 1006.2V1009.9M194.1 1005.5V1009.9M195.0 1005.0V1009.9M195.9 1005.1V1009.9M196.8 1005.1V1009.9M197.7 1006.2V1009.9M198.6 1006.4V1009.9M199.5 1006.3V1009.9M200.4 1004.8V1009.9M201.3 1004.7V1009.9M202.2 1005.5V1009.9M203.1 1005.5V1009.9M204.0 1005.4V1009.9M204.9 1006.5V1009.9M205.8 1006.1V1009.9M206.7 1005.6V1009.9M207.6 1006.0V1009.9M208.5 1005.3V1009.9M209.4 1006.1V1009.9M210.3 1006.3V1009.9M211.2 1005.2V1009.9M212.1 1006.2V1009.9M213.0 1005.6V1009.9M213.9 1005.2V1009.9M214.8 1006.5V1009.9M215.7 1006.3V1009.9M216.6 1006.6V1009.9M217.5 1006.5V1009.9M218.4 1006.0V1009.9M219.3 1005.3V1009.9M220.2 1005.9V1009.9M221.1 1006.0V1009.9M222.0 1005.5V1009.9M222.9 1005.4V1009.9M223.8 1006.1V1009.9M224.7 1005.1V1009.9M225.6 1005.0V1009.9M226.5 1006.0V1009.9M227.4 1006.4V1009.9M228.3 1006.4V1009.9M229.2 1005.5V1009.9M230.1 1004.4V1009.9M231.0 1006.0V1009.9M231.9 1005.0V1009.9M232.8 1005.6V1009.9M233.7 1006.2V1009.9M234.6 1005.6V1009.9M235.5 1005.9V1009.9M236.4 1006.2V1009.9M237.3 1004.1V1009.9M238.2 1005.3V1009.9M239.1 1006.6V1009.9M240.0 1005.4V1009.9M240.9 1006.6V1009.9M241.8 1005.3V1009.9M242.7 1006.7V1009.9M243.6 1005.5V1009.9M244.5 1005.6V1009.9M245.4 1005.0V1009.9M246.3 1006.4V1009.9M247.2 1005.5V1009.9M248.1 1005.1V1009.9M249.0 1005.2V1009.9M249.9 1006.5V1009.9M250.8 1006.4V1009.9M251.7 1005.7V1009.9M252.6 1006.5V1009.9M253.5 1005.0V1009.9M254.4 1005.2V1009.9M255.3 1004.7V1009.9M256.6 1004.6V1009.9M257.5 1005.1V1009.9M258.4 1004.7V1009.9M259.3 1004.8V1009.9M260.2 1003.9V1009.9M261.1 1002.3V1009.9M262.0 1004.1V1009.9M262.6 1002.0V1009.9M263.5 1003.1V1009.9M264.4 1003.3V1009.9M265.3 1002.0V1009.9M266.2 1002.4V1009.9M267.1 1002.1V1009.9M268.0 1003.1V1009.9M268.9 1003.3V1009.9M269.8 1003.1V1009.9M270.7 1003.4V1009.9M271.6 1001.9V1009.9M272.5 1003.0V1009.9M273.4 1003.4V1009.9M274.3 1002.9V1009.9M275.2 1002.9V1009.9M276.1 1001.8V1009.9M277.0 1003.0V1009.9M277.9 1002.1V1009.9M278.8 1002.7V1009.9M279.7 1001.7V1009.9M280.6 1003.1V1009.9M281.5 1003.3V1009.9M282.4 1002.6V1009.9M283.3 1003.4V1009.9M284.2 1003.3V1009.9M285.1 1003.4V1009.9M286.0 1002.4V1009.9M286.9 1001.8V1009.9M287.8 1002.3V1009.9M288.7 1003.6V1009.9M289.6 1003.3V1009.9M290.5 1001.9V1009.9M291.4 1001.8V1009.9M292.3 1002.9V1009.9M293.2 1002.4V1009.9M294.1 1001.2V1009.9M295.0 1002.9V1009.9M295.9 1000.8V1009.9M296.8 1002.3V1009.9M297.7 1002.7V1009.9M298.6 1002.2V1009.9M299.5 1003.7V1009.9M300.4 1003.0V1009.9M301.3 1002.8V1009.9M302.2 1001.7V1009.9M303.1 1003.5V1009.9M304.0 1002.3V1009.9M304.9 1002.2V1009.9M305.8 1000.7V1009.9M306.7 1002.7V1009.9M307.6 1003.7V1009.9M308.5 1002.9V1009.9M309.4 1002.0V1009.9M310.3 1001.9V1009.9M311.2 1002.2V1009.9M312.1 1002.1V1009.9M313.0 1002.6V1009.9M313.9 1003.3V1009.9M314.8 1003.2V1009.9M315.7 1003.4V1009.9M316.6 1003.0V1009.9M317.5 1002.7V1009.9M318.4 1002.8V1009.9M319.3 1002.7V1009.9M320.2 1002.5V1009.9M321.1 1001.8V1009.9M322.0 1003.2V1009.9M322.9 1002.1V1009.9M323.8 1000.9V1009.9M324.7 1000.8V1009.9M325.6 1002.2V1009.9M326.5 1002.2V1009.9M327.4 1002.3V1009.9M328.3 1001.9V1009.9M329.2 1002.0V1009.9M330.1 1002.2V1009.9M331.0 1002.4V1009.9M331.9 1002.9V1009.9M332.8 1002.5V1009.9M333.7 1002.3V1009.9M334.6 1002.8V1009.9M335.5 1001.7V1009.9M336.4 1002.1V1009.9M337.3 1003.2V1009.9M338.2 1001.7V1009.9M339.1 1002.6V1009.9M340.0 1003.6V1009.9M340.9 1002.5V1009.9M341.8 1003.2V1009.9M342.7 1002.2V1009.9M343.6 1003.3V1009.9M344.5 1002.2V1009.9M345.4 1002.1V1009.9M346.3 1001.9V1009.9M347.2 1002.9V1009.9M348.1 1002.6V1009.9M349.0 1001.7V1009.9M349.9 1001.9V1009.9M350.8 1003.2V1009.9M351.7 1003.2V1009.9M352.6 1003.1V1009.9M353.5 1003.6V1009.9M354.4 1003.7V1009.9M355.3 1002.8V1009.9M356.2 1001.9V1009.9M357.1 1003.3V1009.9M358.0 1003.6V1009.9M358.9 1002.7V1009.9M359.8 1000.1V1009.9M360.7 1003.0V1009.9M361.6 1002.1V1009.9M362.5 1003.0V1009.9M363.4 1001.7V1009.9M364.3 1002.1V1009.9M365.2 1002.2V1009.9M366.1 1003.6V1009.9M367.0 1003.4V1009.9M367.9 1003.1V1009.9M368.8 1003.1V1009.9M369.7 1003.4V1009.9M370.6 1002.5V1009.9M371.5 1002.2V1009.9M372.4 1002.2V1009.9M373.3 1002.0V1009.9M374.2 1001.9V1009.9M375.1 1003.4V1009.9M376.0 1002.5V1009.9M376.9 1002.9V1009.9M377.8 1003.7V1009.9M378.7 1002.3V1009.9M379.6 1002.7V1009.9M380.5 1002.6V1009.9M381.4 1002.4V1009.9M382.3 1002.7V1009.9M383.2 1002.9V1009.9M384.1 1002.8V1009.9M385.0 1002.8V1009.9M385.9 1003.3V1009.9M386.8 1002.3V1009.9M387.7 1002.6V1009.9M388.6 1002.1V1009.9M389.5 1003.3V1009.9M390.4 1001.9V1009.9M391.3 1003.1V1009.9M392.2 1002.8V1009.9M393.1 1001.9V1009.9M394.0 1001.8V1009.9M394.9 1002.3V1009.9M395.8 1001.8V1009.9M396.7 1002.2V1009.9M397.6 1002.4V1009.9M398.5 1001.8V1009.9M399.4 1003.5V1009.9M400.3 1003.5V1009.9M401.2 1003.3V1009.9M402.1 1002.9V1009.9M403.0 1003.6V1009.9M403.9 1002.8V1009.9M404.8 1003.4V1009.9M405.7 1001.7V1009.9M406.6 1002.4V1009.9M407.5 1001.8V1009.9M408.4 1003.6V1009.9M409.3 1003.4V1009.9M410.2 1002.4V1009.9M411.1 1003.1V1009.9M412.0 1002.3V1009.9M412.9 1002.4V1009.9M413.8 1002.0V1009.9M414.7 1001.9V1009.9M415.6 1003.4V1009.9M416.5 1002.4V1009.9M417.4 1003.5V1009.9M418.3 1003.5V1009.9M419.2 1002.4V1009.9M420.1 1003.1V1009.9M421.0 1002.4V1009.9M421.9 1002.2V1009.9M422.8 1003.0V1009.9M423.7 1003.6V1009.9M424.6 1002.0V1009.9M425.5 1003.7V1009.9M426.4 1003.6V1009.9M427.3 1003.2V1009.9M428.2 1002.8V1009.9M429.1 1002.0V1009.9M430.0 1002.8V1009.9M430.9 1002.6V1009.9M431.8 1003.4V1009.9M432.7 1003.5V1009.9M433.6 1003.0V1009.9M434.5 1002.3V1009.9M435.4 1003.7V1009.9M436.3 1003.3V1009.9M437.2 1002.4V1009.9M438.1 1003.6V1009.9M439.0 1002.4V1009.9M439.9 1003.7V1009.9M440.8 1003.4V1009.9M441.7 1003.6V1009.9M442.6 1003.0V1009.9M443.5 1002.7V1009.9M444.4 1001.0V1009.9M445.3 1003.7V1009.9M446.2 1003.5V1009.9M447.1 1003.5V1009.9M448.0 1002.3V1009.9M448.9 1003.2V1009.9M449.8 1001.8V1009.9M450.7 1001.8V1009.9M451.6 1002.5V1009.9M452.5 1003.2V1009.9M453.4 1002.3V1009.9M454.3 1003.5V1009.9M455.2 1001.8V1009.9M456.1 1003.3V1009.9M457.0 1002.1V1009.9M457.9 1003.1V1009.9M458.8 1002.2V1009.9M459.7 1002.5V1009.9M460.6 1003.7V1009.9M461.5 1001.2V1009.9M462.4 1003.7V1009.9M463.3 1002.2V1009.9M464.2 1003.5V1009.9M465.1 1001.7V1009.9M466.0 1002.1V1009.9M466.9 1002.5V1009.9M467.8 1003.5V1009.9M468.7 1002.0V1009.9M469.6 1002.6V1009.9M470.5 1003.4V1009.9M471.4 1003.2V1009.9M472.3 1002.8V1009.9M473.2 1001.8V1009.9M474.1 1003.0V1009.9M475.0 1003.6V1009.9M475.6 1004.2V1009.9M476.5 1006.0V1009.9M477.4 1005.1V1009.9M478.3 1004.4V1009.9M479.2 1004.4V1009.9M480.1 1004.5V1009.9M481.0 1004.3V1009.9M481.9 1004.8V1009.9M482.8 1004.7V1009.9M483.7 1005.4V1009.9M484.6 1004.9V1009.9M485.5 1006.0V1009.9M486.4 1005.0V1009.9M487.3 1005.3V1009.9M488.2 1004.9V1009.9M489.1 1004.9V1009.9M490.0 1005.9V1009.9M490.9 1004.3V1009.9M491.8 1005.4V1009.9M492.7 1005.0V1009.9M493.6 1004.4V1009.9M494.5 1005.0V1009.9M495.4 1005.1V1009.9M496.3 1005.6V1009.9M497.2 1005.9V1009.9M498.1 1004.9V1009.9M499.0 1005.0V1009.9M499.9 1005.8V1009.9M500.8 1004.1V1009.9M501.7 1005.8V1009.9M502.6 1005.8V1009.9M503.5 1005.1V1009.9M504.4 1005.7V1009.9M505.3 1005.2V1009.9M506.2 1005.9V1009.9M507.1 1004.5V1009.9M508.0 1006.0V1009.9M508.9 1004.4V1009.9M509.8 1005.2V1009.9M510.7 1003.4V1009.9M511.6 1005.0V1009.9M512.5 1004.7V1009.9M513.4 1002.9V1009.9M514.3 1004.3V1009.9M515.2 1005.6V1009.9M516.1 1004.4V1009.9M517.0 1005.8V1009.9M517.9 1005.6V1009.9M518.8 1004.4V1009.9M519.7 1004.7V1009.9M520.6 1005.3V1009.9M521.5 1002.3V1009.9M522.4 1004.2V1009.9M523.3 1005.9V1009.9M524.2 1005.4V1009.9M525.1 1005.4V1009.9M526.0 1004.0V1009.9M526.9 1004.7V1009.9M527.8 1004.5V1009.9M528.7 1005.5V1009.9M529.6 1005.8V1009.9M530.5 1005.2V1009.9M531.4 1004.6V1009.9M532.3 1005.1V1009.9M533.2 1005.0V1009.9M534.1 1005.4V1009.9M535.0 1004.8V1009.9M535.9 1004.4V1009.9M536.8 1005.7V1009.9M537.7 1005.6V1009.9M538.6 1004.3V1009.9M539.5 1004.4V1009.9M540.4 1005.5V1009.9M541.3 1005.8V1009.9M542.2 1004.8V1009.9M543.1 1004.1V1009.9M544.0 1004.9V1009.9M544.9 1004.6V1009.9M545.8 1004.5V1009.9M546.7 1004.5V1009.9M547.6 1004.9V1009.9M548.5 1005.2V1009.9M549.4 1004.4V1009.9M550.3 1005.4V1009.9M551.2 1004.8V1009.9M552.1 1005.2V1009.9M553.0 1005.6V1009.9M553.9 1004.9V1009.9M554.8 1004.6V1009.9M555.7 1005.8V1009.9M556.6 1004.5V1009.9M557.5 1005.0V1009.9M558.4 1005.7V1009.9M559.3 1005.6V1009.9M560.2 1005.1V1009.9M561.1 1004.3V1009.9M562.0 1004.5V1009.9M562.9 1004.0V1009.9M563.8 1004.0V1009.9M564.7 1004.1V1009.9M565.6 1005.4V1009.9M566.5 1005.6V1009.9M567.4 1005.6V1009.9M568.3 1003.7V1009.9M569.2 1004.4V1009.9M570.1 1005.8V1009.9M571.0 1005.4V1009.9M571.9 1003.4V1009.9M572.8 1004.4V1009.9M573.7 1004.6V1009.9M574.6 1005.2V1009.9M575.5 1005.7V1009.9M576.4 1002.8V1009.9M577.3 1004.2V1009.9M578.2 1004.4V1009.9M579.1 1004.9V1009.9M580.0 1005.8V1009.9M580.9 1004.2V1009.9M581.8 1005.7V1009.9M582.7 1005.1V1009.9M583.6 1004.9V1009.9M584.5 1005.2V1009.9M585.4 1005.9V1009.9M586.3 1004.3V1009.9M587.2 1005.9V1009.9M588.1 1005.9V1009.9M589.0 1005.5V1009.9M589.9 1005.2V1009.9M590.8 1004.3V1009.9M591.7 1005.3V1009.9M592.6 1004.5V1009.9M593.5 1004.3V1009.9M594.4 1005.5V1009.9M595.3 1004.0V1009.9M596.2 1005.3V1009.9M597.1 1005.2V1009.9M598.0 1004.4V1009.9M598.9 1004.5V1009.9M599.8 1004.3V1009.9M600.7 1004.7V1009.9M601.6 1005.9V1009.9M602.5 1005.3V1009.9M603.4 1004.6V1009.9M604.3 1005.0V1009.9M605.2 1005.6V1009.9M606.1 1004.3V1009.9M607.0 1004.5V1009.9M607.9 1005.8V1009.9M608.8 1005.2V1009.9M609.7 1005.0V1009.9M610.6 1003.3V1009.9M611.5 1005.5V1009.9M612.4 1004.5V1009.9M613.3 1004.8V1009.9M614.2 1005.1V1009.9M615.1 1004.7V1009.9M616.0 1004.0V1009.9M616.9 1005.0V1009.9M617.8 1004.9V1009.9M618.7 1005.9V1009.9M619.6 1005.2V1009.9M620.5 1004.0V1009.9M621.4 1005.2V1009.9M622.3 1004.7V1009.9M623.2 1004.2V1009.9M624.1 1005.3V1009.9M625.0 1004.3V1009.9M625.9 1004.6V1009.9M626.8 1005.6V1009.9M627.7 1005.6V1009.9M628.6 1004.8V1009.9M629.5 1005.7V1009.9M630.4 1005.4V1009.9M631.3 1005.2V1009.9M632.2 1004.4V1009.9M633.1 1005.2V1009.9M634.0 1004.9V1009.9M634.9 1004.2V1009.9M635.8 1005.7V1009.9M636.7 1004.3V1009.9M637.6 1005.9V1009.9M638.5 1004.5V1009.9M639.4 1004.4V1009.9M640.3 1005.5V1009.9M641.2 1005.8V1009.9M642.1 1005.5V1009.9M643.0 1005.5V1009.9M643.9 1004.9V1009.9M644.8 1004.7V1009.9M645.7 1004.2V1009.9M646.6 1004.4V1009.9M647.5 1005.1V1009.9M648.4 1005.8V1009.9M649.3 1005.3V1009.9M650.2 1004.9V1009.9M651.1 1003.6V1009.9M652.0 1004.5V1009.9M652.9 1004.3V1009.9M653.8 1004.6V1009.9M654.7 1005.8V1009.9M655.6 1005.4V1009.9M656.5 1005.1V1009.9M657.4 1005.5V1009.9M658.3 1004.8V1009.9M659.2 1004.2V1009.9M660.1 1004.6V1009.9M661.0 1004.2V1009.9M661.9 1004.9V1009.9M662.8 1004.8V1009.9M663.7 1005.5V1009.9M664.6 1004.1V1009.9M665.5 1005.9V1009.9M666.4 1005.0V1009.9M667.3 1004.6V1009.9M668.2 1004.9V1009.9M669.1 1005.5V1009.9M670.0 1004.3V1009.9M670.9 1005.3V1009.9M671.8 1004.4V1009.9M672.7 1005.0V1009.9M673.6 1003.6V1009.9M674.5 1004.2V1009.9M675.4 1004.4V1009.9M676.3 1005.0V1009.9M677.2 1005.0V1009.9M678.1 1005.4V1009.9M679.0 1006.0V1009.9M679.9 1004.1V1009.9M680.8 1004.8V1009.9M681.7 1004.5V1009.9M682.6 1004.3V1009.9M683.5 1004.5V1009.9M684.4 1005.6V1009.9M685.3 1005.1V1009.9M686.2 1004.2V1009.9M687.1 1005.3V1009.9M688.0 1004.1V1009.9M688.9 1005.3V1009.9M689.8 1004.0V1009.9M690.7 1004.3V1009.9M691.6 1004.7V1009.9M692.5 1005.7V1009.9M693.4 1005.4V1009.9M694.3 1005.7V1009.9M695.2 1004.1V1009.9M696.1 1004.3V1009.9M697.0 1005.5V1009.9M697.9 1005.1V1009.9M698.8 1004.7V1009.9M699.7 1005.8V1009.9M700.6 1004.2V1009.9M701.5 1004.6V1009.9M702.4 1005.2V1009.9M703.3 1004.2V1009.9M704.2 1005.8V1009.9M705.1 1004.3V1009.9M706.0 1005.9V1009.9M706.9 1004.7V1009.9M707.8 1005.8V1009.9M708.7 1004.4V1009.9M709.6 1005.2V1009.9M710.5 1004.4V1009.9M711.4 1005.1V1009.9M712.3 1006.0V1009.9M713.2 1005.3V1009.9M714.1 1002.0V1009.9M715.0 1004.7V1009.9M715.9 1004.4V1009.9M716.8 1005.5V1009.9M717.7 1004.9V1009.9M718.6 1005.2V1009.9M719.5 1005.6V1009.9M720.4 1004.0V1009.9M721.3 1004.7V1009.9M722.2 1004.5V1009.9M723.1 1004.2V1009.9M724.0 1004.1V1009.9M724.9 1005.9V1009.9M725.8 1005.7V1009.9M726.7 1005.4V1009.9M727.6 1004.4V1009.9M728.5 1004.6V1009.9M729.4 1004.9V1009.9M730.3 1004.7V1009.9M731.2 1005.6V1009.9M732.1 1005.7V1009.9M733.0 1005.3V1009.9M733.9 1004.2V1009.9M734.8 1004.0V1009.9M735.7 1005.2V1009.9M736.6 1005.8V1009.9M737.5 1004.4V1009.9M738.4 1005.9V1009.9M739.3 1005.4V1009.9M740.2 1004.9V1009.9M741.1 1004.3V1009.9M742.0 1004.9V1009.9M742.9 1005.5V1009.9M743.8 1005.0V1009.9M744.7 1005.2V1009.9M745.6 1005.5V1009.9M746.5 1005.1V1009.9M747.4 1005.2V1009.9M748.3 1004.8V1009.9M749.2 1004.5V1009.9M750.1 1004.6V1009.9M751.0 1004.4V1009.9M751.9 1004.2V1009.9M752.8 1005.9V1009.9M753.7 1004.4V1009.9M754.6 1005.7V1009.9M755.5 1004.4V1009.9M756.4 1004.9V1009.9M757.3 1004.1V1009.9M758.2 1005.2V1009.9M759.1 1004.3V1009.9M760.0 1005.0V1009.9M760.9 1004.6V1009.9M761.8 1005.4V1009.9M762.7 1005.6V1009.9M763.6 1004.2V1009.9M764.5 1005.8V1009.9M765.4 1003.6V1009.9M766.3 1005.7V1009.9M767.2 1005.4V1009.9M768.1 1004.6V1009.9M769.0 1004.2V1009.9M769.9 1004.2V1009.9M770.8 1004.7V1009.9M771.7 1005.8V1009.9M772.6 1005.3V1009.9M773.5 1004.8V1009.9M774.4 1004.2V1009.9M775.3 1004.2V1009.9M776.2 1005.0V1009.9M777.1 1004.2V1009.9M778.0 1004.4V1009.9M778.9 1004.9V1009.9M779.8 1004.4V1009.9M780.7 1004.6V1009.9M781.6 1005.9V1009.9M782.5 1005.2V1009.9M783.4 1005.7V1009.9M784.3 1006.0V1009.9M785.2 1005.8V1009.9M786.1 1005.8V1009.9M787.0 1004.2V1009.9M787.9 1003.7V1009.9M788.8 1004.0V1009.9M789.7 1005.7V1009.9M790.6 1005.3V1009.9M791.5 1005.3V1009.9M792.4 1004.2V1009.9M793.3 1005.7V1009.9M794.2 1004.3V1009.9M795.1 1004.9V1009.9M796.0 1004.8V1009.9M796.9 1004.4V1009.9M797.8 1005.3V1009.9M798.7 1005.5V1009.9M799.6 1004.2V1009.9M800.5 1004.0V1009.9M801.4 1005.3V1009.9M802.3 1005.2V1009.9M803.2 1004.9V1009.9M804.1 1005.1V1009.9M805.0 1004.2V1009.9M805.9 1005.6V1009.9M806.8 1005.8V1009.9M807.7 1005.7V1009.9M808.6 1006.0V1009.9M809.5 1004.7V1009.9M810.4 1004.5V1009.9M811.3 1005.6V1009.9M812.2 1005.6V1009.9M813.1 1005.1V1009.9M814.0 1005.1V1009.9M814.9 1004.3V1009.9M815.8 1004.7V1009.9M816.7 1005.5V1009.9M817.6 1004.3V1009.9M818.5 1005.4V1009.9M819.4 1005.4V1009.9M820.3 1004.6V1009.9M821.2 1003.3V1009.9M822.1 1004.8V1009.9M823.0 1004.1V1009.9M823.9 1005.8V1009.9M824.8 1004.8V1009.9M825.7 1004.3V1009.9M826.6 1004.8V1009.9M827.5 1004.2V1009.9M828.4 1005.7V1009.9M829.3 1004.5V1009.9M830.2 1004.5V1009.9M831.1 1005.2V1009.9M832.0 1005.8V1009.9M832.9 1005.0V1009.9M833.8 1004.6V1009.9M834.7 1004.1V1009.9M835.6 1004.1V1009.9M836.5 1004.6V1009.9M837.4 1004.4V1009.9M838.3 1004.9V1009.9M839.2 1005.3V1009.9M840.1 1004.2V1009.9M841.0 1005.9V1009.9M841.9 1004.5V1009.9M842.8 1005.0V1009.9M843.7 1004.5V1009.9M844.6 1005.8V1009.9M845.5 1005.6V1009.9M846.4 1005.0V1009.9M847.3 1005.8V1009.9M848.2 1004.2V1009.9M849.1 1004.5V1009.9M850.0 1004.0V1009.9M850.9 1005.7V1009.9M851.8 1004.5V1009.9M852.7 1004.9V1009.9M853.6 1004.9V1009.9M854.5 1005.4V1009.9M855.4 1004.9V1009.9M856.3 1005.7V1009.9M857.2 1004.7V1009.9M858.1 1004.2V1009.9M859.0 1004.6V1009.9M859.9 1004.9V1009.9M860.8 1005.4V1009.9M861.7 1004.9V1009.9M862.6 1004.6V1009.9M863.5 1004.3V1009.9M864.4 1005.3V1009.9M865.3 1005.4V1009.9M866.2 1005.5V1009.9M867.1 1005.9V1009.9M868.0 1004.2V1009.9M868.9 1002.9V1009.9M869.8 1005.8V1009.9M870.7 1004.8V1009.9M871.6 1005.7V1009.9M872.5 1005.4V1009.9M873.4 1004.6V1009.9M874.3 1005.6V1009.9M875.2 1004.9V1009.9M876.1 1005.5V1009.9M877.0 1005.5V1009.9M877.9 1002.8V1009.9M878.8 1004.8V1009.9M879.7 1004.6V1009.9M880.6 1003.2V1009.9M881.5 1004.4V1009.9M882.4 1004.0V1009.9M883.3 1005.8V1009.9M884.2 1004.8V1009.9M885.1 1004.4V1009.9M886.0 1004.1V1009.9M886.9 1005.8V1009.9M887.8 1005.7V1009.9M888.7 1004.7V1009.9M889.6 1005.4V1009.9M890.5 1005.8V1009.9M891.4 1004.6V1009.9M892.3 1004.5V1009.9M893.6 1005.3V1009.9M894.5 1004.8V1009.9M895.4 1006.5V1009.9M896.3 1005.2V1009.9M897.2 1005.6V1009.9M898.1 1005.9V1009.9M899.0 1005.1V1009.9M899.9 1006.4V1009.9M900.8 1005.2V1009.9M901.7 1005.0V1009.9M902.6 1005.7V1009.9M903.5 1005.9V1009.9M904.4 1006.0V1009.9M905.3 1004.8V1009.9M906.2 1005.3V1009.9M907.1 1005.0V1009.9M908.0 1005.1V1009.9M908.9 1006.3V1009.9M909.8 1005.2V1009.9M910.7 1004.4V1009.9M911.6 1006.3V1009.9M912.5 1005.8V1009.9M913.4 1005.4V1009.9M914.3 1006.0V1009.9M915.2 1004.8V1009.9M916.1 1005.3V1009.9M917.0 1003.9V1009.9M917.9 1006.3V1009.9M918.8 1006.3V1009.9M919.7 1005.4V1009.9M920.6 1006.5V1009.9M921.5 1005.2V1009.9M922.4 1006.1V1009.9M923.3 1006.6V1009.9M924.2 1005.6V1009.9M925.1 1004.8V1009.9M926.0 1004.9V1009.9M926.9 1005.8V1009.9M927.8 1006.2V1009.9M928.7 1005.6V1009.9M929.6 1002.7V1009.9M930.5 1004.9V1009.9M931.4 1005.1V1009.9M932.3 1006.0V1009.9M933.2 1005.3V1009.9M934.1 1004.9V1009.9M935.0 1006.0V1009.9M935.9 1006.1V1009.9M936.8 1006.6V1009.9M937.7 1004.9V1009.9M938.6 1006.4V1009.9M939.5 1005.7V1009.9M940.4 1005.7V1009.9M941.3 1006.7V1009.9M942.2 1006.1V1009.9M943.1 1005.1V1009.9M944.0 1005.2V1009.9M944.9 1005.6V1009.9M945.8 1005.5V1009.9M946.7 1004.7V1009.9M947.6 1005.2V1009.9M948.5 1006.1V1009.9M949.4 1005.2V1009.9M950.3 1006.5V1009.9M951.2 1006.6V1009.9M952.1 1006.1V1009.9M953.0 1005.1V1009.9M953.9 1006.4V1009.9M954.8 1005.8V1009.9M955.7 1005.9V1009.9M956.6 1005.6V1009.9M957.5 1005.0V1009.9M958.4 1004.9V1009.9M959.3 1005.9V1009.9M960.2 1005.5V1009.9M961.1 1005.8V1009.9M962.0 1005.8V1009.9M962.9 1004.9V1009.9M963.8 1005.2V1009.9M964.7 1006.2V1009.9M965.6 1005.2V1009.9M966.5 1004.7V1009.9M967.4 1005.1V1009.9M968.3 1005.2V1009.9M969.2 1006.5V1009.9M970.1 1005.4V1009.9M971.0 1006.6V1009.9M971.9 1005.1V1009.9M972.8 1005.5V1009.9M973.7 1005.5V1009.9M974.6 1004.7V1009.9M975.5 1004.8V1009.9M976.4 1004.7V1009.9M977.3 1005.7V1009.9M978.2 1006.5V1009.9M979.1 1005.1V1009.9M980.0 1005.5V1009.9M980.9 1005.1V1009.9M981.8 1005.7V1009.9M982.7 1005.7V1009.9M983.6 1006.6V1009.9M984.5 1006.4V1009.9M985.4 1006.3V1009.9M986.3 1005.6V1009.9M987.2 1005.1V1009.9M988.1 1006.2V1009.9M989.0 1004.9V1009.9M989.9 1005.2V1009.9M990.8 1006.6V1009.9M991.7 1006.1V1009.9M992.6 1005.2V1009.9M993.5 1005.8V1009.9M994.4 1005.3V1009.9M995.3 1005.2V1009.9M996.2 1004.9V1009.9M997.1 1006.0V1009.9M998.0 1006.3V1009.9M998.9 1005.6V1009.9M999.8 1005.8V1009.9M1000.7 1005.4V1009.9M1001.6 1004.9V1009.9M1002.5 1004.9V1009.9M1003.4 1005.0V1009.9M1004.3 1005.3V1009.9M1005.2 1004.8V1009.9M1006.1 1005.4V1009.9M1007.0 1006.0V1009.9M1007.9 1005.0V1009.9M1008.8 1006.3V1009.9M1009.7 1006.2V1009.9M1010.6 1006.0V1009.9M1011.5 1006.3V1009.9M1012.4 1005.2V1009.9M1013.3 1005.7V1009.9M1014.2 1005.8V1009.9M1015.1 1004.6V1009.9M1016.0 1005.0V1009.9M1016.9 1006.4V1009.9M1017.8 1006.4V1009.9M1018.7 1005.1V1009.9M1019.6 1005.6V1009.9M1020.5 1004.8V1009.9M1021.4 1005.6V1009.9M1022.3 1005.8V1009.9M1023.2 1005.7V1009.9M1024.1 1006.6V1009.9M1025.0 1005.2V1009.9M1025.9 1005.6V1009.9M1026.8 1004.8V1009.9M1027.7 1005.3V1009.9M1028.6 1006.4V1009.9M1029.5 1005.6V1009.9M1030.4 1005.8V1009.9M1031.3 1006.1V1009.9M1032.2 1006.1V1009.9M1033.1 1006.6V1009.9M1034.0 1005.8V1009.9M1034.9 1005.4V1009.9M1035.8 1005.7V1009.9M1036.7 1002.8V1009.9M1037.6 1006.3V1009.9M1038.5 1005.9V1009.9M1039.4 1005.4V1009.9M1040.3 1005.8V1009.9M1041.2 1006.7V1009.9M1042.1 1005.1V1009.9M1043.0 1004.8V1009.9M1043.9 1005.1V1009.9M1044.8 1006.0V1009.9M1045.7 1005.1V1009.9M1046.6 1005.5V1009.9M1047.5 1004.9V1009.9M1048.4 1006.1V1009.9M1049.3 1005.2V1009.9M1050.2 1006.3V1009.9M1051.1 1006.1V1009.9M1052.0 1006.3V1009.9M1052.9 1005.4V1009.9M1053.8 1005.7V1009.9M1054.7 1005.4V1009.9M1055.6 1006.5V1009.9M1056.5 1005.0V1009.9M1057.4 1005.0V1009.9M1058.3 1005.0V1009.9M1059.2 1006.7V1009.9M1060.1 1006.2V1009.9M1061.0 1006.1V1009.9M1061.9 1006.5V1009.9M1062.8 1004.8V1009.9M1063.7 1005.1V1009.9M1064.6 1004.8V1009.9M1065.5 1005.6V1009.9M1066.4 1003.3V1009.9M1067.3 1005.8V1009.9M1068.2 1004.7V1009.9M1069.1 1005.4V1009.9M1070.0 1004.7V1009.9M1070.9 1004.8V1009.9M1071.8 1005.0V1009.9M1072.7 1003.5V1009.9M1073.6 1006.0V1009.9M1074.5 1006.6V1009.9M1075.4 1006.5V1009.9M1076.3 1005.3V1009.9M1077.2 1005.1V1009.9M1078.1 1006.5V1009.9M1079.0 1005.6V1009.9M1079.9 1006.0V1009.9M1080.8 1004.8V1009.9M1081.7 1005.0V1009.9M1082.6 1005.8V1009.9M1083.5 1005.2V1009.9M1084.4 1006.4V1009.9M1085.3 1005.8V1009.9M1086.2 1004.9V1009.9M1087.1 1005.2V1009.9M1088.0 1006.0V1009.9M1088.9 1006.0V1009.9M1089.8 1004.8V1009.9M1090.7 1005.9V1009.9M1091.6 1005.6V1009.9M1092.5 1006.7V1009.9M1093.4 1005.3V1009.9M1094.3 1004.7V1009.9M1095.2 1005.7V1009.9M1096.1 1006.2V1009.9M1097.0 1005.6V1009.9M1097.9 1005.3V1009.9M1098.8 1005.1V1009.9M1099.7 1004.8V1009.9M1100.6 1006.0V1009.9M1101.5 1006.2V1009.9M1102.4 1005.7V1009.9M1103.3 1006.5V1009.9M1104.2 1005.6V1009.9M1105.1 1005.1V1009.9M1106.0 1005.6V1009.9M1106.9 1005.1V1009.9M1107.8 1005.6V1009.9M1108.7 1005.2V1009.9M1109.6 1002.2V1009.9M1110.5 1001.9V1009.9M1111.4 1001.0V1009.9M1112.3 1002.9V1009.9M1113.2 1002.1V1009.9M1114.1 1002.3V1009.9M1115.0 1002.9V1009.9M1115.9 1002.8V1009.9M1116.8 1002.1V1009.9M1117.7 1002.4V1009.9M1118.6 1001.2V1009.9M1119.5 1002.7V1009.9M1120.4 1002.8V1009.9M1121.3 1002.4V1009.9M1122.2 1001.7V1009.9M1123.1 1002.0V1009.9M1124.0 1002.7V1009.9M1124.9 1002.7V1009.9M1125.8 1001.1V1009.9M1126.7 1002.4V1009.9M1127.6 1001.3V1009.9M1128.5 1002.6V1009.9M1129.4 1002.1V1009.9M1130.3 1001.1V1009.9M1131.2 1001.8V1009.9M1132.1 1001.1V1009.9M1133.0 1001.9V1009.9M1133.9 1002.3V1009.9M1134.8 1003.0V1009.9M1135.7 1002.9V1009.9M1136.6 1001.3V1009.9M1137.5 1002.5V1009.9M1138.4 1001.2V1009.9M1139.3 1003.0V1009.9M1140.2 1001.0V1009.9M1141.1 1002.0V1009.9M1142.0 1002.7V1009.9M1142.9 1001.5V1009.9M1143.8 1002.6V1009.9M1144.7 1001.3V1009.9M1145.6 1002.6V1009.9M1146.5 1002.4V1009.9M1147.4 1001.6V1009.9M1148.3 1001.9V1009.9M1149.2 1001.7V1009.9M1150.1 1002.5V1009.9M1151.0 1001.9V1009.9M1151.9 1003.0V1009.9M1152.8 1001.1V1009.9M1153.7 1002.4V1009.9M1154.6 1000.0V1009.9M1155.5 1001.2V1009.9M1156.4 1002.8V1009.9M1157.3 1002.8V1009.9M1158.2 1002.7V1009.9M1159.1 1002.1V1009.9M1160.0 1001.6V1009.9M1160.9 1002.6V1009.9M1161.8 1001.6V1009.9M1162.7 1003.0V1009.9M1163.6 1002.6V1009.9M1164.5 1001.7V1009.9M1165.4 1002.9V1009.9M1166.3 1001.8V1009.9M1167.2 1001.1V1009.9M1168.1 1001.8V1009.9M1169.0 1002.8V1009.9M1169.9 1002.2V1009.9M1170.8 1002.3V1009.9M1171.7 1001.2V1009.9M1172.6 1002.6V1009.9M1173.5 1001.8V1009.9M1174.4 1001.9V1009.9M1175.3 1001.7V1009.9M1176.2 1002.0V1009.9M1177.1 1002.4V1009.9M1178.0 1001.0V1009.9M1178.9 1002.7V1009.9M1179.8 1001.8V1009.9M1180.7 1002.0V1009.9M1181.6 1001.4V1009.9M1182.5 1002.5V1009.9M1183.4 1002.3V1009.9M1184.3 1002.2V1009.9M1185.2 1002.8V1009.9M1186.1 1002.1V1009.9M1187.0 1001.4V1009.9M1187.9 1001.9V1009.9M1188.8 1001.4V1009.9M1189.7 1001.8V1009.9M1190.6 1002.9V1009.9M1191.5 1002.4V1009.9M1192.4 1001.9V1009.9M1193.3 1002.9V1009.9M1194.2 1001.8V1009.9M1195.1 1001.5V1009.9M1196.0 1002.7V1009.9M1196.9 1001.7V1009.9M1197.8 1002.1V1009.9M1198.7 1001.6V1009.9M1199.6 1001.8V1009.9M1200.5 1002.2V1009.9M1201.4 1002.1V1009.9M1202.3 1002.2V1009.9M1203.2 1001.4V1009.9M1204.1 1002.2V1009.9M1205.0 1001.5V1009.9M1205.9 1000.7V1009.9M1206.8 1001.9V1009.9M1207.7 1001.7V1009.9M1208.6 1001.8V1009.9M1209.5 1002.2V1009.9M1210.4 1001.7V1009.9M1211.3 1002.4V1009.9M1212.2 1001.6V1009.9M1213.1 1001.3V1009.9M1214.0 1002.9V1009.9M1214.9 1001.8V1009.9M1215.8 1002.7V1009.9M1216.7 1002.2V1009.9M1217.6 1002.5V1009.9M1218.5 1002.3V1009.9M1219.4 1001.6V1009.9M1220.3 1001.5V1009.9M1221.2 1002.3V1009.9M1222.1 1002.9V1009.9M1223.0 1002.9V1009.9M1223.9 1002.9V1009.9M1224.8 1001.6V1009.9M1225.7 1002.9V1009.9M1226.6 1001.6V1009.9M1227.5 1001.3V1009.9M1228.4 999.9V1009.9M1229.3 1002.5V1009.9M1230.2 1002.6V1009.9M1231.1 1002.1V1009.9M1232.0 1002.7V1009.9M1232.9 1001.7V1009.9M1233.8 1002.7V1009.9M1234.7 1001.3V1009.9M1235.6 1002.3V1009.9M1236.5 1001.7V1009.9M1237.4 1001.3V1009.9M1238.3 1002.2V1009.9M1239.2 1001.2V1009.9M1240.1 1002.2V1009.9M1241.0 1002.8V1009.9M1241.9 1001.8V1009.9M1242.8 1002.4V1009.9M1243.7 1002.7V1009.9M1244.6 1002.6V1009.9M1245.5 1002.3V1009.9M1246.4 1000.7V1009.9M1247.3 1002.0V1009.9M1248.2 1000.8V1009.9M1249.1 1002.5V1009.9M1250.0 1002.6V1009.9M1250.9 1001.7V1009.9M1251.8 1001.8V1009.9M1252.7 1002.3V1009.9M1253.6 1002.8V1009.9M1254.5 1002.1V1009.9M1255.6 995.9V1009.9M1256.5 995.8V1009.9M1257.4 996.2V1009.9M1258.3 995.8V1009.9M1259.2 996.1V1009.9M1260.1 995.7V1009.9M1261.0 996.3V1009.9M1261.9 996.0V1009.9M1262.8 995.9V1009.9M1263.7 996.1V1009.9M1264.6 995.9V1009.9M1265.5 995.7V1009.9M1266.4 995.8V1009.9M1267.3 995.8V1009.9M1268.2 995.7V1009.9M1269.1 996.3V1009.9M1270.0 996.2V1009.9M1270.9 996.2V1009.9M1271.8 996.2V1009.9M1272.7 996.0V1009.9M1273.6 996.0V1009.9M1274.5 995.8V1009.9M1275.4 996.2V1009.9M1276.3 995.9V1009.9M1277.2 995.9V1009.9M1278.1 996.0V1009.9M1279.0 996.2V1009.9M1279.9 995.8V1009.9M1280.8 996.3V1009.9M1281.7 995.9V1009.9M1282.6 996.0V1009.9M1283.5 996.2V1009.9M1284.4 995.8V1009.9M1285.3 996.1V1009.9M1286.2 996.0V1009.9M1287.1 995.9V1009.9M1288.0 995.9V1009.9M1288.9 995.8V1009.9M1289.8 996.1V1009.9M1290.7 996.1V1009.9M1291.6 995.8V1009.9M1292.5 996.1V1009.9M1293.4 995.9V1009.9M1294.3 995.7V1009.9M1295.2 995.9V1009.9M1296.1 995.7V1009.9M1297.0 995.8V1009.9" stroke="#000" stroke-width="2.4" stroke-linecap="round" fill="none"/>
<path d="M164.0 1009.8h2.5M174.3 1009.8h2.6M180.1 1009.7h3.0M188.0 1009.7h2.9M193.3 1009.7h1.2M195.5 1009.8h2.0M198.1 1010.0h2.0M202.1 1010.1h1.0M205.5 1009.7h1.2M207.6 1010.0h1.2M210.7 1010.1h1.5M213.9 1009.9h2.1M217.6 1009.8h1.1M219.7 1010.0h1.7M225.4 1009.9h2.1M228.0 1009.6h1.9M231.2 1009.7h2.3M234.6 1009.8h2.1M236.9 1009.7h1.9M239.7 1010.0h1.7M249.2 1009.9h2.8M251.6 1009.9h2.2M254.1 1009.8h2.8M257.8 1009.8h2.3M261.2 1009.7h2.1M263.7 1010.2h2.4M266.0 1009.8h1.6M269.5 1010.1h2.2M273.5 1009.8h1.7M276.7 1010.2h1.2M280.6 1010.0h1.1M283.7 1010.0h2.8M288.9 1010.1h1.5M292.2 1009.9h1.5M294.7 1010.1h2.8M300.4 1009.8h1.8M303.7 1009.6h1.9M306.5 1009.8h1.9M309.4 1009.9h2.2M311.8 1010.1h2.0M314.4 1009.8h2.2M321.0 1010.0h1.3M326.0 1009.7h2.6M328.9 1009.9h1.9M335.4 1010.2h2.2M341.0 1009.8h2.1M343.9 1009.9h2.8M346.6 1009.6h1.7M352.8 1010.1h2.1M356.7 1010.1h2.8M358.9 1009.7h2.6M362.2 1010.0h2.9M368.3 1010.1h1.3M371.7 1010.0h2.1M377.8 1009.8h2.0M379.9 1009.8h3.0M383.9 1010.0h2.3M391.0 1010.0h2.7M393.3 1010.1h1.0M396.0 1009.7h1.8M398.8 1010.2h2.8M401.2 1010.0h1.7M404.2 1010.1h2.4M408.0 1009.9h1.6M424.2 1009.9h2.9M426.5 1010.1h2.9M428.8 1009.9h1.1M430.8 1010.0h1.8M433.4 1009.9h2.0M437.0 1010.0h2.9M439.0 1009.8h2.5M441.3 1009.9h1.7M445.0 1010.1h2.2M447.3 1009.8h2.6M451.0 1010.1h1.3M457.8 1010.2h2.8M462.7 1010.0h2.9M465.3 1010.0h2.4M468.2 1009.8h2.8M470.9 1009.6h1.1M473.8 1010.0h2.6M477.7 1009.7h1.4M481.7 1010.1h1.2M484.7 1009.9h2.4M488.5 1010.1h1.7M491.1 1009.9h1.7M493.9 1009.6h2.8M497.4 1009.7h1.7M500.1 1009.9h2.7M503.0 1010.0h2.8M506.9 1009.7h1.1M512.8 1009.9h1.6M525.8 1009.8h1.0M527.9 1010.1h2.0M530.9 1009.7h2.9M534.6 1009.7h2.4M537.9 1009.8h1.2M548.1 1009.9h2.5M550.6 1009.8h2.7M554.1 1009.7h1.8M563.4 1009.7h1.5M565.7 1009.9h1.0M569.5 1009.8h1.5M572.0 1009.7h1.1M579.6 1010.0h1.3M581.9 1009.7h2.0M584.8 1009.9h1.5M591.4 1009.8h2.8M595.2 1009.7h1.5M597.9 1010.2h2.1M600.5 1009.8h2.0M603.3 1009.8h2.6M609.5 1010.0h2.4M612.3 1009.8h1.3M615.8 1010.2h1.6M618.4 1010.0h2.2M621.3 1010.2h3.0M623.6 1009.7h1.4M626.6 1009.9h2.8M629.8 1010.0h2.8M633.1 1009.8h2.2M644.9 1010.2h1.9M648.8 1009.6h2.9M651.2 1010.0h2.8M653.9 1009.7h2.9M657.8 1009.6h2.0M663.3 1009.7h1.6M666.0 1009.9h1.6M669.8 1010.1h2.5M673.5 1010.0h1.7M676.4 1009.6h1.9M679.4 1010.1h1.9M682.4 1010.2h2.9M689.4 1010.2h1.9M692.0 1010.2h2.2M694.6 1009.6h1.7M696.8 1009.7h2.2M702.7 1010.1h2.9M705.2 1009.8h2.5M707.9 1009.9h2.5M711.7 1009.8h1.7M714.1 1009.8h1.9M718.0 1009.9h1.9M720.3 1010.2h2.3M725.7 1009.8h2.8M728.2 1010.0h2.6M731.7 1009.7h2.9M734.9 1009.8h1.7M743.1 1009.7h2.5M746.6 1009.8h2.6M749.1 1009.7h1.8M751.4 1010.0h1.4M754.0 1010.1h2.1M756.7 1010.2h2.4M759.1 1009.8h1.9M762.6 1009.8h2.8M770.1 1010.0h1.3M773.8 1010.0h1.7M776.0 1009.8h1.4M779.9 1010.1h2.7M790.5 1010.0h1.4M793.8 1009.7h1.5M797.4 1009.9h1.5M803.7 1010.0h2.4M810.8 1010.2h1.3M816.0 1009.7h2.6M819.1 1009.7h1.1M823.7 1009.7h1.7M826.1 1009.8h2.9M828.2 1010.0h1.8M830.7 1009.8h1.1M833.3 1009.7h2.9M836.1 1009.7h1.3M839.1 1010.2h1.7M841.6 1010.1h2.0M844.2 1010.2h2.1M847.9 1009.9h1.6M851.0 1009.8h2.1M854.4 1010.1h1.0M858.2 1009.8h1.9M864.0 1009.7h2.0M867.4 1009.7h1.1M870.1 1010.0h2.0M873.7 1009.7h1.6M876.8 1010.0h2.1M880.3 1010.2h2.9M883.7 1010.2h2.2M886.0 1010.1h1.4M888.1 1009.9h1.9M891.8 1010.1h2.6M895.1 1010.0h2.4M897.2 1010.0h1.6M903.3 1010.1h1.9M906.4 1009.9h1.2M909.2 1010.1h2.8M917.8 1010.0h2.4M920.0 1009.8h1.3M931.2 1010.0h1.7M938.4 1010.0h2.1M946.8 1009.8h2.8M949.9 1009.8h1.4M953.0 1010.1h2.7M956.6 1010.0h1.0M960.3 1009.8h1.2M972.0 1009.6h1.6M979.2 1010.1h1.6M984.4 1009.8h2.7M986.6 1009.8h1.8M993.0 1009.9h2.1M996.4 1009.8h1.6M1009.2 1010.1h2.3M1011.8 1009.6h1.2M1032.0 1010.1h1.1M1035.0 1009.7h1.5M1041.8 1009.7h1.3M1044.4 1009.8h1.6M1046.7 1010.2h2.8M1049.8 1010.2h1.9M1060.1 1009.9h2.1M1062.5 1009.9h1.0M1065.2 1010.0h2.5M1071.0 1010.0h1.4M1073.9 1009.6h2.0M1086.7 1010.1h1.7M1090.5 1009.7h1.9M1093.3 1009.8h3.0M1095.4 1009.7h2.8M1098.0 1009.8h2.5M1100.2 1009.7h1.7M1102.8 1009.6h2.5M1105.2 1010.0h2.4M1108.4 1010.0h2.1M1112.0 1009.8h1.4M1114.8 1009.6h1.4M1118.4 1009.8h2.1M1128.1 1009.9h2.0M1130.3 1010.0h2.1M1133.0 1009.8h2.8M1136.2 1009.9h2.6M1139.6 1009.8h2.0M1142.6 1010.1h2.3M1146.1 1010.1h1.1M1149.5 1009.7h2.9M1155.3 1009.7h2.3M1159.9 1009.7h2.5M1163.6 1009.9h2.1M1170.1 1009.8h1.9M1173.2 1009.8h1.7M1175.5 1010.1h1.6M1179.3 1010.1h1.9M1181.7 1009.7h2.3M1188.4 1009.7h1.2M1190.5 1009.9h1.6M1193.2 1009.8h2.3M1195.6 1009.8h1.2M1198.9 1009.6h1.7M1201.9 1010.1h1.2M1211.4 1010.0h2.0M1214.2 1010.1h2.4M1217.4 1010.1h1.4M1221.2 1009.8h1.7M1223.7 1009.7h1.8M1225.8 1010.2h2.7M1229.7 1010.1h1.9M1233.5 1009.8h1.3M1236.4 1010.0h2.4M1238.7 1010.0h2.9M1242.4 1010.1h1.0M1248.2 1010.0h2.2M1250.8 1009.9h2.7M1253.2 1010.1h2.8M1256.4 1010.0h2.9M1259.4 1010.2h1.1M1262.1 1009.9h2.9M1264.3 1009.8h1.6M1267.3 1009.6h2.1M1270.6 1010.1h2.6M1282.4 1009.9h2.9M1284.9 1010.1h2.5M1287.0 1009.6h2.4" stroke="#f2f2f2" stroke-width="1.15" fill="none"/>
<g fill="#000"><circle cx="193.2" cy="994.2" r="1.3"/><circle cx="196.3" cy="996.1" r="1.3"/><circle cx="211.7" cy="1001.4" r="1.3"/><circle cx="224.4" cy="1001.4" r="1.3"/><circle cx="228.5" cy="1000.2" r="1.3"/><circle cx="293.5" cy="999.7" r="1.3"/><circle cx="328.3" cy="998.3" r="1.3"/><circle cx="369.6" cy="998.3" r="1.3"/><circle cx="492.5" cy="999.5" r="1.3"/><circle cx="527.6" cy="995.4" r="1.3"/><circle cx="535.3" cy="1001.4" r="1.3"/><circle cx="570.3" cy="994.2" r="1.3"/><circle cx="572.5" cy="998.3" r="1.3"/><circle cx="587.6" cy="1002.1" r="1.3"/><circle cx="613.3" cy="1001.4" r="1.3"/><circle cx="628.4" cy="994.2" r="1.3"/><circle cx="636.3" cy="1000.2" r="1.3"/><circle cx="691.3" cy="1002.1" r="1.3"/><circle cx="708.3" cy="1001.4" r="1.3"/><circle cx="753.7" cy="1003.1" r="1.3"/><circle cx="778.4" cy="1001.4" r="1.3"/><circle cx="787.3" cy="997.1" r="1.3"/><circle cx="831.2" cy="995.4" r="1.3"/><circle cx="887.7" cy="1003.0" r="1.3"/><circle cx="900.4" cy="1003.0" r="1.3"/><circle cx="997.6" cy="998.3" r="1.3"/><circle cx="1013.7" cy="997.1" r="1.3"/><circle cx="1110.0" cy="994.3" r="1.3"/><circle cx="1185.5" cy="995.4" r="1.3"/><circle cx="1202.4" cy="997.3" r="1.3"/><circle cx="1209.4" cy="998.4" r="1.3"/></g>
<g fill="#f00"><circle cx="199.7" cy="981.5" r="1.25"/><circle cx="194.9" cy="991.3" r="1.25"/><circle cx="197.5" cy="991.3" r="1.25"/><circle cx="354.5" cy="990.1" r="1.25"/><circle cx="407.5" cy="992.3" r="1.25"/><circle cx="518.5" cy="984.1" r="1.25"/><circle cx="569.6" cy="976.2" r="1.25"/><circle cx="655.5" cy="985.3" r="1.25"/><circle cx="689.6" cy="990.1" r="1.25"/><circle cx="1008.4" cy="993.5" r="1.25"/><circle cx="1210.3" cy="992.5" r="1.25"/></g>
</g>
<path d="M162.0 954.5V725.5" stroke="#800080" stroke-width="2.08" stroke-dasharray="2.083 3.4375" fill="none"/>
<path d="M192.0 954.5V725.5" stroke="#800080" stroke-width="2.08" stroke-dasharray="2.083 3.4375" fill="none"/>
<path d="M202.0 954.5V725.5" stroke="#800080" stroke-width="2.08" stroke-dasharray="2.083 3.4375" fill="none"/>
<path d="M256.0 954.5V725.5" stroke="#800080" stroke-width="2.08" stroke-dasharray="2.083 3.4375" fill="none"/>
<path d="M262.0 954.5V725.5" stroke="#800080" stroke-width="2.08" stroke-dasharray="2.083 3.4375" fill="none"/>
<path d="M475.0 954.5V725.5" stroke="#800080" stroke-width="2.08" stroke-dasharray="2.083 3.4375" fill="none"/>
<path d="M555.0 954.5V725.5" stroke="#800080" stroke-width="2.08" stroke-dasharray="2.083 3.4375" fill="none"/>
<path d="M634.0 954.5V725.5" stroke="#800080" stroke-width="2.08" stroke-dasharray="2.083 3.4375" fill="none"/>
<path d="M688.0 954.5V725.5" stroke="#800080" stroke-width="2.08" stroke-dasharray="2.083 3.4375" fill="none"/>
<path d="M893.0 954.5V725.5" stroke="#800080" stroke-width="2.08" stroke-dasharray="2.083 3.4375" fill="none"/>
<path d="M1109.0 954.5V725.5" stroke="#800080" stroke-width="2.08" stroke-dasharray="2.083 3.4375" fill="none"/>
<path d="M1115.0 954.5V725.5" stroke="#800080" stroke-width="2.08" stroke-dasharray="2.083 3.4375" fill="none"/>
<path d="M1169.0 954.5V725.5" stroke="#800080" stroke-width="2.08" stroke-dasharray="2.083 3.4375" fill="none"/>
<path d="M1255.0 954.5V725.5" stroke="#800080" stroke-width="2.08" stroke-dasharray="2.083 3.4375" fill="none"/>
<path d="M1296.0 954.5V725.5" stroke="#800080" stroke-width="2.08" stroke-dasharray="2.083 3.4375" fill="none"/>
<path d="M162.0 1011.5V954.5" stroke="#800080" stroke-width="2.08" stroke-dasharray="2.083 3.4375" fill="none"/>
<path d="M192.0 1011.5V954.5" stroke="#800080" stroke-width="2.08" stroke-dasharray="2.083 3.4375" fill="none"/>
<path d="M202.0 1011.5V954.5" stroke="#800080" stroke-width="2.08" stroke-dasharray="2.083 3.4375" fill="none"/>
<path d="M256.0 1011.5V954.5" stroke="#800080" stroke-width="2.08" stroke-dasharray="2.083 3.4375" fill="none"/>
<path d="M262.0 1011.5V954.5" stroke="#800080" stroke-width="2.08" stroke-dasharray="2.083 3.4375" fill="none"/>
<path d="M475.0 1011.5V954.5" stroke="#800080" stroke-width="2.08" stroke-dasharray="2.083 3.4375" fill="none"/>
<path d="M555.0 1011.5V954.5" stroke="#800080" stroke-width="2.08" stroke-dasharray="2.083 3.4375" fill="none"/>
<path d="M634.0 1011.5V954.5" stroke="#800080" stroke-width="2.08" stroke-dasharray="2.083 3.4375" fill="none"/>
<path d="M688.0 1011.5V954.5" stroke="#800080" stroke-width="2.08" stroke-dasharray="2.083 3.4375" fill="none"/>
<path d="M893.0 1011.5V954.5" stroke="#800080" stroke-width="2.08" stroke-dasharray="2.083 3.4375" fill="none"/>
<path d="M1109.0 1011.5V954.5" stroke="#800080" stroke-width="2.08" stroke-dasharray="2.083 3.4375" fill="none"/>
<path d="M1115.0 1011.5V954.5" stroke="#800080" stroke-width="2.08" stroke-dasharray="2.083 3.4375" fill="none"/>
<path d="M1169.0 1011.5V954.5" stroke="#800080" stroke-width="2.08" stroke-dasharray="2.083 3.4375" fill="none"/>
<path d="M1255.0 1011.5V954.5" stroke="#800080" stroke-width="2.08" stroke-dasharray="2.083 3.4375" fill="none"/>
<path d="M1296.0 1011.5V954.5" stroke="#800080" stroke-width="2.08" stroke-dasharray="2.083 3.4375" fill="none"/>
<rect x="105.5" y="725.5" width="1373.0" height="286.0" fill="none" stroke="#000" stroke-width="1.1"/>
<path d="M105.5 954.5H1478.5" stroke="#000" stroke-width="1.1"/>
<path d="M162.4 1011.5v4.9" stroke="#000" stroke-width="1.1"/>
<path d="M377.9 1011.5v4.9" stroke="#000" stroke-width="1.1"/>
<path d="M593.4 1011.5v4.9" stroke="#000" stroke-width="1.1"/>
<path d="M808.9 1011.5v4.9" stroke="#000" stroke-width="1.1"/>
<path d="M1024.4 1011.5v4.9" stroke="#000" stroke-width="1.1"/>
<path d="M1239.9 1011.5v4.9" stroke="#000" stroke-width="1.1"/>
<path d="M1455.4 1011.5v4.9" stroke="#000" stroke-width="1.1"/>
<path d="M105.5 763.5h-4.9" stroke="#000" stroke-width="1.1"/>
<path d="M105.5 802.5h-4.9" stroke="#000" stroke-width="1.1"/>
<path d="M105.5 840.5h-4.9" stroke="#000" stroke-width="1.1"/>
<path d="M105.5 878.5h-4.9" stroke="#000" stroke-width="1.1"/>
<path d="M105.5 916.5h-4.9" stroke="#000" stroke-width="1.1"/>
<path d="M105.5 1009.6h-4.9" stroke="#000" stroke-width="1.1"/>
<path d="M105.5 983.5h-4.9" stroke="#000" stroke-width="1.1"/>
<path d="M105.5 957.3h-4.9" stroke="#000" stroke-width="1.1"/>
<path d="M105.5 996.5h-2.8" stroke="#000" stroke-width="0.85"/>
<path d="M105.5 970.4h-2.8" stroke="#000" stroke-width="0.85"/>
<path d="M1478.9 965.8a1.7 4.3 0 0 1 0 8.6z" fill="#000"/>
</svg>
<div class="t" style="left:158.34px;top:329.10px;font-size:14.58px;line-height:17.50px;letter-spacing:0.655px;">0</div>
<div class="t" style="left:356.31px;top:329.10px;font-size:14.58px;line-height:17.50px;letter-spacing:0.655px;">20000</div>
<div class="t" style="left:571.81px;top:329.10px;font-size:14.58px;line-height:17.50px;letter-spacing:0.655px;">40000</div>
<div class="t" style="left:787.31px;top:329.10px;font-size:14.58px;line-height:17.50px;letter-spacing:0.655px;">60000</div>
<div class="t" style="left:1002.81px;top:329.10px;font-size:14.58px;line-height:17.50px;letter-spacing:0.655px;">80000</div>
<div class="t" style="left:1213.93px;top:329.10px;font-size:14.58px;line-height:17.50px;letter-spacing:0.655px;">100000</div>
<div class="t" style="left:1429.43px;top:329.10px;font-size:14.58px;line-height:17.50px;letter-spacing:0.655px;">120000</div>
<div class="t" style="left:73.63px;top:40.50px;font-size:14.58px;line-height:17.50px;letter-spacing:0.546px;">9.6</div>
<div class="t" style="left:73.63px;top:80.50px;font-size:14.58px;line-height:17.50px;letter-spacing:0.546px;">9.4</div>
<div class="t" style="left:73.63px;top:120.50px;font-size:14.58px;line-height:17.50px;letter-spacing:0.546px;">9.2</div>
<div class="t" style="left:73.63px;top:160.50px;font-size:14.58px;line-height:17.50px;letter-spacing:0.546px;">9.0</div>
<div class="t" style="left:73.63px;top:200.50px;font-size:14.58px;line-height:17.50px;letter-spacing:0.546px;">8.8</div>
<div class="t" style="left:73.63px;top:240.50px;font-size:14.58px;line-height:17.50px;letter-spacing:0.546px;">8.6</div>
<div class="t" style="left:73.63px;top:280.50px;font-size:14.58px;line-height:17.50px;letter-spacing:0.546px;">8.4</div>
<div class="t" style="left:159.80px;top:298.70px;font-size:14.58px;line-height:17.50px;letter-spacing:0.655px;">4753</div>
<div class="t" style="left:175.41px;top:278.80px;font-size:14.58px;line-height:17.50px;letter-spacing:0.655px;">54828</div>
<div class="t" style="left:207.41px;top:258.80px;font-size:14.58px;line-height:17.50px;letter-spacing:0.655px;">14801</div>
<div class="t" style="left:237.41px;top:298.70px;font-size:14.58px;line-height:17.50px;letter-spacing:0.655px;">53462</div>
<div class="t" style="left:346.91px;top:278.80px;font-size:14.58px;line-height:17.50px;letter-spacing:0.655px;">16000</div>
<div class="t" style="left:493.41px;top:258.80px;font-size:14.58px;line-height:17.50px;letter-spacing:0.655px;">16001</div>
<div class="t" style="left:572.91px;top:298.70px;font-size:14.58px;line-height:17.50px;letter-spacing:0.655px;">16484</div>
<div class="t" style="left:639.41px;top:278.80px;font-size:14.58px;line-height:17.50px;letter-spacing:0.655px;">16485</div>
<div class="t" style="left:768.91px;top:258.80px;font-size:14.58px;line-height:17.50px;letter-spacing:0.655px;">16002</div>
<div class="t" style="left:979.41px;top:298.70px;font-size:14.58px;line-height:17.50px;letter-spacing:0.655px;">16003</div>
<div class="t" style="left:1090.41px;top:278.80px;font-size:14.58px;line-height:17.50px;letter-spacing:0.655px;">53162</div>
<div class="t" style="left:1120.41px;top:258.80px;font-size:14.58px;line-height:17.50px;letter-spacing:0.655px;">21000</div>
<div class="t" style="left:1190.41px;top:298.70px;font-size:14.58px;line-height:17.50px;letter-spacing:0.655px;">20333</div>
<div class="t" style="left:1253.91px;top:278.80px;font-size:14.58px;line-height:17.50px;letter-spacing:0.655px;">30486</div>
<div class="t" style="left:693.50px;top:12.04px;font-size:17.50px;line-height:21.00px;letter-spacing:0.332px;">AGASC ID 157953216.0</div>
<div class="t" style="left:1400.40px;top:45.60px;font-size:14.58px;line-height:17.50px;letter-spacing:0.911px;">mag</div>
<div class="t" style="left:1430.40px;top:52.34px;font-size:10.21px;line-height:12.25px;letter-spacing:-0.335px;font-style:italic;">AGASC</div>
<div class="t" style="left:1385.70px;top:250.70px;font-size:14.58px;line-height:17.50px;letter-spacing:0.364px;">not OK</div>
<div class="t" style="left:1385.70px;top:271.80px;font-size:14.58px;line-height:17.50px;letter-spacing:0.703px;">Highlighted</div>
<div class="t" style="left:1385.70px;top:292.80px;font-size:14.58px;line-height:17.50px;letter-spacing:-0.435px;">OK</div>
<div class="t" style="left:158.34px;top:674.10px;font-size:14.58px;line-height:17.50px;letter-spacing:0.655px;">0</div>
<div class="t" style="left:356.31px;top:674.10px;font-size:14.58px;line-height:17.50px;letter-spacing:0.655px;">20000</div>
<div class="t" style="left:571.81px;top:674.10px;font-size:14.58px;line-height:17.50px;letter-spacing:0.655px;">40000</div>
<div class="t" style="left:787.31px;top:674.10px;font-size:14.58px;line-height:17.50px;letter-spacing:0.655px;">60000</div>
<div class="t" style="left:1002.81px;top:674.10px;font-size:14.58px;line-height:17.50px;letter-spacing:0.655px;">80000</div>
<div class="t" style="left:1213.93px;top:674.10px;font-size:14.58px;line-height:17.50px;letter-spacing:0.655px;">100000</div>
<div class="t" style="left:1429.43px;top:674.10px;font-size:14.58px;line-height:17.50px;letter-spacing:0.655px;">120000</div>
<div class="t" style="left:64.90px;top:401.40px;font-size:14.58px;line-height:17.50px;letter-spacing:0.573px;">9.50</div>
<div class="t" style="left:64.90px;top:450.40px;font-size:14.58px;line-height:17.50px;letter-spacing:0.573px;">9.45</div>
<div class="t" style="left:64.90px;top:499.40px;font-size:14.58px;line-height:17.50px;letter-spacing:0.573px;">9.40</div>
<div class="t" style="left:64.90px;top:548.40px;font-size:14.58px;line-height:17.50px;letter-spacing:0.573px;">9.35</div>
<div class="t" style="left:64.90px;top:597.40px;font-size:14.58px;line-height:17.50px;letter-spacing:0.573px;">9.30</div>
<div class="t" style="left:64.90px;top:646.40px;font-size:14.58px;line-height:17.50px;letter-spacing:0.573px;">9.25</div>
<div class="t" style="left:159.80px;top:643.70px;font-size:14.58px;line-height:17.50px;letter-spacing:0.655px;">4753</div>
<div class="t" style="left:175.41px;top:623.80px;font-size:14.58px;line-height:17.50px;letter-spacing:0.655px;">54828</div>
<div class="t" style="left:207.41px;top:603.80px;font-size:14.58px;line-height:17.50px;letter-spacing:0.655px;">14801</div>
<div class="t" style="left:237.41px;top:643.70px;font-size:14.58px;line-height:17.50px;letter-spacing:0.655px;">53462</div>
<div class="t" style="left:346.91px;top:623.80px;font-size:14.58px;line-height:17.50px;letter-spacing:0.655px;">16000</div>
<div class="t" style="left:493.41px;top:603.80px;font-size:14.58px;line-height:17.50px;letter-spacing:0.655px;">16001</div>
<div class="t" style="left:572.91px;top:643.70px;font-size:14.58px;line-height:17.50px;letter-spacing:0.655px;">16484</div>
<div class="t" style="left:639.41px;top:623.80px;font-size:14.58px;line-height:17.50px;letter-spacing:0.655px;">16485</div>
<div class="t" style="left:768.91px;top:603.80px;font-size:14.58px;line-height:17.50px;letter-spacing:0.655px;">16002</div>
<div class="t" style="left:979.41px;top:643.70px;font-size:14.58px;line-height:17.50px;letter-spacing:0.655px;">16003</div>
<div class="t" style="left:1090.41px;top:623.80px;font-size:14.58px;line-height:17.50px;letter-spacing:0.655px;">53162</div>
<div class="t" style="left:1120.41px;top:603.80px;font-size:14.58px;line-height:17.50px;letter-spacing:0.655px;">21000</div>
<div class="t" style="left:1190.41px;top:643.70px;font-size:14.58px;line-height:17.50px;letter-spacing:0.655px;">20333</div>
<div class="t" style="left:1253.91px;top:623.80px;font-size:14.58px;line-height:17.50px;letter-spacing:0.655px;">30486</div>
<div class="t" style="left:704.38px;top:357.04px;font-size:17.50px;line-height:21.00px;letter-spacing:0.657px;">Magnitude Estimates</div>
<div class="t" style="left:1403.40px;top:390.60px;font-size:14.58px;line-height:17.50px;letter-spacing:0.911px;">mag</div>
<div class="t" style="left:1433.40px;top:397.34px;font-size:10.21px;line-height:12.25px;letter-spacing:-0.135px;font-style:italic;">OBSID</div>
<div class="t" style="left:1402.60px;top:413.70px;font-size:14.58px;line-height:17.50px;letter-spacing:0.911px;">mag</div>
<div class="t" style="left:1385.70px;top:616.70px;font-size:14.58px;line-height:17.50px;letter-spacing:0.703px;">Highlighted</div>
<div class="t" style="left:1385.70px;top:637.70px;font-size:14.58px;line-height:17.50px;letter-spacing:-0.435px;">OK</div>
<div class="t" style="left:158.34px;top:1019.10px;font-size:14.58px;line-height:17.50px;letter-spacing:0.655px;">0</div>
<div class="t" style="left:356.31px;top:1019.10px;font-size:14.58px;line-height:17.50px;letter-spacing:0.655px;">20000</div>
<div class="t" style="left:571.81px;top:1019.10px;font-size:14.58px;line-height:17.50px;letter-spacing:0.655px;">40000</div>
<div class="t" style="left:787.31px;top:1019.10px;font-size:14.58px;line-height:17.50px;letter-spacing:0.655px;">60000</div>
<div class="t" style="left:1002.81px;top:1019.10px;font-size:14.58px;line-height:17.50px;letter-spacing:0.655px;">80000</div>
<div class="t" style="left:1213.93px;top:1019.10px;font-size:14.58px;line-height:17.50px;letter-spacing:0.655px;">100000</div>
<div class="t" style="left:1429.43px;top:1019.10px;font-size:14.58px;line-height:17.50px;letter-spacing:0.655px;">120000</div>
<div class="t" style="left:16.74px;top:755.60px;font-size:14.58px;line-height:17.50px;letter-spacing:0.610px;">not Kalman</div>
<div class="t" style="left:33.78px;top:794.60px;font-size:14.58px;line-height:17.50px;letter-spacing:0.787px;">not track</div>
<div class="t" style="left:38.37px;top:832.60px;font-size:14.58px;line-height:17.50px;letter-spacing:0.515px;">Ion. rad.</div>
<div class="t" style="left:52.90px;top:870.60px;font-size:14.58px;line-height:17.50px;letter-spacing:1.081px;">dr > 5</div>
<div class="t" style="left:14.81px;top:908.60px;font-size:14.58px;line-height:17.50px;letter-spacing:0.105px;">OBS not OK</div>
<div class="t" style="left:86.89px;top:1001.70px;font-size:14.58px;line-height:17.50px;letter-spacing:0.655px;">0</div>
<div class="t" style="left:86.89px;top:975.55px;font-size:14.58px;line-height:17.50px;letter-spacing:0.655px;">5</div>
<div class="t" style="left:78.12px;top:949.40px;font-size:14.58px;line-height:17.50px;letter-spacing:0.655px;">10</div>
<div class="t" style="left:61.68px;top:970.20px;font-size:14.58px;line-height:17.50px;letter-spacing:0.838px;transform-origin:7.32px 13.80px;transform:rotate(-90deg);">dr</div>
</body></html>
